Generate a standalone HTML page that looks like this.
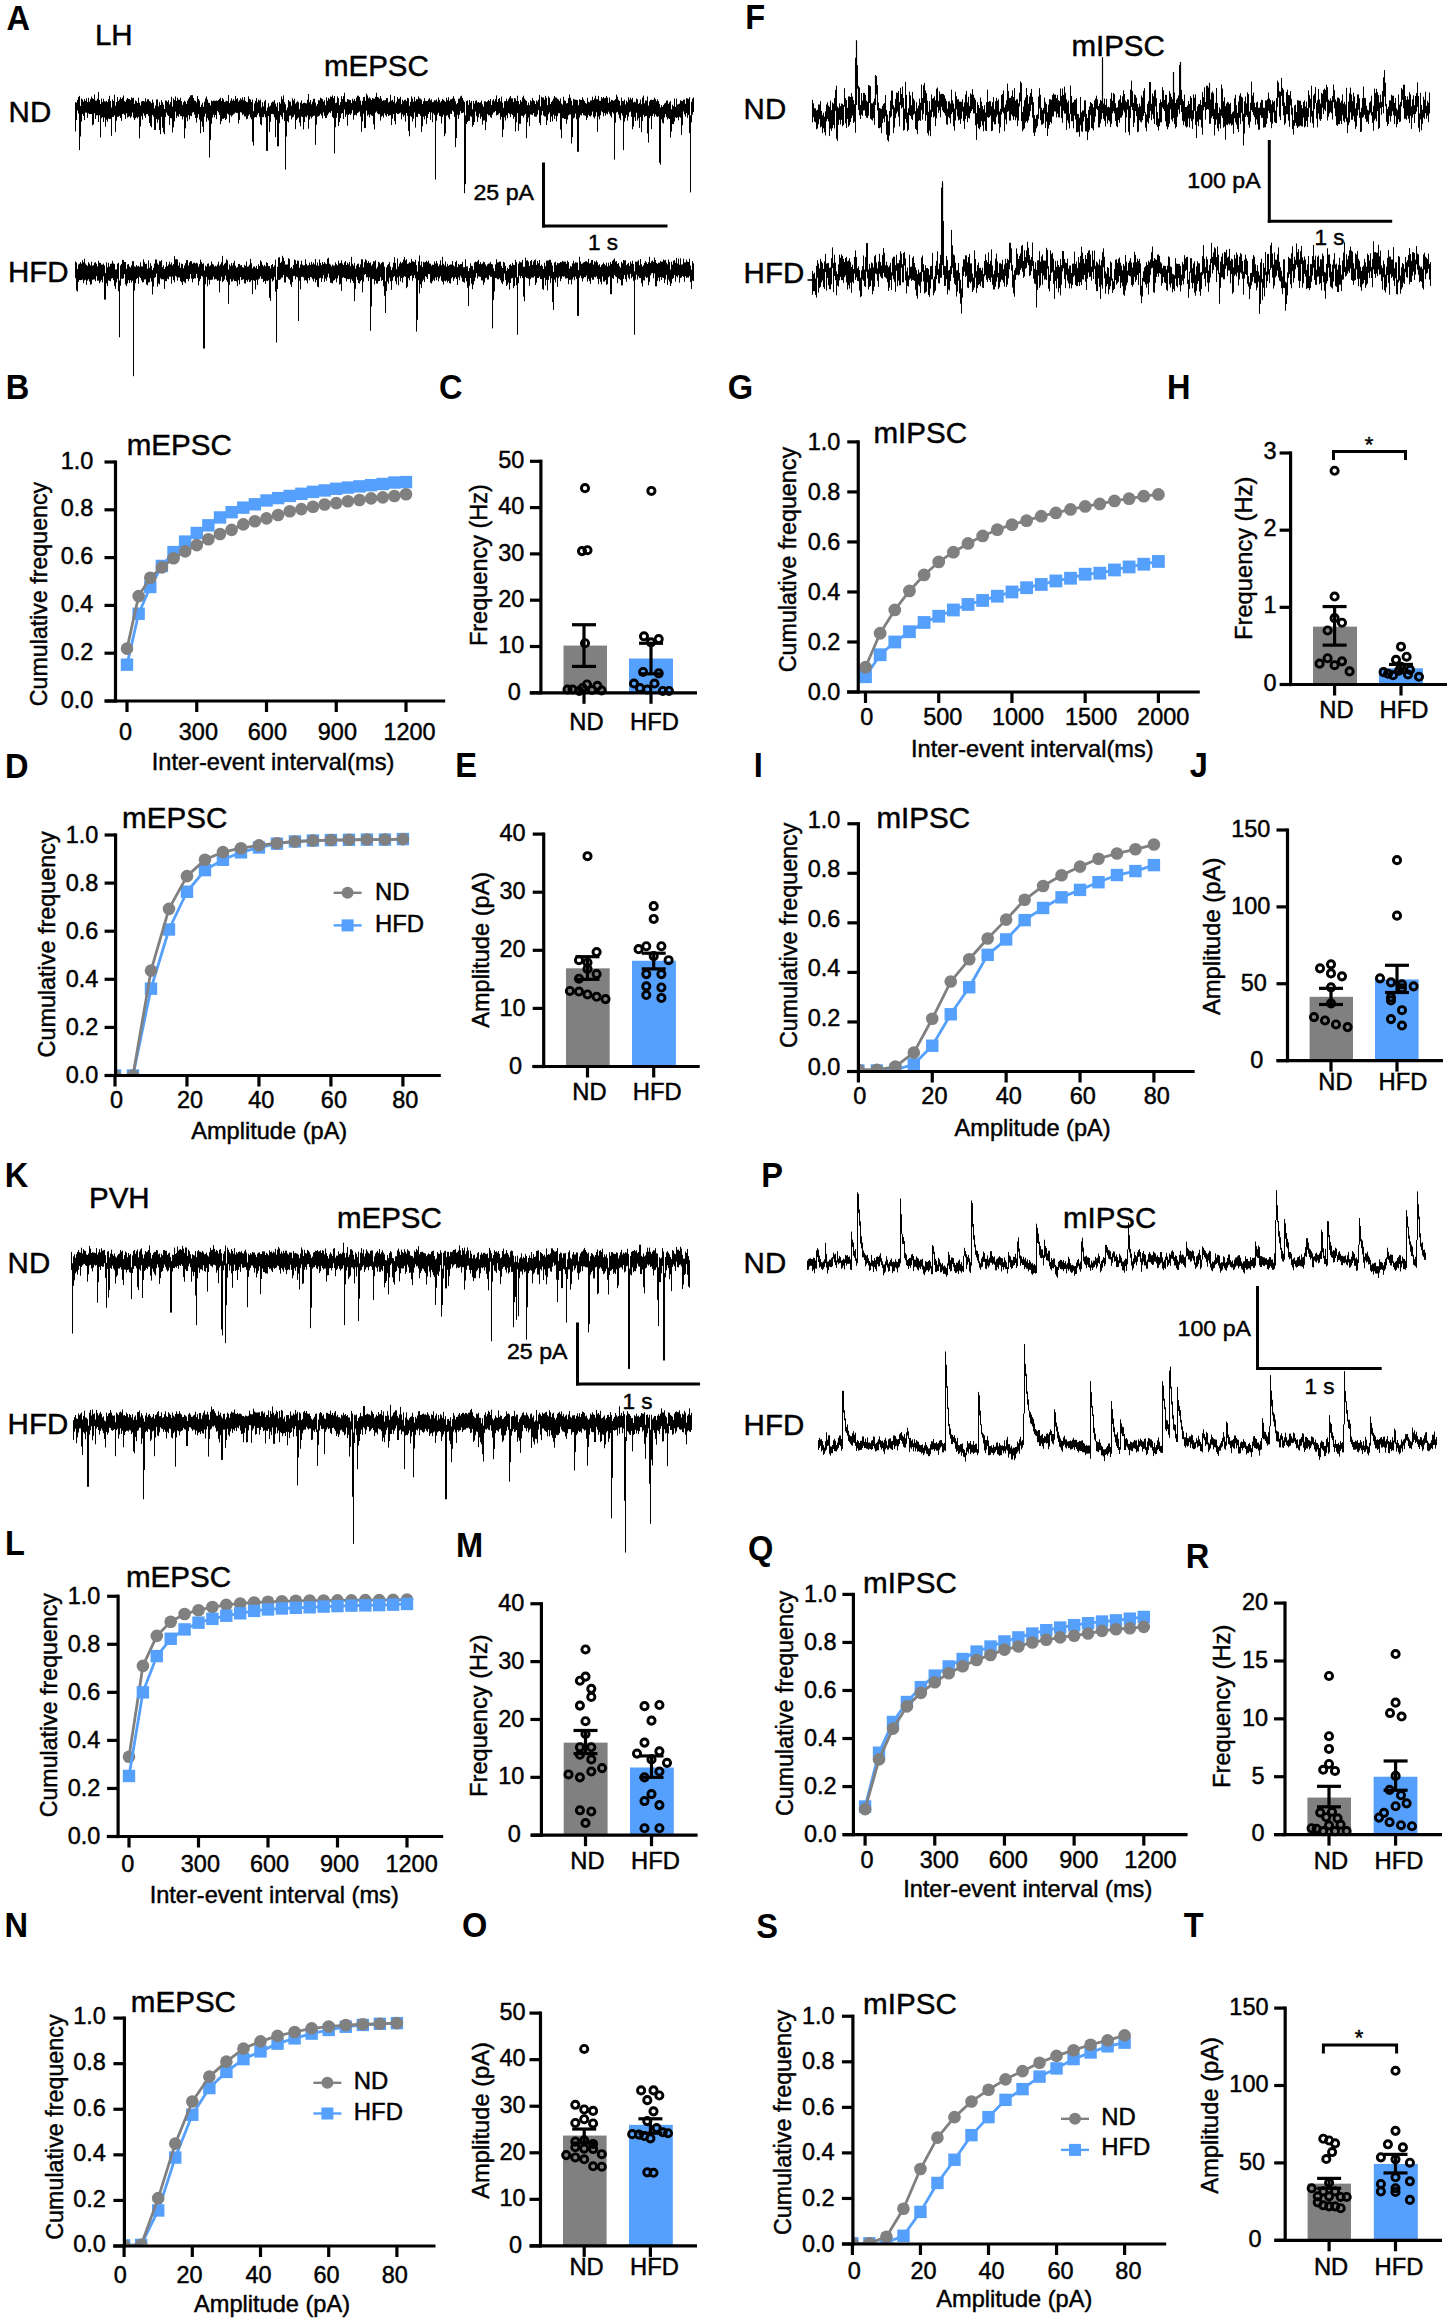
<!DOCTYPE html>
<html><head><meta charset="utf-8"><style>
html,body{margin:0;padding:0;background:#fff;}
svg{display:block;}
text{font-family:"Liberation Sans", sans-serif;stroke:#000;stroke-width:0.45px;}
text[font-weight=bold]{stroke:none;}
</style></head><body>
<svg width="1450" height="2319" viewBox="0 0 1450 2319">
<rect width="1450" height="2319" fill="#fff"/>
<text transform="translate(6.42,29.8) scale(0.91,1)" font-size="35.8" font-weight="bold" fill="#000">A</text>
<text transform="translate(745.22,29) scale(0.91,1)" font-size="35.8" font-weight="bold" fill="#000">F</text>
<text transform="translate(5.82,398.5) scale(0.91,1)" font-size="35.8" font-weight="bold" fill="#000">B</text>
<text transform="translate(439.1,398.5) scale(0.91,1)" font-size="35.8" font-weight="bold" fill="#000">C</text>
<text transform="translate(727.8,398.5) scale(0.91,1)" font-size="35.8" font-weight="bold" fill="#000">G</text>
<text transform="translate(1167.12,398.5) scale(0.91,1)" font-size="35.8" font-weight="bold" fill="#000">H</text>
<text transform="translate(5.12,777.5) scale(0.91,1)" font-size="35.8" font-weight="bold" fill="#000">D</text>
<text transform="translate(455.32,777.2) scale(0.91,1)" font-size="35.8" font-weight="bold" fill="#000">E</text>
<text transform="translate(753.82,777.2) scale(0.91,1)" font-size="35.8" font-weight="bold" fill="#000">I</text>
<text transform="translate(1189.85,777.2) scale(0.91,1)" font-size="35.8" font-weight="bold" fill="#000">J</text>
<text transform="translate(4.72,1186.7) scale(0.91,1)" font-size="35.8" font-weight="bold" fill="#000">K</text>
<text transform="translate(761.22,1186.7) scale(0.91,1)" font-size="35.8" font-weight="bold" fill="#000">P</text>
<text transform="translate(5.12,1555.3) scale(0.91,1)" font-size="35.8" font-weight="bold" fill="#000">L</text>
<text transform="translate(456.02,1557.2) scale(0.91,1)" font-size="35.8" font-weight="bold" fill="#000">M</text>
<text transform="translate(748.1,1560) scale(0.91,1)" font-size="35.8" font-weight="bold" fill="#000">Q</text>
<text transform="translate(1185.72,1568.4) scale(0.91,1)" font-size="35.8" font-weight="bold" fill="#000">R</text>
<text transform="translate(4.52,1937.2) scale(0.91,1)" font-size="35.8" font-weight="bold" fill="#000">N</text>
<text transform="translate(461.9,1937.2) scale(0.91,1)" font-size="35.8" font-weight="bold" fill="#000">O</text>
<text transform="translate(756.22,1937.5) scale(0.91,1)" font-size="35.8" font-weight="bold" fill="#000">S</text>
<text transform="translate(1183.67,1937) scale(0.91,1)" font-size="35.8" font-weight="bold" fill="#000">T</text>
<text transform="translate(94.9,45.4)" font-size="29.5" fill="#000">LH</text>
<text transform="translate(323.9,76)" font-size="29.5" fill="#000">mEPSC</text>
<text transform="translate(8.6,121.7)" font-size="29.5" fill="#000">ND</text>
<text transform="translate(8,282)" font-size="29.5" fill="#000">HFD</text>
<line x1="543.5" y1="162.5" x2="543.5" y2="227.5" stroke="#000" stroke-width="3" stroke-linecap="butt"/>
<line x1="542" y1="226" x2="667.5" y2="226" stroke="#000" stroke-width="3" stroke-linecap="butt"/>
<text transform="translate(534,200) scale(1.03,1)" font-size="22.5" text-anchor="end" fill="#000">25 pA</text>
<text transform="translate(603,250)" font-size="22.5" text-anchor="middle" fill="#000">1 s</text>
<path d="M75.5 102.2V131.5M76.5 102.5V120.0M77.5 99.9V110.5M78.5 97.0V113.5M79.5 95.9V150.1M80.5 105.9V136.5M81.5 98.5V121.6M82.5 99.6V113.9M83.5 101.7V115.9M84.5 99.1V120.1M85.5 100.8V112.6M86.5 98.2V112.7M87.5 102.1V117.8M88.5 97.8V113.3M89.5 101.7V114.1M90.5 99.2V114.0M91.5 96.6V114.0M92.5 98.3V125.2M93.5 99.0V124.4M94.5 94.5V113.2M95.5 100.5V119.0M96.5 100.6V115.3M97.5 98.7V115.2M98.5 92.0V122.0M99.5 100.0V115.4M100.5 104.1V137.4M101.5 98.5V118.3M102.5 102.0V117.1M103.5 98.7V122.0M104.5 101.3V117.5M105.5 101.6V126.7M106.5 100.8V119.7M107.5 102.2V121.8M108.5 99.4V118.6M109.5 95.8V119.1M110.5 101.0V118.9M111.5 107.5V135.9M112.5 99.4V116.9M113.5 101.0V116.9M114.5 94.7V115.3M115.5 105.7V132.1M116.5 102.0V120.7M117.5 96.9V116.8M118.5 100.8V116.8M119.5 99.5V115.8M120.5 97.3V118.0M121.5 98.9V120.9M122.5 97.7V114.2M123.5 95.5V113.7M124.5 101.1V114.9M125.5 101.7V118.8M126.5 99.6V113.3M127.5 98.0V117.6M128.5 98.9V116.8M129.5 99.1V116.1M130.5 100.1V117.9M131.5 97.3V116.5M132.5 98.2V112.5M133.5 97.7V117.6M134.5 103.9V120.1M135.5 100.5V118.3M136.5 101.3V117.2M137.5 103.0V118.3M138.5 97.7V116.9M139.5 102.7V138.4M140.5 105.4V126.4M141.5 101.5V116.2M142.5 101.1V119.7M143.5 101.0V113.4M144.5 101.6V115.7M145.5 98.3V117.8M146.5 101.5V114.2M147.5 99.3V114.0M148.5 99.2V115.9M149.5 101.1V123.0M150.5 101.7V125.9M151.5 103.2V127.4M152.5 99.6V115.0M153.5 102.5V116.6M154.5 108.3V130.0M155.5 105.6V129.9M156.5 99.5V119.1M157.5 99.5V122.8M158.5 106.4V119.6M159.5 102.2V130.1M160.5 105.0V134.2M161.5 100.1V116.8M162.5 102.3V127.7M163.5 104.7V132.4M164.5 109.0V134.2M165.5 100.5V117.0M166.5 100.7V112.7M167.5 101.9V114.9M168.5 100.2V115.9M169.5 104.4V125.1M170.5 102.1V118.0M171.5 96.8V118.5M172.5 106.6V132.5M173.5 98.5V127.4M174.5 100.1V121.3M175.5 96.4V111.7M176.5 101.0V117.9M177.5 97.7V115.8M178.5 99.6V116.7M179.5 99.9V114.1M180.5 97.7V116.1M181.5 101.1V116.1M182.5 104.8V119.4M183.5 102.2V116.6M184.5 100.7V138.3M185.5 101.7V128.4M186.5 104.1V117.5M187.5 100.6V121.2M188.5 98.8V115.2M189.5 97.2V119.4M190.5 95.4V115.7M191.5 95.2V116.2M192.5 95.2V112.7M193.5 98.0V112.0M194.5 100.6V114.5M195.5 100.8V118.0M196.5 102.4V122.6M197.5 96.0V117.8M198.5 98.9V114.2M199.5 100.6V119.6M200.5 107.0V133.3M201.5 104.7V121.6M202.5 102.8V126.7M203.5 106.8V132.0M204.5 101.7V116.7M205.5 98.4V113.7M206.5 96.5V121.8M207.5 99.5V118.2M208.5 102.7V120.4M209.5 103.0V157.6M210.5 105.4V139.9M211.5 100.6V123.8M212.5 101.3V117.6M213.5 100.6V114.7M214.5 100.8V117.4M215.5 100.9V115.0M216.5 100.5V119.1M217.5 100.9V111.0M218.5 100.1V112.4M219.5 99.0V115.0M220.5 97.6V124.2M221.5 101.1V121.2M222.5 98.0V118.8M223.5 99.3V118.8M224.5 102.0V117.9M225.5 101.5V120.0M226.5 100.7V118.8M227.5 101.2V113.6M228.5 95.0V114.5M229.5 103.1V122.7M230.5 100.8V115.2M231.5 98.3V116.7M232.5 100.7V115.4M233.5 99.2V114.3M234.5 100.7V113.6M235.5 95.9V112.5M236.5 99.1V112.9M237.5 98.1V113.1M238.5 101.5V123.5M239.5 100.3V119.9M240.5 98.3V112.2M241.5 99.6V112.6M242.5 97.4V115.0M243.5 100.3V114.3M244.5 97.1V116.4M245.5 100.9V116.4M246.5 101.8V119.3M247.5 102.2V118.7M248.5 96.3V115.7M249.5 98.9V114.4M250.5 99.5V117.5M251.5 102.0V119.3M252.5 99.5V141.8M253.5 111.2V145.6M254.5 103.3V117.6M255.5 100.8V117.0M256.5 98.0V117.3M257.5 102.3V114.7M258.5 99.7V113.0M259.5 100.7V116.8M260.5 99.6V124.2M261.5 107.3V125.3M262.5 102.3V117.0M263.5 106.3V117.2M264.5 101.3V114.4M265.5 99.9V117.4M266.5 110.8V150.9M267.5 107.6V150.9M268.5 103.2V116.1M269.5 106.6V131.9M270.5 105.6V121.9M271.5 102.7V114.0M272.5 101.6V113.9M273.5 101.7V114.5M274.5 100.2V117.4M275.5 103.6V137.2M276.5 106.6V119.8M277.5 102.7V146.3M278.5 111.1V146.3M279.5 102.1V123.2M280.5 103.6V115.2M281.5 96.4V116.8M282.5 99.2V119.3M283.5 95.4V112.7M284.5 102.2V120.9M285.5 104.3V169.6M286.5 110.1V136.5M287.5 107.6V121.2M288.5 100.0V122.4M289.5 101.4V115.8M290.5 101.7V115.5M291.5 105.7V119.5M292.5 98.3V117.4M293.5 100.4V116.8M294.5 98.8V114.6M295.5 103.6V129.1M296.5 102.4V120.0M297.5 101.2V118.6M298.5 102.3V117.5M299.5 109.2V122.5M300.5 102.6V126.2M301.5 100.4V116.6M302.5 103.8V117.0M303.5 103.0V129.4M304.5 102.7V122.0M305.5 103.2V116.5M306.5 103.4V117.3M307.5 99.7V115.4M308.5 94.0V128.7M309.5 102.2V119.6M310.5 100.1V116.5M311.5 104.3V118.5M312.5 101.7V116.8M313.5 98.8V115.8M314.5 98.7V115.6M315.5 102.7V144.8M316.5 105.9V124.6M317.5 104.1V116.8M318.5 100.2V116.3M319.5 100.3V115.5M320.5 97.7V113.8M321.5 98.4V115.5M322.5 99.2V118.3M323.5 101.6V112.5M324.5 100.2V115.8M325.5 105.2V118.1M326.5 97.3V117.8M327.5 100.8V115.3M328.5 97.9V113.6M329.5 99.1V112.2M330.5 96.5V113.0M331.5 96.8V111.0M332.5 95.4V117.0M333.5 98.2V118.2M334.5 96.0V153.4M335.5 103.2V127.3M336.5 102.5V117.8M337.5 96.4V113.1M338.5 98.2V126.1M339.5 105.1V122.1M340.5 102.3V118.1M341.5 96.2V113.7M342.5 99.0V113.0M343.5 96.1V119.0M344.5 92.7V109.5M345.5 101.6V116.9M346.5 102.0V114.5M347.5 99.0V125.7M348.5 99.5V115.0M349.5 99.9V113.8M350.5 100.1V115.1M351.5 103.1V113.5M352.5 98.7V110.2M353.5 100.6V119.7M354.5 98.9V115.2M355.5 101.2V114.7M356.5 97.6V115.5M357.5 95.7V113.1M358.5 95.7V112.4M359.5 97.0V111.6M360.5 100.5V116.5M361.5 104.8V131.8M362.5 100.8V121.4M363.5 97.1V113.8M364.5 96.8V128.1M365.5 100.8V128.1M366.5 93.6V110.6M367.5 95.4V115.8M368.5 98.4V114.6M369.5 97.3V117.4M370.5 98.4V114.5M371.5 100.1V115.4M372.5 98.0V116.0M373.5 98.5V124.4M374.5 98.8V129.4M375.5 96.8V112.7M376.5 92.8V111.5M377.5 97.0V113.4M378.5 97.5V114.2M379.5 98.8V114.2M380.5 96.0V120.6M381.5 98.6V116.7M382.5 100.9V115.7M383.5 100.2V117.6M384.5 100.4V113.3M385.5 100.1V115.1M386.5 98.1V116.7M387.5 98.0V114.0M388.5 102.4V116.1M389.5 101.6V115.5M390.5 94.8V115.1M391.5 100.7V125.0M392.5 99.8V118.6M393.5 101.6V114.2M394.5 95.9V120.9M395.5 103.4V124.4M396.5 101.7V113.0M397.5 97.0V114.0M398.5 99.0V114.0M399.5 98.5V113.3M400.5 96.8V112.6M401.5 104.2V119.4M402.5 99.7V114.4M403.5 101.3V116.7M404.5 99.9V115.3M405.5 99.6V121.6M406.5 101.2V113.0M407.5 97.8V115.9M408.5 98.3V131.0M409.5 105.8V136.3M410.5 101.9V116.1M411.5 96.3V116.9M412.5 98.6V121.6M413.5 101.7V118.7M414.5 96.9V112.5M415.5 101.2V127.6M416.5 99.1V116.9M417.5 99.4V117.2M418.5 96.4V113.8M419.5 98.4V114.0M420.5 98.5V115.9M421.5 99.7V132.0M422.5 104.0V126.2M423.5 101.3V116.7M424.5 98.1V119.4M425.5 100.9V115.9M426.5 101.1V124.0M427.5 101.1V118.0M428.5 99.4V114.0M429.5 98.2V112.1M430.5 100.3V119.9M431.5 99.3V112.5M432.5 102.2V122.2M433.5 101.8V113.5M434.5 100.2V115.0M435.5 100.4V179.6M436.5 99.4V120.7M437.5 101.7V114.5M438.5 97.5V112.8M439.5 99.9V116.0M440.5 102.4V116.3M441.5 100.9V123.5M442.5 98.9V116.8M443.5 99.8V114.7M444.5 100.8V136.2M445.5 101.9V133.6M446.5 97.8V115.8M447.5 100.2V115.2M448.5 97.2V117.5M449.5 100.9V119.3M450.5 99.3V113.8M451.5 99.3V114.0M452.5 98.3V110.7M453.5 96.2V111.8M454.5 98.6V116.8M455.5 101.3V147.1M456.5 104.2V138.1M457.5 103.0V114.8M458.5 98.8V118.8M459.5 98.5V114.9M460.5 96.5V111.1M461.5 95.7V113.1M462.5 98.0V113.0M463.5 100.4V112.4M464.5 101.9V193.2M465.5 115.4V184.2M466.5 101.0V123.9M467.5 100.4V122.0M468.5 104.9V120.8M469.5 99.9V120.9M470.5 102.6V116.2M471.5 101.0V116.9M472.5 109.2V126.8M473.5 100.9V125.0M474.5 103.6V122.1M475.5 100.8V111.6M476.5 100.4V116.1M477.5 102.5V121.9M478.5 102.0V117.3M479.5 102.8V113.7M480.5 102.3V118.7M481.5 100.5V116.7M482.5 104.4V124.6M483.5 106.7V120.6M484.5 101.4V120.3M485.5 101.3V130.1M486.5 102.1V121.9M487.5 101.3V114.0M488.5 100.0V115.4M489.5 101.1V115.2M490.5 99.0V117.2M491.5 105.0V117.9M492.5 100.6V114.6M493.5 99.2V112.6M494.5 101.3V112.2M495.5 99.2V111.0M496.5 95.4V115.5M497.5 102.0V114.9M498.5 99.1V114.4M499.5 98.0V113.1M500.5 101.3V119.6M501.5 96.6V116.9M502.5 102.7V137.1M503.5 107.8V129.5M504.5 101.2V117.3M505.5 101.1V120.5M506.5 98.5V115.3M507.5 101.2V118.3M508.5 99.3V113.0M509.5 97.5V113.9M510.5 96.0V117.1M511.5 98.4V113.9M512.5 98.4V115.0M513.5 102.0V118.8M514.5 98.0V116.9M515.5 98.6V131.4M516.5 101.0V122.2M517.5 95.7V113.2M518.5 101.1V130.8M519.5 104.2V123.8M520.5 100.0V123.8M521.5 101.6V115.7M522.5 97.4V115.8M523.5 95.7V117.6M524.5 98.6V115.3M525.5 99.8V113.9M526.5 100.9V138.2M527.5 105.1V122.2M528.5 102.5V117.7M529.5 105.1V126.1M530.5 100.3V114.4M531.5 101.4V114.7M532.5 97.9V115.1M533.5 100.2V113.2M534.5 101.2V116.6M535.5 104.0V116.6M536.5 100.5V116.6M537.5 101.6V114.5M538.5 99.7V110.2M539.5 94.9V122.8M540.5 106.3V125.1M541.5 96.8V115.2M542.5 97.5V110.9M543.5 97.6V115.4M544.5 99.7V116.4M545.5 95.8V116.6M546.5 97.8V125.0M547.5 105.1V120.4M548.5 96.3V114.2M549.5 97.7V112.5M550.5 104.0V122.0M551.5 101.9V116.6M552.5 100.5V121.3M553.5 98.5V114.7M554.5 96.0V118.9M555.5 97.4V115.8M556.5 97.6V121.4M557.5 98.8V116.2M558.5 99.5V113.3M559.5 101.0V113.2M560.5 98.4V129.6M561.5 103.5V138.2M562.5 104.6V118.2M563.5 96.7V118.2M564.5 100.3V119.0M565.5 100.9V118.8M566.5 103.5V123.8M567.5 103.0V119.5M568.5 98.2V115.4M569.5 94.4V114.5M570.5 97.8V114.5M571.5 100.7V143.5M572.5 105.3V137.1M573.5 98.9V118.5M574.5 99.5V117.6M575.5 99.7V113.6M576.5 99.9V119.3M577.5 100.2V151.8M578.5 105.2V151.8M579.5 99.3V117.6M580.5 99.8V114.9M581.5 100.0V115.5M582.5 97.2V113.0M583.5 99.5V115.2M584.5 101.1V115.4M585.5 102.9V115.8M586.5 103.7V120.1M587.5 97.8V117.7M588.5 101.8V114.7M589.5 102.4V116.1M590.5 100.5V116.7M591.5 100.4V115.2M592.5 96.7V111.6M593.5 100.0V116.9M594.5 98.5V118.5M595.5 95.7V116.4M596.5 99.2V112.3M597.5 99.3V131.8M598.5 95.9V116.6M599.5 100.7V119.4M600.5 100.8V115.2M601.5 97.1V111.3M602.5 98.4V112.3M603.5 96.9V116.3M604.5 98.3V113.1M605.5 97.8V115.6M606.5 96.0V113.5M607.5 97.7V114.4M608.5 102.8V111.7M609.5 97.5V113.7M610.5 101.6V115.8M611.5 99.8V117.6M612.5 100.2V112.1M613.5 100.8V113.5M614.5 100.2V159.6M615.5 99.1V122.7M616.5 94.6V112.6M617.5 96.7V111.9M618.5 99.8V114.5M619.5 101.0V118.2M620.5 105.5V120.3M621.5 97.5V113.2M622.5 100.9V115.6M623.5 101.2V150.2M624.5 99.6V121.7M625.5 104.4V117.9M626.5 100.7V114.9M627.5 102.2V120.6M628.5 97.3V116.6M629.5 99.7V112.3M630.5 97.7V111.6M631.5 99.5V116.7M632.5 97.9V129.3M633.5 102.4V126.5M634.5 101.7V117.1M635.5 102.3V121.0M636.5 98.6V112.8M637.5 99.3V120.6M638.5 103.9V118.3M639.5 102.7V127.9M640.5 99.5V116.9M641.5 104.3V132.2M642.5 97.5V121.1M643.5 95.6V114.9M644.5 103.2V117.2M645.5 100.4V116.1M646.5 100.7V115.8M647.5 96.5V133.5M648.5 105.6V142.6M649.5 101.4V118.0M650.5 99.9V116.0M651.5 99.7V129.1M652.5 100.1V115.9M653.5 99.7V113.9M654.5 97.7V116.8M655.5 99.2V114.4M656.5 101.3V116.3M657.5 99.3V117.0M658.5 101.0V116.3M659.5 103.8V162.7M660.5 107.4V164.7M661.5 105.2V119.3M662.5 106.9V122.7M663.5 105.1V123.5M664.5 103.6V117.5M665.5 102.8V114.2M666.5 100.6V117.0M667.5 100.6V119.5M668.5 103.8V118.2M669.5 102.2V119.0M670.5 101.1V137.7M671.5 109.3V131.6M672.5 104.7V124.0M673.5 106.1V124.2M674.5 98.5V121.5M675.5 106.9V117.4M676.5 98.6V118.0M677.5 104.5V117.3M678.5 104.2V120.3M679.5 103.6V116.9M680.5 100.3V117.7M681.5 100.9V134.9M682.5 101.1V125.2M683.5 99.7V111.5M684.5 99.6V114.3M685.5 103.8V116.6M686.5 98.2V113.1M687.5 98.4V117.8M688.5 99.0V115.0M689.5 97.2V133.1M690.5 115.4V192.4M691.5 101.9V122.3M692.5 98.7V114.7M693.5 97.5V112.0" fill="none" stroke="#000" stroke-width="1"/>
<path d="M75.5 261.6V278.2M76.5 262.5V290.5M77.5 269.0V291.5M78.5 264.5V282.0M79.5 263.7V280.0M80.5 262.1V280.1M81.5 263.7V280.1M82.5 260.3V279.5M83.5 262.3V283.2M84.5 258.7V280.5M85.5 263.5V279.8M86.5 265.0V284.8M87.5 265.9V280.6M88.5 262.2V279.2M89.5 263.6V281.6M90.5 265.4V284.7M91.5 261.6V284.2M92.5 265.6V279.8M93.5 265.1V279.5M94.5 262.8V279.5M95.5 262.2V281.3M96.5 263.8V276.1M97.5 266.4V280.7M98.5 260.8V280.6M99.5 262.8V283.2M100.5 262.9V281.6M101.5 264.6V279.8M102.5 264.7V282.4M103.5 263.6V276.4M104.5 265.5V299.6M105.5 273.0V299.6M106.5 262.3V283.4M107.5 267.2V286.0M108.5 262.9V280.4M109.5 266.5V280.9M110.5 263.9V281.3M111.5 263.6V278.6M112.5 260.8V278.1M113.5 263.3V280.1M114.5 264.1V286.1M115.5 269.7V288.9M116.5 269.3V282.4M117.5 263.7V278.8M118.5 262.7V291.3M119.5 280.5V337.3M120.5 265.4V285.7M121.5 263.9V278.7M122.5 259.8V278.7M123.5 260.1V278.4M124.5 262.0V274.1M125.5 262.0V284.5M126.5 268.9V286.1M127.5 264.5V283.5M128.5 264.0V280.2M129.5 266.4V283.0M130.5 267.6V280.2M131.5 265.4V282.5M132.5 261.2V280.7M133.5 261.2V376.2M134.5 266.3V290.6M135.5 266.8V283.3M136.5 265.0V279.1M137.5 266.3V278.0M138.5 265.8V283.8M139.5 266.8V276.7M140.5 262.3V278.0M141.5 266.3V280.4M142.5 266.5V282.5M143.5 259.4V282.1M144.5 262.2V279.5M145.5 264.0V279.3M146.5 263.7V284.5M147.5 268.8V285.3M148.5 260.4V282.5M149.5 267.8V282.2M150.5 263.2V278.3M151.5 265.9V281.6M152.5 270.1V294.5M153.5 267.9V286.6M154.5 263.6V277.9M155.5 259.5V277.1M156.5 259.5V273.7M157.5 263.4V286.6M158.5 264.8V283.5M159.5 261.1V284.4M160.5 261.4V278.3M161.5 260.1V279.3M162.5 267.1V279.2M163.5 265.3V279.4M164.5 269.0V288.9M165.5 266.9V281.1M166.5 261.9V281.2M167.5 266.1V278.6M168.5 264.5V279.3M169.5 261.7V276.6M170.5 264.4V276.6M171.5 262.5V283.7M172.5 265.4V276.6M173.5 264.1V280.2M174.5 256.1V282.3M175.5 259.3V275.8M176.5 259.1V276.8M177.5 259.5V280.7M178.5 265.6V277.3M179.5 262.4V277.6M180.5 267.8V281.2M181.5 263.6V282.3M182.5 263.9V285.0M183.5 268.3V281.3M184.5 265.5V282.2M185.5 263.2V283.2M186.5 260.1V278.9M187.5 260.0V279.1M188.5 265.5V281.2M189.5 262.4V278.8M190.5 261.2V274.1M191.5 261.2V278.6M192.5 263.9V282.4M193.5 262.8V278.9M194.5 262.7V278.2M195.5 263.5V278.4M196.5 262.7V273.9M197.5 263.4V277.9M198.5 266.6V285.3M199.5 264.2V281.2M200.5 259.7V278.9M201.5 262.1V275.8M202.5 263.8V276.7M203.5 263.3V348.5M204.5 270.4V348.5M205.5 265.7V284.2M206.5 266.5V276.9M207.5 263.8V286.3M208.5 263.4V279.7M209.5 266.2V284.5M210.5 265.3V279.9M211.5 261.4V279.8M212.5 263.8V279.6M213.5 264.6V276.7M214.5 266.6V279.6M215.5 265.7V278.9M216.5 266.4V279.3M217.5 264.6V280.9M218.5 261.7V280.4M219.5 265.7V292.4M220.5 264.3V280.9M221.5 262.2V276.7M222.5 255.9V282.2M223.5 265.4V281.1M224.5 263.8V279.5M225.5 262.8V275.7M226.5 259.3V280.3M227.5 260.4V282.0M228.5 269.6V303.9M229.5 264.4V284.8M230.5 266.0V279.1M231.5 263.1V281.7M232.5 265.5V281.3M233.5 262.9V279.5M234.5 260.8V281.0M235.5 265.8V281.0M236.5 267.7V281.6M237.5 267.1V286.1M238.5 264.0V280.2M239.5 263.9V284.4M240.5 265.4V277.0M241.5 265.0V280.2M242.5 267.2V279.7M243.5 267.6V279.3M244.5 264.8V283.3M245.5 265.9V283.6M246.5 261.5V280.2M247.5 266.7V281.8M248.5 266.3V279.6M249.5 264.7V282.1M250.5 258.9V281.6M251.5 263.2V280.2M252.5 268.3V294.1M253.5 266.6V280.2M254.5 266.3V280.9M255.5 267.8V289.5M256.5 265.8V279.8M257.5 269.0V284.9M258.5 264.2V279.5M259.5 266.1V278.6M260.5 260.3V276.4M261.5 261.7V279.0M262.5 264.7V278.8M263.5 266.4V282.1M264.5 264.9V281.0M265.5 266.4V283.9M266.5 262.2V280.7M267.5 263.0V281.1M268.5 266.1V280.3M269.5 266.0V297.9M270.5 268.4V300.9M271.5 265.0V278.8M272.5 264.0V281.5M273.5 267.0V280.3M274.5 265.4V276.9M275.5 259.6V291.5M276.5 279.7V342.5M277.5 266.7V289.0M278.5 257.6V279.9M279.5 257.2V279.9M280.5 262.9V279.2M281.5 261.8V277.7M282.5 255.8V277.4M283.5 257.8V274.9M284.5 261.2V282.5M285.5 264.6V282.5M286.5 264.5V276.7M287.5 264.5V277.2M288.5 258.2V278.7M289.5 259.1V279.7M290.5 268.2V284.4M291.5 266.9V286.9M292.5 268.7V282.0M293.5 264.9V276.1M294.5 259.5V275.9M295.5 260.2V279.4M296.5 263.9V276.7M297.5 260.7V277.4M298.5 260.8V321.0M299.5 267.8V280.8M300.5 264.5V289.4M301.5 260.7V277.0M302.5 264.6V276.7M303.5 265.4V277.4M304.5 265.2V280.6M305.5 259.3V279.9M306.5 263.9V280.6M307.5 265.6V283.3M308.5 265.3V278.0M309.5 262.6V280.3M310.5 264.9V277.0M311.5 261.9V277.4M312.5 264.4V279.2M313.5 262.5V281.5M314.5 264.3V278.6M315.5 259.0V282.4M316.5 265.3V280.2M317.5 262.5V286.6M318.5 265.8V287.3M319.5 259.5V278.4M320.5 262.9V277.8M321.5 265.1V281.9M322.5 262.0V278.5M323.5 263.9V275.1M324.5 262.2V281.9M325.5 263.5V278.7M326.5 264.1V280.8M327.5 258.7V277.2M328.5 257.8V273.7M329.5 263.6V278.1M330.5 264.7V282.8M331.5 266.4V282.8M332.5 264.6V283.5M333.5 265.5V280.7M334.5 265.6V280.1M335.5 262.3V278.6M336.5 264.2V282.3M337.5 265.3V278.4M338.5 260.6V275.6M339.5 263.4V284.6M340.5 262.9V283.9M341.5 260.3V290.9M342.5 263.5V277.9M343.5 265.0V277.2M344.5 262.3V278.0M345.5 261.1V278.3M346.5 265.0V281.5M347.5 262.7V279.0M348.5 264.4V279.2M349.5 261.9V278.9M350.5 266.2V282.8M351.5 256.8V279.3M352.5 263.8V280.9M353.5 265.6V283.0M354.5 263.1V301.2M355.5 268.6V288.8M356.5 265.5V277.0M357.5 263.9V279.8M358.5 263.6V283.0M359.5 267.1V283.6M360.5 264.4V281.3M361.5 259.3V280.0M362.5 259.3V292.4M363.5 267.3V281.7M364.5 262.1V274.9M365.5 259.3V274.0M366.5 260.3V277.4M367.5 263.0V277.2M368.5 261.1V281.0M369.5 263.1V277.3M370.5 262.4V330.8M371.5 265.7V306.5M372.5 264.2V279.1M373.5 261.3V279.1M374.5 261.5V284.4M375.5 260.3V280.6M376.5 268.6V283.5M377.5 266.8V283.6M378.5 261.8V281.2M379.5 262.5V281.0M380.5 264.4V277.0M381.5 262.9V280.9M382.5 261.9V280.0M383.5 262.3V286.2M384.5 266.7V295.8M385.5 281.3V313.0M386.5 267.3V291.1M387.5 265.2V281.6M388.5 263.9V283.7M389.5 262.0V277.8M390.5 266.6V281.3M391.5 270.1V289.8M392.5 267.4V280.7M393.5 262.6V277.1M394.5 257.2V276.2M395.5 263.1V281.3M396.5 269.2V284.3M397.5 258.5V277.5M398.5 266.5V285.3M399.5 263.6V276.3M400.5 261.7V281.4M401.5 263.3V278.0M402.5 262.2V282.6M403.5 259.6V277.4M404.5 257.1V276.2M405.5 260.4V276.8M406.5 259.3V288.2M407.5 263.9V286.7M408.5 263.4V278.1M409.5 262.2V280.3M410.5 262.8V276.1M411.5 258.9V275.4M412.5 261.3V280.8M413.5 261.6V278.0M414.5 262.1V275.3M415.5 259.8V278.4M416.5 265.1V331.6M417.5 271.5V319.8M418.5 261.4V280.2M419.5 255.4V293.4M420.5 265.3V284.2M421.5 261.6V287.9M422.5 267.0V281.4M423.5 261.9V279.7M424.5 262.5V282.0M425.5 261.9V276.2M426.5 260.7V277.2M427.5 262.1V279.0M428.5 260.6V274.0M429.5 263.4V274.2M430.5 263.7V282.7M431.5 265.7V283.5M432.5 264.6V281.4M433.5 264.9V279.6M434.5 261.6V280.9M435.5 263.6V277.5M436.5 261.0V280.2M437.5 263.4V277.0M438.5 266.2V281.4M439.5 264.5V278.3M440.5 260.3V276.3M441.5 265.3V280.7M442.5 256.8V281.9M443.5 263.8V284.5M444.5 265.4V280.8M445.5 261.5V281.3M446.5 266.8V280.4M447.5 263.8V282.5M448.5 265.9V280.9M449.5 264.9V283.2M450.5 264.5V283.5M451.5 264.5V278.3M452.5 261.1V277.1M453.5 265.3V280.9M454.5 266.5V278.6M455.5 262.0V277.1M456.5 260.8V279.0M457.5 267.2V284.9M458.5 263.9V277.4M459.5 264.9V280.2M460.5 264.0V275.7M461.5 264.1V277.8M462.5 261.9V281.4M463.5 267.3V282.1M464.5 267.3V282.8M465.5 259.2V277.9M466.5 266.4V281.4M467.5 266.4V287.7M468.5 271.1V306.1M469.5 268.1V285.7M470.5 263.3V278.0M471.5 265.8V283.7M472.5 266.1V289.2M473.5 269.7V284.8M474.5 262.5V281.0M475.5 261.7V277.5M476.5 262.1V273.3M477.5 261.2V278.5M478.5 259.8V276.4M479.5 264.1V276.7M480.5 262.2V276.9M481.5 264.2V280.3M482.5 263.5V280.5M483.5 261.7V284.9M484.5 262.2V282.5M485.5 264.5V278.3M486.5 266.2V277.8M487.5 264.4V279.6M488.5 263.6V279.5M489.5 263.4V275.4M490.5 261.9V276.8M491.5 264.0V276.8M492.5 264.4V328.4M493.5 268.3V300.0M494.5 271.1V291.4M495.5 264.4V278.0M496.5 259.3V278.2M497.5 262.4V279.3M498.5 262.3V279.3M499.5 261.5V278.3M500.5 261.7V280.2M501.5 265.9V282.7M502.5 268.0V284.2M503.5 261.8V281.5M504.5 262.6V273.5M505.5 265.8V279.9M506.5 270.8V286.0M507.5 267.8V284.6M508.5 269.0V282.4M509.5 265.0V289.6M510.5 264.2V283.0M511.5 265.8V278.4M512.5 262.8V278.0M513.5 264.8V288.2M514.5 265.0V286.0M515.5 259.8V277.7M516.5 262.2V285.3M517.5 277.1V334.7M518.5 263.7V283.2M519.5 261.5V275.7M520.5 262.2V278.3M521.5 262.3V276.0M522.5 259.9V278.0M523.5 266.7V296.6M524.5 266.9V301.3M525.5 257.6V276.9M526.5 260.7V278.1M527.5 260.1V278.2M528.5 261.7V278.7M529.5 265.9V285.8M530.5 261.1V279.2M531.5 260.0V277.5M532.5 264.9V277.7M533.5 261.6V277.6M534.5 260.2V276.1M535.5 259.5V285.0M536.5 264.9V282.7M537.5 260.9V278.0M538.5 263.3V278.0M539.5 260.0V276.6M540.5 265.9V279.1M541.5 264.6V279.1M542.5 266.2V289.1M543.5 269.0V289.9M544.5 262.7V277.8M545.5 266.2V285.5M546.5 260.6V279.9M547.5 260.6V290.4M548.5 260.6V279.8M549.5 259.8V276.2M550.5 259.9V283.2M551.5 262.6V278.3M552.5 265.6V302.1M553.5 271.9V309.9M554.5 262.5V279.6M555.5 261.8V282.5M556.5 265.1V277.3M557.5 262.9V286.9M558.5 263.4V278.1M559.5 263.1V276.5M560.5 262.0V281.2M561.5 262.3V278.8M562.5 261.0V276.2M563.5 261.6V276.8M564.5 261.6V276.4M565.5 261.7V278.5M566.5 263.7V278.4M567.5 260.6V278.2M568.5 262.1V284.2M569.5 268.6V279.9M570.5 266.0V279.7M571.5 266.7V284.5M572.5 263.4V279.4M573.5 260.7V277.1M574.5 263.4V280.3M575.5 262.2V276.5M576.5 262.5V278.8M577.5 262.6V315.9M578.5 270.0V315.9M579.5 256.8V277.7M580.5 261.5V275.7M581.5 263.9V278.2M582.5 263.4V281.4M583.5 262.5V278.4M584.5 262.0V277.1M585.5 261.3V277.1M586.5 261.3V275.6M587.5 262.3V281.7M588.5 258.9V278.8M589.5 263.5V281.2M590.5 262.8V283.9M591.5 260.2V277.7M592.5 260.0V279.7M593.5 264.5V279.8M594.5 261.3V276.8M595.5 262.2V277.4M596.5 260.6V276.4M597.5 262.3V278.8M598.5 265.2V284.2M599.5 264.2V279.0M600.5 267.1V281.8M601.5 265.2V284.3M602.5 264.1V276.5M603.5 262.5V281.6M604.5 264.1V281.6M605.5 265.4V280.2M606.5 262.7V284.8M607.5 266.5V284.2M608.5 262.8V277.3M609.5 265.7V276.4M610.5 262.1V294.2M611.5 263.9V294.2M612.5 260.8V278.1M613.5 259.7V278.9M614.5 258.5V275.0M615.5 261.6V276.4M616.5 261.2V277.1M617.5 264.0V283.2M618.5 263.0V278.5M619.5 266.2V279.1M620.5 267.7V280.1M621.5 261.8V285.4M622.5 263.3V285.4M623.5 260.0V278.9M624.5 260.4V275.1M625.5 260.2V279.2M626.5 265.2V281.9M627.5 263.9V274.6M628.5 262.8V277.7M629.5 265.9V279.3M630.5 261.6V273.8M631.5 263.6V278.2M632.5 260.7V276.6M633.5 264.1V280.8M634.5 271.3V334.7M635.5 261.6V279.7M636.5 261.8V274.7M637.5 261.4V279.6M638.5 260.2V276.4M639.5 265.2V278.1M640.5 259.0V278.0M641.5 264.3V283.2M642.5 266.5V286.6M643.5 265.3V280.3M644.5 262.9V280.5M645.5 261.2V276.6M646.5 262.3V278.0M647.5 264.0V277.3M648.5 262.2V285.3M649.5 256.8V281.9M650.5 263.1V275.3M651.5 261.3V273.5M652.5 260.4V272.9M653.5 262.0V278.2M654.5 257.5V273.4M655.5 260.0V286.3M656.5 262.9V286.3M657.5 263.8V280.9M658.5 262.7V277.7M659.5 262.8V281.5M660.5 261.0V277.0M661.5 261.8V280.0M662.5 261.6V277.5M663.5 259.5V277.9M664.5 260.4V283.2M665.5 259.8V279.5M666.5 262.7V274.9M667.5 264.4V284.9M668.5 259.5V279.5M669.5 262.0V281.4M670.5 269.6V286.0M671.5 261.8V283.5M672.5 264.6V279.0M673.5 260.7V277.8M674.5 260.2V274.9M675.5 262.7V281.7M676.5 257.9V276.2M677.5 263.5V277.4M678.5 258.6V275.2M679.5 264.7V282.7M680.5 258.3V278.1M681.5 264.6V277.4M682.5 264.3V276.1M683.5 258.7V276.8M684.5 262.4V281.8M685.5 262.3V276.2M686.5 259.6V277.9M687.5 261.7V277.4M688.5 262.0V277.6M689.5 258.7V275.9M690.5 265.6V282.1M691.5 269.8V289.0M692.5 261.1V280.6M693.5 263.3V281.0" fill="none" stroke="#000" stroke-width="1"/>
<text transform="translate(1071.4,56)" font-size="29.5" fill="#000">mIPSC</text>
<text transform="translate(743.6,118.5)" font-size="29.5" fill="#000">ND</text>
<text transform="translate(743.6,282.5)" font-size="29.5" fill="#000">HFD</text>
<line x1="1269.3" y1="140" x2="1269.3" y2="222.7" stroke="#000" stroke-width="3" stroke-linecap="butt"/>
<line x1="1267.8" y1="221.2" x2="1392.2" y2="221.2" stroke="#000" stroke-width="3" stroke-linecap="butt"/>
<text transform="translate(1260.7,188.2) scale(1.03,1)" font-size="22.5" text-anchor="end" fill="#000">100 pA</text>
<text transform="translate(1329.5,245.1)" font-size="22.5" text-anchor="middle" fill="#000">1 s</text>
<path d="M812.5 99.9V122.4M813.5 103.4V117.2M814.5 108.2V121.5M815.5 108.3V122.3M816.5 110.5V129.3M817.5 109.7V128.5M818.5 104.5V124.4M819.5 104.5V119.1M820.5 101.1V127.4M821.5 110.9V126.5M822.5 115.3V133.1M823.5 112.8V128.4M824.5 116.7V132.3M825.5 111.3V135.4M826.5 104.5V121.3M827.5 102.3V119.0M828.5 105.6V121.4M829.5 106.8V136.1M830.5 100.6V128.7M831.5 110.1V130.9M832.5 102.5V128.2M833.5 103.6V125.0M834.5 98.1V128.5M835.5 89.9V110.8M836.5 85.7V138.7M837.5 106.6V140.9M838.5 107.9V124.8M839.5 103.3V119.8M840.5 106.2V124.5M841.5 103.5V119.9M842.5 103.8V126.3M843.5 105.1V125.0M844.5 88.2V106.7M845.5 98.0V123.4M846.5 100.1V128.0M847.5 107.9V119.0M848.5 96.4V126.7M849.5 96.4V125.2M850.5 97.0V121.9M851.5 93.0V118.1M852.5 96.6V115.6M853.5 100.1V123.0M854.5 104.3V121.6M855.5 57.8V132.7M856.5 57.8V79.7M857.5 65.2V88.6M858.5 85.9V109.9M859.5 87.4V115.3M860.5 105.0V119.0M861.5 93.0V114.7M862.5 100.6V115.9M863.5 92.8V110.5M864.5 93.0V110.3M865.5 94.9V115.8M866.5 100.6V117.6M867.5 101.8V118.0M868.5 85.0V115.7M869.5 85.5V103.0M870.5 86.2V118.7M871.5 103.2V119.7M872.5 103.3V120.6M873.5 101.7V118.1M874.5 98.6V124.8M875.5 75.1V103.6M876.5 76.1V94.4M877.5 85.0V110.5M878.5 102.4V128.0M879.5 108.0V128.3M880.5 108.6V127.4M881.5 108.8V133.2M882.5 105.9V123.0M883.5 103.9V118.7M884.5 103.0V122.2M885.5 95.1V116.3M886.5 110.0V134.6M887.5 114.7V140.1M888.5 121.2V141.6M889.5 111.0V135.5M890.5 100.7V117.6M891.5 90.7V116.3M892.5 90.7V109.2M893.5 105.3V133.2M894.5 107.5V127.5M895.5 98.9V118.1M896.5 92.5V113.5M897.5 92.9V111.5M898.5 91.0V116.7M899.5 102.1V126.4M900.5 87.8V105.1M901.5 94.0V108.5M902.5 86.6V107.4M903.5 97.9V130.6M904.5 108.7V129.9M905.5 81.8V119.0M906.5 95.0V122.8M907.5 112.5V131.3M908.5 108.2V129.8M909.5 91.6V115.1M910.5 95.4V116.1M911.5 105.2V118.8M912.5 91.9V120.1M913.5 98.5V114.8M914.5 100.4V113.8M915.5 111.2V128.9M916.5 102.2V130.1M917.5 108.3V134.1M918.5 105.7V121.0M919.5 98.6V120.1M920.5 102.8V120.9M921.5 84.5V110.2M922.5 98.1V119.7M923.5 85.3V114.1M924.5 82.9V103.0M925.5 90.3V120.8M926.5 93.2V115.1M927.5 100.6V133.0M928.5 111.8V135.4M929.5 101.2V130.6M930.5 109.8V136.2M931.5 94.4V117.1M932.5 98.7V111.9M933.5 97.9V117.5M934.5 96.3V116.5M935.5 100.3V126.1M936.5 88.8V118.4M937.5 87.5V107.0M938.5 100.9V112.9M939.5 91.4V110.5M940.5 94.3V117.3M941.5 93.8V106.8M942.5 93.8V110.4M943.5 94.1V112.1M944.5 95.3V113.2M945.5 98.6V115.6M946.5 101.1V124.3M947.5 108.8V124.8M948.5 101.5V116.8M949.5 101.3V118.2M950.5 103.6V123.3M951.5 89.7V114.1M952.5 100.3V112.2M953.5 103.6V126.2M954.5 108.7V130.6M955.5 91.7V120.5M956.5 96.2V109.3M957.5 99.3V116.4M958.5 99.3V120.4M959.5 101.7V119.7M960.5 101.6V123.9M961.5 101.9V118.7M962.5 99.2V111.6M963.5 106.6V121.2M964.5 102.4V128.9M965.5 94.5V119.1M966.5 91.0V115.8M967.5 102.3V122.2M968.5 96.8V117.9M969.5 105.8V118.6M970.5 93.4V113.2M971.5 94.5V111.0M972.5 89.1V109.1M973.5 94.7V113.5M974.5 97.8V113.4M975.5 99.7V125.4M976.5 113.0V139.9M977.5 102.1V124.1M978.5 105.0V128.1M979.5 108.0V129.3M980.5 97.6V127.0M981.5 101.7V121.1M982.5 106.1V125.6M983.5 109.3V131.3M984.5 105.2V121.4M985.5 112.5V130.5M986.5 102.2V131.0M987.5 89.7V117.2M988.5 102.0V117.7M989.5 101.1V117.2M990.5 101.2V115.6M991.5 106.2V131.2M992.5 102.1V130.6M993.5 97.1V121.8M994.5 109.2V124.3M995.5 101.2V124.4M996.5 97.8V116.9M997.5 100.7V114.7M998.5 99.4V123.6M999.5 111.4V133.1M1000.5 108.8V127.3M1001.5 94.9V114.6M1002.5 94.0V111.8M1003.5 90.5V113.3M1004.5 107.4V131.2M1005.5 104.6V119.5M1006.5 100.3V124.3M1007.5 83.6V111.9M1008.5 91.1V111.2M1009.5 97.9V120.6M1010.5 97.8V120.6M1011.5 96.1V114.5M1012.5 90.4V116.2M1013.5 97.0V119.9M1014.5 88.1V116.6M1015.5 100.7V120.3M1016.5 99.3V117.7M1017.5 99.3V126.2M1018.5 103.3V120.6M1019.5 92.7V106.4M1020.5 81.3V101.4M1021.5 82.9V121.2M1022.5 112.0V131.3M1023.5 106.5V129.6M1024.5 100.2V128.4M1025.5 97.6V122.5M1026.5 87.9V121.1M1027.5 95.0V122.8M1028.5 103.7V120.4M1029.5 96.5V116.3M1030.5 92.8V111.1M1031.5 88.9V104.8M1032.5 96.8V117.7M1033.5 102.1V132.8M1034.5 115.2V136.0M1035.5 118.8V132.2M1036.5 115.0V128.3M1037.5 114.3V126.1M1038.5 96.5V118.8M1039.5 88.2V108.5M1040.5 94.8V120.2M1041.5 107.7V124.8M1042.5 110.1V124.5M1043.5 108.1V123.5M1044.5 97.6V113.8M1045.5 102.1V128.1M1046.5 103.9V121.6M1047.5 112.3V136.0M1048.5 104.6V128.6M1049.5 99.1V125.1M1050.5 99.3V122.1M1051.5 99.9V123.4M1052.5 95.1V116.7M1053.5 93.5V116.4M1054.5 94.7V111.4M1055.5 94.6V111.6M1056.5 98.1V117.4M1057.5 95.0V113.7M1058.5 100.1V117.3M1059.5 101.1V117.5M1060.5 88.5V106.3M1061.5 95.9V118.1M1062.5 88.5V122.8M1063.5 94.9V110.7M1064.5 86.6V113.5M1065.5 92.8V113.6M1066.5 99.3V129.9M1067.5 102.4V120.4M1068.5 100.6V123.3M1069.5 113.7V128.5M1070.5 85.6V114.0M1071.5 96.0V121.2M1072.5 102.8V121.2M1073.5 102.0V128.3M1074.5 99.8V115.7M1075.5 99.7V119.6M1076.5 98.3V132.3M1077.5 113.8V132.3M1078.5 114.2V131.8M1079.5 117.7V136.7M1080.5 97.0V125.2M1081.5 112.3V131.3M1082.5 110.4V131.9M1083.5 110.4V121.5M1084.5 100.4V116.8M1085.5 100.3V131.3M1086.5 113.9V131.4M1087.5 118.1V140.1M1088.5 110.0V132.2M1089.5 106.4V129.9M1090.5 102.0V115.2M1091.5 103.0V127.9M1092.5 104.0V128.6M1093.5 107.4V130.4M1094.5 100.4V122.2M1095.5 98.5V116.5M1096.5 95.7V108.8M1097.5 99.4V110.1M1098.5 106.0V127.4M1099.5 103.6V127.4M1100.5 99.9V123.3M1101.5 100.9V119.3M1102.5 61.8V113.0M1103.5 103.6V118.8M1104.5 98.5V120.8M1105.5 104.9V126.4M1106.5 98.9V116.3M1107.5 107.2V123.6M1108.5 106.6V120.1M1109.5 107.4V121.4M1110.5 98.7V127.1M1111.5 92.8V123.9M1112.5 100.8V113.4M1113.5 92.9V111.2M1114.5 94.1V113.3M1115.5 103.2V120.9M1116.5 107.8V126.2M1117.5 107.3V127.2M1118.5 100.5V120.0M1119.5 99.3V122.7M1120.5 95.3V117.7M1121.5 102.6V117.5M1122.5 96.3V115.3M1123.5 90.4V110.5M1124.5 94.0V112.5M1125.5 100.6V132.5M1126.5 101.9V117.4M1127.5 99.2V109.7M1128.5 99.7V131.9M1129.5 105.8V135.1M1130.5 89.6V118.0M1131.5 80.6V106.8M1132.5 91.2V110.2M1133.5 102.9V127.0M1134.5 94.3V122.6M1135.5 95.2V111.1M1136.5 97.7V116.2M1137.5 104.1V132.2M1138.5 107.3V131.6M1139.5 103.5V120.2M1140.5 106.1V121.7M1141.5 95.5V122.5M1142.5 97.5V120.2M1143.5 90.9V115.9M1144.5 88.2V113.1M1145.5 112.3V127.6M1146.5 114.5V131.3M1147.5 103.8V121.9M1148.5 101.2V123.5M1149.5 82.0V118.2M1150.5 82.0V110.9M1151.5 103.8V120.2M1152.5 93.5V114.4M1153.5 96.3V118.8M1154.5 90.5V124.0M1155.5 89.7V106.3M1156.5 98.2V125.1M1157.5 112.1V126.8M1158.5 118.5V130.5M1159.5 103.1V126.1M1160.5 99.4V122.3M1161.5 102.0V122.3M1162.5 87.2V107.5M1163.5 90.3V109.1M1164.5 99.8V111.1M1165.5 94.9V121.4M1166.5 94.9V126.4M1167.5 104.5V129.3M1168.5 102.5V127.1M1169.5 90.9V123.6M1170.5 93.6V109.4M1171.5 96.9V119.4M1172.5 99.2V121.5M1173.5 81.9V118.0M1174.5 92.4V124.0M1175.5 103.0V128.4M1176.5 99.6V126.9M1177.5 98.1V116.8M1178.5 95.5V109.6M1179.5 65.0V113.9M1180.5 65.0V101.8M1181.5 89.9V112.1M1182.5 99.2V120.8M1183.5 101.1V125.1M1184.5 94.6V121.6M1185.5 107.0V126.2M1186.5 107.0V127.5M1187.5 105.5V126.6M1188.5 101.0V118.4M1189.5 104.0V127.4M1190.5 96.1V118.5M1191.5 97.9V121.2M1192.5 110.3V128.9M1193.5 94.3V119.2M1194.5 97.9V110.8M1195.5 94.4V124.9M1196.5 111.2V138.1M1197.5 106.3V121.7M1198.5 104.3V126.2M1199.5 104.0V119.5M1200.5 99.9V119.9M1201.5 105.1V127.5M1202.5 91.9V134.7M1203.5 97.2V110.3M1204.5 87.3V107.2M1205.5 102.0V119.6M1206.5 85.7V109.9M1207.5 85.7V109.0M1208.5 87.6V109.6M1209.5 85.7V123.8M1210.5 99.5V123.8M1211.5 92.8V117.8M1212.5 91.5V116.1M1213.5 93.3V119.0M1214.5 109.1V135.4M1215.5 102.8V124.8M1216.5 88.0V119.6M1217.5 103.1V128.4M1218.5 113.0V131.2M1219.5 107.4V123.9M1220.5 109.4V128.5M1221.5 84.5V115.8M1222.5 88.6V118.0M1223.5 101.3V127.6M1224.5 97.3V126.5M1225.5 106.1V139.7M1226.5 103.5V124.7M1227.5 101.9V125.2M1228.5 102.5V123.6M1229.5 104.1V124.7M1230.5 102.7V123.4M1231.5 114.1V125.6M1232.5 112.3V124.7M1233.5 111.3V133.9M1234.5 98.3V118.4M1235.5 94.8V122.3M1236.5 105.1V124.6M1237.5 112.9V129.0M1238.5 101.5V132.1M1239.5 95.6V117.9M1240.5 93.2V124.0M1241.5 96.6V112.9M1242.5 97.6V121.3M1243.5 113.6V145.5M1244.5 101.2V133.6M1245.5 96.6V116.9M1246.5 103.4V115.3M1247.5 92.3V117.1M1248.5 94.1V124.7M1249.5 111.5V127.7M1250.5 102.8V121.7M1251.5 81.6V110.0M1252.5 95.6V112.1M1253.5 92.5V115.1M1254.5 102.8V117.1M1255.5 107.1V124.7M1256.5 102.5V119.5M1257.5 101.6V124.3M1258.5 107.9V129.8M1259.5 107.5V129.6M1260.5 102.6V115.2M1261.5 99.8V117.9M1262.5 100.1V117.8M1263.5 107.7V127.7M1264.5 107.8V127.4M1265.5 100.4V127.2M1266.5 100.4V124.0M1267.5 99.2V118.4M1268.5 92.5V110.8M1269.5 98.5V113.1M1270.5 100.1V122.0M1271.5 104.3V128.2M1272.5 100.3V123.7M1273.5 101.8V112.5M1274.5 100.9V121.8M1275.5 110.7V123.0M1276.5 98.1V123.1M1277.5 80.6V106.9M1278.5 82.5V97.6M1279.5 91.2V116.6M1280.5 91.7V120.1M1281.5 77.9V95.9M1282.5 87.8V105.8M1283.5 89.7V115.3M1284.5 102.6V124.9M1285.5 106.0V123.3M1286.5 92.1V114.3M1287.5 89.7V114.2M1288.5 95.0V120.6M1289.5 95.2V126.9M1290.5 91.1V105.4M1291.5 98.8V114.8M1292.5 107.7V129.0M1293.5 120.1V134.6M1294.5 105.4V125.8M1295.5 104.7V122.9M1296.5 112.0V125.7M1297.5 100.1V128.0M1298.5 100.5V126.6M1299.5 100.7V126.3M1300.5 100.7V125.4M1301.5 105.0V126.4M1302.5 108.2V126.4M1303.5 101.9V117.5M1304.5 100.4V127.4M1305.5 106.7V126.4M1306.5 101.7V120.9M1307.5 108.1V127.1M1308.5 90.4V117.0M1309.5 95.2V107.8M1310.5 98.9V122.5M1311.5 85.7V116.6M1312.5 110.9V123.3M1313.5 95.4V127.8M1314.5 93.8V109.0M1315.5 87.1V103.0M1316.5 103.0V118.6M1317.5 100.2V127.3M1318.5 88.9V113.5M1319.5 99.4V119.3M1320.5 103.6V120.9M1321.5 92.8V119.0M1322.5 93.8V107.7M1323.5 89.9V114.1M1324.5 88.5V109.6M1325.5 89.9V111.2M1326.5 84.8V101.9M1327.5 87.2V120.5M1328.5 99.6V116.7M1329.5 100.8V113.4M1330.5 98.3V111.8M1331.5 100.6V113.1M1332.5 96.1V119.5M1333.5 84.5V102.2M1334.5 90.2V108.3M1335.5 99.5V116.2M1336.5 101.6V124.9M1337.5 97.6V125.9M1338.5 97.6V124.1M1339.5 98.7V124.1M1340.5 102.6V120.9M1341.5 100.7V124.0M1342.5 94.3V115.3M1343.5 103.6V120.8M1344.5 101.8V122.4M1345.5 104.5V118.6M1346.5 87.8V121.8M1347.5 117.5V133.1M1348.5 101.6V125.1M1349.5 93.3V122.5M1350.5 87.6V112.5M1351.5 94.5V119.8M1352.5 101.2V119.7M1353.5 92.7V116.2M1354.5 96.5V121.5M1355.5 108.4V129.0M1356.5 103.2V126.5M1357.5 94.5V115.5M1358.5 94.4V109.7M1359.5 98.3V117.9M1360.5 112.1V132.0M1361.5 107.8V131.6M1362.5 98.0V117.8M1363.5 86.5V116.8M1364.5 97.8V114.8M1365.5 98.2V118.8M1366.5 105.9V122.1M1367.5 109.6V121.5M1368.5 110.5V124.0M1369.5 102.6V114.6M1370.5 101.3V112.7M1371.5 95.7V115.6M1372.5 111.9V122.9M1373.5 105.9V130.8M1374.5 88.6V120.4M1375.5 93.0V118.7M1376.5 88.8V121.3M1377.5 92.2V111.1M1378.5 95.1V129.1M1379.5 102.5V127.9M1380.5 94.7V108.2M1381.5 101.8V114.9M1382.5 90.8V107.0M1383.5 77.3V113.3M1384.5 70.1V96.6M1385.5 82.7V106.3M1386.5 103.9V121.9M1387.5 108.9V126.0M1388.5 106.8V123.9M1389.5 100.3V115.8M1390.5 100.5V121.5M1391.5 94.8V116.2M1392.5 95.7V111.3M1393.5 95.7V115.3M1394.5 102.9V124.1M1395.5 98.0V116.2M1396.5 108.3V127.3M1397.5 109.8V124.2M1398.5 94.5V119.3M1399.5 104.6V122.1M1400.5 102.0V121.5M1401.5 88.1V106.3M1402.5 89.5V99.8M1403.5 84.7V108.3M1404.5 84.7V118.8M1405.5 96.0V118.8M1406.5 99.8V119.8M1407.5 96.3V115.8M1408.5 99.6V118.7M1409.5 92.1V123.1M1410.5 94.3V115.8M1411.5 106.2V128.9M1412.5 99.3V117.6M1413.5 95.3V114.4M1414.5 105.2V122.9M1415.5 96.0V113.9M1416.5 93.1V111.6M1417.5 82.3V106.9M1418.5 96.0V127.7M1419.5 113.4V132.1M1420.5 92.8V119.4M1421.5 104.9V130.3M1422.5 109.7V123.9M1423.5 96.7V117.6M1424.5 99.7V119.1M1425.5 91.8V113.1M1426.5 105.9V118.6M1427.5 100.7V115.7M1428.5 102.7V122.2M1429.5 92.5V113.5" fill="none" stroke="#000" stroke-width="1"/>
<line x1="856.5" y1="40.2" x2="856.5" y2="105" stroke="#000" stroke-width="1.2" stroke-linecap="butt"/>
<line x1="875.5" y1="75.5" x2="875.5" y2="105" stroke="#000" stroke-width="1.2" stroke-linecap="butt"/>
<line x1="1102.5" y1="57.3" x2="1102.5" y2="105" stroke="#000" stroke-width="1.2" stroke-linecap="butt"/>
<line x1="1173.5" y1="72" x2="1173.5" y2="105" stroke="#000" stroke-width="1.2" stroke-linecap="butt"/>
<line x1="1180.5" y1="61.9" x2="1180.5" y2="105" stroke="#000" stroke-width="1.2" stroke-linecap="butt"/>
<line x1="1209.5" y1="82.8" x2="1209.5" y2="105" stroke="#000" stroke-width="1.2" stroke-linecap="butt"/>
<line x1="807.5" y1="280" x2="813.5" y2="280" stroke="#000" stroke-width="1.6" stroke-linecap="butt"/>
<path d="M812.5 270.9V294.7M813.5 273.9V291.1M814.5 272.7V291.3M815.5 278.5V294.9M816.5 265.9V297.6M817.5 260.3V277.8M818.5 263.6V292.6M819.5 268.4V287.9M820.5 258.9V286.8M821.5 261.5V282.4M822.5 263.2V280.6M823.5 268.8V287.1M824.5 261.4V288.9M825.5 253.9V272.0M826.5 263.6V290.6M827.5 263.2V278.0M828.5 262.9V285.3M829.5 267.9V289.1M830.5 267.3V289.3M831.5 258.1V284.3M832.5 247.4V268.0M833.5 263.1V292.2M834.5 254.7V276.0M835.5 262.6V280.1M836.5 271.3V295.3M837.5 274.1V285.7M838.5 264.4V286.6M839.5 254.7V280.4M840.5 257.8V276.9M841.5 254.3V280.1M842.5 255.8V280.1M843.5 258.9V282.9M844.5 262.0V277.2M845.5 258.0V275.5M846.5 256.8V282.3M847.5 261.4V289.6M848.5 260.5V285.2M849.5 258.3V288.5M850.5 262.1V282.8M851.5 267.1V292.8M852.5 264.7V282.0M853.5 269.0V283.4M854.5 256.8V273.6M855.5 250.4V279.8M856.5 257.1V277.3M857.5 268.3V280.9M858.5 266.4V281.2M859.5 270.1V290.6M860.5 277.7V297.2M861.5 270.4V296.2M862.5 266.2V279.5M863.5 255.5V280.8M864.5 269.6V286.2M865.5 257.1V286.9M866.5 243.1V271.7M867.5 243.1V278.3M868.5 269.4V289.5M869.5 263.9V286.9M870.5 268.1V285.9M871.5 262.5V280.5M872.5 263.3V294.3M873.5 267.4V290.9M874.5 256.3V286.6M875.5 254.9V273.5M876.5 262.4V274.2M877.5 268.3V280.8M878.5 261.5V287.0M879.5 253.8V273.8M880.5 262.0V276.5M881.5 265.5V278.1M882.5 255.1V278.5M883.5 248.0V272.9M884.5 252.8V276.8M885.5 265.3V277.5M886.5 261.6V278.6M887.5 265.3V282.2M888.5 267.2V290.9M889.5 265.7V287.6M890.5 262.8V280.1M891.5 272.3V290.0M892.5 258.3V275.7M893.5 256.7V279.3M894.5 256.7V281.9M895.5 265.1V291.8M896.5 254.8V270.8M897.5 263.3V286.2M898.5 263.2V280.7M899.5 260.1V285.3M900.5 251.3V285.3M901.5 253.7V267.8M902.5 264.2V282.4M903.5 253.0V282.4M904.5 252.0V265.5M905.5 258.5V280.3M906.5 271.4V293.5M907.5 267.6V286.0M908.5 275.4V286.5M909.5 254.7V279.8M910.5 267.0V278.5M911.5 266.5V280.9M912.5 257.8V279.8M913.5 256.3V280.1M914.5 263.0V281.0M915.5 267.4V289.8M916.5 270.2V295.7M917.5 274.1V298.6M918.5 269.5V284.7M919.5 272.6V286.3M920.5 272.1V293.0M921.5 257.6V281.8M922.5 255.5V272.1M923.5 264.2V281.4M924.5 270.4V293.5M925.5 265.1V292.6M926.5 268.1V291.7M927.5 267.9V282.4M928.5 269.1V295.0M929.5 274.8V296.9M930.5 266.2V288.6M931.5 265.9V279.4M932.5 252.9V279.3M933.5 279.3V295.4M934.5 276.6V292.6M935.5 265.7V290.7M936.5 260.9V279.2M937.5 251.3V275.0M938.5 269.0V283.2M939.5 263.5V283.5M940.5 255.0V277.8M941.5 187.6V277.7M942.5 181.1V224.3M943.5 221.0V274.9M944.5 265.8V285.9M945.5 266.3V285.9M946.5 255.9V279.2M947.5 260.1V294.5M948.5 270.5V289.5M949.5 269.9V290.5M950.5 266.2V281.1M951.5 229.9V274.1M952.5 245.4V267.8M953.5 254.4V277.7M954.5 255.4V283.6M955.5 262.7V285.0M956.5 270.5V296.5M957.5 270.1V291.5M958.5 263.0V280.6M959.5 272.9V293.5M960.5 279.7V303.7M961.5 288.5V313.7M962.5 266.6V297.6M963.5 259.1V276.1M964.5 259.5V271.6M965.5 255.3V276.9M966.5 255.5V275.7M967.5 262.3V287.5M968.5 257.1V288.1M969.5 254.0V281.9M970.5 263.4V283.3M971.5 263.4V281.7M972.5 273.5V292.0M973.5 277.7V290.1M974.5 250.4V287.6M975.5 259.0V277.8M976.5 271.2V292.9M977.5 265.2V288.2M978.5 262.5V285.1M979.5 268.1V284.1M980.5 267.6V286.2M981.5 270.4V281.6M982.5 267.7V287.6M983.5 274.1V288.0M984.5 260.9V276.4M985.5 254.2V274.9M986.5 260.1V279.7M987.5 262.3V282.0M988.5 252.3V278.2M989.5 264.1V280.0M990.5 260.8V282.1M991.5 249.4V277.5M992.5 265.6V284.8M993.5 274.3V289.6M994.5 270.6V289.4M995.5 258.7V286.6M996.5 253.6V281.7M997.5 261.5V277.3M998.5 272.9V289.0M999.5 263.3V287.4M1000.5 263.2V281.9M1001.5 264.2V279.5M1002.5 259.7V280.2M1003.5 269.3V282.7M1004.5 264.5V286.6M1005.5 258.9V275.9M1006.5 263.1V287.0M1007.5 258.8V284.5M1008.5 260.1V278.4M1009.5 242.8V269.2M1010.5 242.8V262.9M1011.5 248.4V270.7M1012.5 264.9V287.5M1013.5 274.8V293.5M1014.5 270.2V296.7M1015.5 267.8V279.8M1016.5 248.4V275.1M1017.5 253.8V274.6M1018.5 259.0V275.4M1019.5 255.9V274.5M1020.5 253.4V270.0M1021.5 245.9V268.2M1022.5 244.9V271.8M1023.5 261.0V277.8M1024.5 250.2V276.5M1025.5 257.1V268.8M1026.5 250.4V267.9M1027.5 241.8V262.7M1028.5 247.7V265.2M1029.5 255.1V276.1M1030.5 259.7V275.2M1031.5 257.0V271.2M1032.5 242.5V266.0M1033.5 260.9V278.8M1034.5 268.9V283.4M1035.5 262.2V284.2M1036.5 269.8V307.6M1037.5 260.5V290.0M1038.5 260.2V275.5M1039.5 251.1V287.8M1040.5 261.7V285.5M1041.5 256.5V273.1M1042.5 254.5V284.8M1043.5 260.5V275.5M1044.5 260.7V279.6M1045.5 260.6V279.4M1046.5 247.8V280.1M1047.5 249.9V268.8M1048.5 266.1V288.7M1049.5 274.8V291.3M1050.5 250.4V280.9M1051.5 254.2V272.9M1052.5 252.8V271.8M1053.5 258.7V283.8M1054.5 270.3V298.9M1055.5 260.8V280.9M1056.5 266.8V288.4M1057.5 260.7V278.6M1058.5 265.0V292.4M1059.5 266.9V288.1M1060.5 259.0V295.4M1061.5 265.1V284.7M1062.5 251.1V271.4M1063.5 251.1V268.3M1064.5 259.0V279.2M1065.5 262.4V288.1M1066.5 263.0V274.7M1067.5 258.7V280.7M1068.5 268.7V283.3M1069.5 265.6V288.4M1070.5 265.4V283.6M1071.5 273.0V288.4M1072.5 263.7V285.0M1073.5 263.6V276.9M1074.5 251.6V275.6M1075.5 264.1V284.8M1076.5 261.5V286.1M1077.5 268.1V286.1M1078.5 257.0V282.2M1079.5 262.6V286.1M1080.5 255.9V282.1M1081.5 246.7V285.0M1082.5 252.6V279.3M1083.5 258.8V279.6M1084.5 263.4V275.0M1085.5 255.0V281.8M1086.5 259.0V290.0M1087.5 253.0V278.6M1088.5 250.7V272.5M1089.5 250.0V277.0M1090.5 254.5V276.6M1091.5 266.7V280.7M1092.5 250.8V271.9M1093.5 259.8V278.9M1094.5 250.5V269.2M1095.5 265.8V284.2M1096.5 261.5V291.1M1097.5 262.6V291.1M1098.5 264.6V278.5M1099.5 259.3V286.9M1100.5 265.4V299.0M1101.5 260.3V284.9M1102.5 252.2V288.7M1103.5 248.3V267.3M1104.5 256.8V278.3M1105.5 271.4V293.7M1106.5 273.7V286.3M1107.5 267.0V284.0M1108.5 267.9V294.1M1109.5 276.6V289.4M1110.5 261.4V286.2M1111.5 262.6V280.6M1112.5 278.5V293.0M1113.5 281.3V290.2M1114.5 269.0V288.9M1115.5 259.6V280.0M1116.5 259.4V284.7M1117.5 262.9V283.2M1118.5 258.9V281.8M1119.5 257.5V276.0M1120.5 262.7V288.0M1121.5 265.6V282.6M1122.5 270.2V286.2M1123.5 264.0V294.6M1124.5 265.9V295.8M1125.5 255.0V290.4M1126.5 261.7V285.3M1127.5 270.7V282.6M1128.5 262.9V275.2M1129.5 260.9V276.0M1130.5 258.1V276.5M1131.5 262.5V285.0M1132.5 267.6V286.7M1133.5 262.5V284.7M1134.5 251.8V276.8M1135.5 254.9V281.9M1136.5 262.2V279.8M1137.5 258.6V275.0M1138.5 260.9V285.1M1139.5 258.8V273.0M1140.5 263.4V295.4M1141.5 285.8V303.2M1142.5 277.8V296.5M1143.5 271.3V281.4M1144.5 267.4V282.1M1145.5 266.2V284.4M1146.5 262.2V287.7M1147.5 264.9V283.7M1148.5 260.7V294.6M1149.5 262.2V282.4M1150.5 259.5V274.9M1151.5 252.3V268.4M1152.5 246.5V267.8M1153.5 260.9V292.2M1154.5 258.1V292.8M1155.5 259.2V282.9M1156.5 260.0V276.9M1157.5 254.7V273.6M1158.5 254.4V276.8M1159.5 255.9V273.1M1160.5 262.0V274.1M1161.5 263.3V285.7M1162.5 268.1V283.2M1163.5 265.7V277.1M1164.5 265.8V282.3M1165.5 266.1V283.2M1166.5 269.5V289.8M1167.5 265.7V290.8M1168.5 256.3V272.8M1169.5 257.3V284.4M1170.5 266.4V287.4M1171.5 267.1V283.2M1172.5 273.8V292.4M1173.5 274.3V289.1M1174.5 275.2V291.0M1175.5 258.2V278.7M1176.5 263.5V285.9M1177.5 263.9V287.4M1178.5 263.9V278.0M1179.5 263.9V284.8M1180.5 266.0V291.6M1181.5 274.7V285.3M1182.5 262.1V280.7M1183.5 264.3V284.4M1184.5 255.2V278.5M1185.5 258.3V271.1M1186.5 257.1V269.9M1187.5 256.8V283.9M1188.5 279.7V297.8M1189.5 271.7V288.9M1190.5 258.2V272.8M1191.5 258.2V282.8M1192.5 268.1V288.3M1193.5 263.4V283.1M1194.5 261.3V292.6M1195.5 274.7V295.7M1196.5 266.3V290.9M1197.5 261.3V283.8M1198.5 263.3V281.1M1199.5 263.3V291.5M1200.5 272.6V295.8M1201.5 272.0V288.9M1202.5 256.2V275.2M1203.5 245.0V273.6M1204.5 258.8V278.8M1205.5 267.1V286.4M1206.5 256.6V273.1M1207.5 259.3V282.7M1208.5 270.6V291.8M1209.5 264.8V282.6M1210.5 258.8V277.5M1211.5 242.8V263.1M1212.5 256.9V273.5M1213.5 252.4V269.8M1214.5 247.3V264.9M1215.5 248.5V266.8M1216.5 257.1V282.0M1217.5 246.4V270.4M1218.5 254.7V274.1M1219.5 272.8V303.8M1220.5 261.5V287.8M1221.5 256.7V277.4M1222.5 253.2V277.4M1223.5 264.2V279.4M1224.5 251.9V279.3M1225.5 252.5V268.9M1226.5 249.6V265.7M1227.5 257.7V276.1M1228.5 256.5V270.4M1229.5 248.9V270.6M1230.5 260.8V283.3M1231.5 258.7V274.1M1232.5 259.3V293.9M1233.5 267.4V292.3M1234.5 254.9V275.9M1235.5 258.5V274.5M1236.5 252.4V276.5M1237.5 254.7V272.6M1238.5 265.0V285.5M1239.5 256.6V279.4M1240.5 253.0V272.5M1241.5 254.2V273.7M1242.5 261.1V278.7M1243.5 271.5V294.7M1244.5 259.7V278.5M1245.5 254.6V274.0M1246.5 258.5V275.0M1247.5 260.8V283.8M1248.5 276.1V286.6M1249.5 282.4V299.1M1250.5 273.1V288.9M1251.5 272.8V285.3M1252.5 259.0V281.7M1253.5 255.1V276.9M1254.5 256.7V283.1M1255.5 264.3V283.3M1256.5 270.9V290.4M1257.5 265.2V287.6M1258.5 271.5V281.8M1259.5 275.3V313.9M1260.5 262.4V303.9M1261.5 258.7V282.6M1262.5 279.0V300.1M1263.5 263.1V287.7M1264.5 267.7V296.4M1265.5 252.0V275.1M1266.5 271.7V287.8M1267.5 253.9V281.1M1268.5 253.9V274.6M1269.5 269.3V283.1M1270.5 245.4V269.7M1271.5 242.7V267.8M1272.5 253.5V277.6M1273.5 264.6V288.6M1274.5 252.4V285.6M1275.5 259.6V277.3M1276.5 259.8V275.7M1277.5 254.3V270.6M1278.5 247.4V277.3M1279.5 261.8V280.6M1280.5 267.2V281.6M1281.5 270.8V288.3M1282.5 276.5V294.1M1283.5 259.4V287.9M1284.5 259.4V288.2M1285.5 281.7V310.7M1286.5 282.6V304.0M1287.5 272.4V295.4M1288.5 256.8V277.9M1289.5 258.2V274.2M1290.5 258.6V284.2M1291.5 253.3V288.3M1292.5 246.3V271.2M1293.5 263.9V282.6M1294.5 256.7V278.1M1295.5 259.8V269.3M1296.5 243.5V264.8M1297.5 252.2V267.2M1298.5 249.1V280.7M1299.5 259.5V287.9M1300.5 251.2V281.1M1301.5 246.0V264.0M1302.5 257.4V287.6M1303.5 260.4V283.3M1304.5 256.5V273.9M1305.5 259.5V276.6M1306.5 269.9V289.1M1307.5 264.3V288.2M1308.5 256.0V288.0M1309.5 276.0V290.1M1310.5 263.9V288.1M1311.5 264.2V281.9M1312.5 256.1V275.6M1313.5 245.0V267.6M1314.5 259.8V279.9M1315.5 255.6V284.7M1316.5 269.8V284.9M1317.5 256.8V276.8M1318.5 255.5V276.4M1319.5 266.5V284.3M1320.5 259.2V283.0M1321.5 259.5V290.4M1322.5 253.5V276.0M1323.5 255.7V282.3M1324.5 271.7V290.8M1325.5 272.5V298.7M1326.5 263.9V283.5M1327.5 248.3V281.2M1328.5 254.7V267.7M1329.5 254.4V277.4M1330.5 263.8V286.5M1331.5 271.7V287.6M1332.5 264.7V288.6M1333.5 259.6V281.6M1334.5 253.1V268.5M1335.5 264.5V285.9M1336.5 263.6V286.9M1337.5 269.6V292.0M1338.5 264.8V292.0M1339.5 257.7V284.7M1340.5 265.2V284.7M1341.5 274.6V291.1M1342.5 260.5V279.8M1343.5 252.5V279.4M1344.5 242.3V272.1M1345.5 266.8V276.6M1346.5 254.2V275.7M1347.5 259.5V273.8M1348.5 255.7V271.2M1349.5 250.3V272.9M1350.5 246.7V268.5M1351.5 250.6V279.9M1352.5 251.6V280.8M1353.5 263.3V284.9M1354.5 268.6V280.7M1355.5 253.3V280.0M1356.5 254.6V269.4M1357.5 251.1V278.9M1358.5 258.9V286.3M1359.5 260.8V278.8M1360.5 266.8V287.2M1361.5 270.9V290.8M1362.5 267.1V284.4M1363.5 265.5V283.3M1364.5 258.8V280.0M1365.5 262.3V287.9M1366.5 266.7V285.2M1367.5 253.6V283.6M1368.5 255.1V272.8M1369.5 260.6V278.1M1370.5 253.3V271.4M1371.5 267.0V278.0M1372.5 258.9V287.3M1373.5 241.2V269.5M1374.5 252.1V274.0M1375.5 252.1V277.9M1376.5 252.8V273.6M1377.5 252.6V276.1M1378.5 244.7V269.5M1379.5 256.3V274.7M1380.5 250.6V274.3M1381.5 265.4V281.1M1382.5 267.8V289.6M1383.5 260.6V277.2M1384.5 264.2V290.4M1385.5 274.5V292.5M1386.5 266.6V287.3M1387.5 257.8V275.2M1388.5 250.1V282.9M1389.5 256.6V294.7M1390.5 256.6V274.2M1391.5 259.5V277.9M1392.5 259.5V276.7M1393.5 247.1V280.5M1394.5 268.3V286.1M1395.5 262.3V278.3M1396.5 262.3V294.0M1397.5 279.7V294.5M1398.5 256.0V282.4M1399.5 256.8V280.5M1400.5 275.6V293.7M1401.5 267.2V289.4M1402.5 263.0V287.3M1403.5 264.1V282.7M1404.5 268.7V284.0M1405.5 257.0V272.3M1406.5 262.2V277.0M1407.5 260.2V277.8M1408.5 255.1V267.0M1409.5 248.1V284.4M1410.5 254.0V281.9M1411.5 260.9V282.0M1412.5 252.2V275.7M1413.5 252.2V271.7M1414.5 253.2V279.9M1415.5 259.7V274.6M1416.5 246.1V264.4M1417.5 253.6V269.7M1418.5 254.4V274.8M1419.5 265.7V282.2M1420.5 267.2V281.0M1421.5 266.7V281.8M1422.5 268.8V287.8M1423.5 254.4V289.5M1424.5 252.7V269.7M1425.5 256.6V279.2M1426.5 257.8V273.8M1427.5 259.2V272.8M1428.5 253.6V268.8M1429.5 264.1V279.6M1430.5 262.1V285.9" fill="none" stroke="#000" stroke-width="1"/>
<line x1="942.5" y1="183.2" x2="942.5" y2="265" stroke="#000" stroke-width="1.3" stroke-linecap="butt"/>
<text transform="translate(89,1208.3)" font-size="29.5" fill="#000">PVH</text>
<text transform="translate(336.9,1227.5)" font-size="29.5" fill="#000">mEPSC</text>
<text transform="translate(7.6,1272.5)" font-size="29.5" fill="#000">ND</text>
<text transform="translate(7.6,1434)" font-size="29.5" fill="#000">HFD</text>
<line x1="577.5" y1="1322.5" x2="577.5" y2="1385.5" stroke="#000" stroke-width="3" stroke-linecap="butt"/>
<line x1="576" y1="1384" x2="700" y2="1384" stroke="#000" stroke-width="3" stroke-linecap="butt"/>
<text transform="translate(567.5,1359) scale(1.03,1)" font-size="22.5" text-anchor="end" fill="#000">25 pA</text>
<text transform="translate(637.5,1409)" font-size="22.5" text-anchor="middle" fill="#000">1 s</text>
<path d="M71.5 1252.0V1269.9M72.5 1263.3V1333.6M73.5 1256.4V1285.8M74.5 1254.3V1280.3M75.5 1257.8V1273.3M76.5 1254.2V1271.6M77.5 1252.0V1274.7M78.5 1250.1V1269.9M79.5 1252.3V1266.0M80.5 1252.7V1275.7M81.5 1247.7V1266.9M82.5 1253.5V1265.4M83.5 1249.3V1264.3M84.5 1250.6V1263.8M85.5 1250.9V1265.3M86.5 1254.4V1266.0M87.5 1255.0V1281.7M88.5 1253.4V1274.3M89.5 1245.9V1265.6M90.5 1248.6V1264.9M91.5 1253.0V1268.4M92.5 1252.2V1271.4M93.5 1252.6V1267.5M94.5 1252.6V1264.8M95.5 1253.1V1265.7M96.5 1248.1V1265.1M97.5 1254.6V1302.7M98.5 1252.2V1282.2M99.5 1249.1V1266.9M100.5 1252.3V1270.0M101.5 1248.2V1266.0M102.5 1250.7V1266.8M103.5 1250.4V1266.7M104.5 1249.9V1263.2M105.5 1255.2V1277.9M106.5 1262.9V1307.7M107.5 1251.6V1268.9M108.5 1251.1V1297.7M109.5 1257.4V1290.1M110.5 1253.5V1268.0M111.5 1249.7V1268.9M112.5 1254.1V1265.7M113.5 1255.7V1268.6M114.5 1253.4V1270.3M115.5 1256.5V1283.6M116.5 1257.6V1276.8M117.5 1255.5V1275.2M118.5 1254.1V1268.4M119.5 1253.5V1268.6M120.5 1250.0V1267.2M121.5 1251.7V1269.5M122.5 1250.7V1279.9M123.5 1259.0V1285.0M124.5 1255.1V1269.5M125.5 1251.6V1269.8M126.5 1252.6V1272.5M127.5 1257.3V1270.0M128.5 1253.0V1269.5M129.5 1255.2V1272.2M130.5 1253.9V1272.8M131.5 1267.2V1299.1M132.5 1255.4V1273.0M133.5 1251.1V1268.9M134.5 1250.0V1266.2M135.5 1253.7V1266.1M136.5 1251.2V1268.3M137.5 1249.6V1287.2M138.5 1257.4V1290.1M139.5 1251.6V1269.3M140.5 1249.4V1270.7M141.5 1248.3V1265.2M142.5 1254.4V1298.0M143.5 1258.3V1279.9M144.5 1254.4V1271.0M145.5 1251.1V1269.9M146.5 1252.2V1268.0M147.5 1251.6V1269.1M148.5 1250.1V1266.6M149.5 1245.5V1266.7M150.5 1252.8V1275.6M151.5 1258.4V1280.6M152.5 1255.0V1268.7M153.5 1253.1V1271.6M154.5 1251.9V1273.9M155.5 1251.9V1275.5M156.5 1250.0V1268.1M157.5 1250.4V1264.3M158.5 1254.3V1267.4M159.5 1253.6V1283.9M160.5 1257.3V1278.1M161.5 1253.8V1271.9M162.5 1255.3V1271.1M163.5 1250.2V1268.0M164.5 1250.0V1264.5M165.5 1250.8V1266.8M166.5 1250.8V1269.5M167.5 1254.9V1271.5M168.5 1253.4V1270.5M169.5 1252.6V1267.5M170.5 1257.1V1312.6M171.5 1261.0V1312.6M172.5 1254.7V1271.5M173.5 1255.1V1268.1M174.5 1247.6V1268.1M175.5 1254.0V1266.7M176.5 1253.0V1267.7M177.5 1246.5V1266.0M178.5 1250.6V1268.9M179.5 1249.5V1265.2M180.5 1249.1V1266.1M181.5 1250.1V1264.3M182.5 1245.8V1266.1M183.5 1248.6V1277.0M184.5 1252.9V1281.7M185.5 1247.5V1269.3M186.5 1247.5V1271.0M187.5 1255.9V1271.0M188.5 1249.7V1266.1M189.5 1251.2V1263.6M190.5 1254.3V1267.2M191.5 1258.5V1281.7M192.5 1254.2V1271.6M193.5 1255.0V1276.1M194.5 1255.5V1272.0M195.5 1251.1V1295.5M196.5 1257.1V1325.2M197.5 1251.4V1278.3M198.5 1250.2V1267.7M199.5 1251.6V1272.8M200.5 1251.8V1269.3M201.5 1252.5V1269.3M202.5 1251.0V1270.4M203.5 1252.4V1265.2M204.5 1254.3V1271.1M205.5 1253.9V1271.7M206.5 1252.7V1267.9M207.5 1255.3V1291.6M208.5 1256.5V1272.0M209.5 1252.1V1264.1M210.5 1247.8V1265.5M211.5 1250.1V1266.1M212.5 1249.7V1267.3M213.5 1245.1V1264.7M214.5 1248.8V1264.8M215.5 1251.6V1265.5M216.5 1249.9V1272.7M217.5 1250.9V1270.3M218.5 1253.5V1283.3M219.5 1249.7V1267.6M220.5 1249.1V1265.8M221.5 1253.2V1329.6M222.5 1260.9V1335.4M223.5 1253.7V1270.3M224.5 1251.3V1265.4M225.5 1245.5V1343.2M226.5 1263.5V1305.2M227.5 1247.6V1277.7M228.5 1249.8V1264.2M229.5 1252.3V1270.6M230.5 1253.6V1265.7M231.5 1249.1V1273.4M232.5 1250.9V1287.8M233.5 1253.7V1271.0M234.5 1248.1V1264.6M235.5 1254.5V1270.9M236.5 1252.1V1270.1M237.5 1253.4V1279.9M238.5 1252.0V1269.9M239.5 1251.5V1266.9M240.5 1252.3V1271.9M241.5 1251.2V1264.2M242.5 1253.2V1267.8M243.5 1253.6V1267.8M244.5 1251.2V1267.2M245.5 1249.7V1267.2M246.5 1252.6V1269.8M247.5 1262.3V1307.2M248.5 1253.7V1276.9M249.5 1255.1V1270.4M250.5 1253.1V1267.9M251.5 1254.4V1265.5M252.5 1252.0V1265.6M253.5 1252.5V1267.7M254.5 1252.5V1272.5M255.5 1254.8V1268.4M256.5 1257.0V1277.5M257.5 1253.6V1273.6M258.5 1252.7V1270.7M259.5 1252.3V1266.4M260.5 1254.1V1294.2M261.5 1254.0V1279.0M262.5 1251.3V1268.5M263.5 1251.4V1272.0M264.5 1251.5V1272.1M265.5 1254.9V1273.3M266.5 1252.9V1273.3M267.5 1253.8V1273.6M268.5 1255.3V1267.0M269.5 1250.3V1268.8M270.5 1252.1V1268.5M271.5 1251.5V1270.5M272.5 1253.2V1272.0M273.5 1251.6V1267.7M274.5 1252.6V1268.8M275.5 1248.8V1268.0M276.5 1254.6V1267.7M277.5 1249.7V1265.6M278.5 1246.9V1266.2M279.5 1248.5V1269.9M280.5 1253.7V1273.6M281.5 1251.6V1268.0M282.5 1253.6V1269.6M283.5 1250.8V1271.7M284.5 1252.9V1267.5M285.5 1250.7V1269.7M286.5 1250.7V1274.2M287.5 1253.5V1270.2M288.5 1254.6V1269.2M289.5 1252.4V1270.0M290.5 1252.6V1264.7M291.5 1252.6V1269.8M292.5 1258.1V1278.3M293.5 1251.1V1275.3M294.5 1253.4V1268.2M295.5 1252.8V1270.8M296.5 1253.5V1266.9M297.5 1253.7V1279.8M298.5 1254.8V1273.6M299.5 1258.2V1289.5M300.5 1253.5V1268.2M301.5 1247.4V1264.4M302.5 1249.6V1284.0M303.5 1256.0V1283.4M304.5 1249.9V1269.8M305.5 1253.1V1266.9M306.5 1253.5V1269.7M307.5 1249.9V1264.4M308.5 1250.8V1264.0M309.5 1252.3V1267.0M310.5 1254.6V1328.2M311.5 1257.9V1307.7M312.5 1256.6V1268.6M313.5 1252.5V1267.4M314.5 1252.1V1267.1M315.5 1250.7V1265.3M316.5 1251.0V1268.3M317.5 1250.1V1269.2M318.5 1251.5V1266.4M319.5 1251.2V1273.0M320.5 1250.4V1271.1M321.5 1253.0V1265.8M322.5 1250.2V1268.0M323.5 1250.8V1269.6M324.5 1254.4V1268.5M325.5 1248.6V1268.5M326.5 1253.1V1281.7M327.5 1256.0V1275.4M328.5 1258.5V1275.1M329.5 1254.4V1268.4M330.5 1252.3V1268.0M331.5 1253.9V1270.4M332.5 1255.9V1268.1M333.5 1248.7V1263.3M334.5 1248.1V1268.0M335.5 1257.7V1276.2M336.5 1255.6V1270.0M337.5 1255.7V1268.7M338.5 1251.4V1266.2M339.5 1254.0V1268.7M340.5 1253.3V1270.7M341.5 1254.2V1269.1M342.5 1252.4V1268.5M343.5 1242.7V1265.4M344.5 1253.1V1325.1M345.5 1257.5V1284.4M346.5 1252.9V1270.5M347.5 1247.0V1267.1M348.5 1256.9V1279.1M349.5 1254.7V1277.2M350.5 1249.3V1275.5M351.5 1249.3V1267.4M352.5 1250.6V1267.4M353.5 1254.8V1269.1M354.5 1259.3V1283.5M355.5 1252.3V1267.3M356.5 1253.9V1276.4M357.5 1257.0V1267.3M358.5 1251.7V1321.1M359.5 1263.4V1298.6M360.5 1252.7V1270.7M361.5 1248.1V1269.8M362.5 1253.3V1266.9M363.5 1249.6V1265.5M364.5 1256.5V1272.0M365.5 1253.5V1269.5M366.5 1249.4V1267.3M367.5 1251.3V1267.2M368.5 1252.9V1270.3M369.5 1253.8V1266.8M370.5 1250.8V1266.0M371.5 1250.5V1266.6M372.5 1250.5V1270.0M373.5 1261.6V1300.0M374.5 1256.4V1276.2M375.5 1253.6V1266.6M376.5 1252.2V1267.8M377.5 1250.9V1271.6M378.5 1252.8V1266.7M379.5 1249.1V1271.8M380.5 1254.1V1271.8M381.5 1252.2V1269.7M382.5 1250.3V1271.1M383.5 1252.7V1266.0M384.5 1254.3V1287.4M385.5 1260.1V1283.0M386.5 1260.4V1280.9M387.5 1255.0V1273.1M388.5 1258.2V1294.4M389.5 1253.1V1277.3M390.5 1251.0V1265.0M391.5 1252.3V1263.5M392.5 1257.9V1277.4M393.5 1258.3V1282.2M394.5 1261.1V1284.6M395.5 1256.4V1272.0M396.5 1256.2V1271.0M397.5 1250.4V1266.4M398.5 1248.6V1268.2M399.5 1251.8V1281.4M400.5 1254.9V1273.3M401.5 1249.7V1268.3M402.5 1252.0V1268.5M403.5 1253.2V1268.3M404.5 1249.2V1265.9M405.5 1251.7V1274.0M406.5 1253.6V1271.8M407.5 1249.4V1264.7M408.5 1250.6V1267.2M409.5 1251.3V1272.9M410.5 1255.4V1272.5M411.5 1255.9V1279.3M412.5 1256.2V1285.1M413.5 1257.8V1272.6M414.5 1250.6V1267.7M415.5 1252.0V1264.3M416.5 1248.9V1266.5M417.5 1250.3V1265.9M418.5 1246.1V1268.4M419.5 1254.3V1278.3M420.5 1252.2V1273.1M421.5 1251.8V1270.9M422.5 1251.8V1268.4M423.5 1252.7V1269.2M424.5 1253.2V1271.4M425.5 1253.5V1273.0M426.5 1256.2V1284.5M427.5 1254.7V1276.5M428.5 1253.4V1266.3M429.5 1254.1V1271.6M430.5 1254.4V1277.3M431.5 1251.7V1269.8M432.5 1251.0V1272.3M433.5 1250.7V1275.2M434.5 1256.1V1277.1M435.5 1259.4V1304.9M436.5 1258.4V1287.7M437.5 1252.0V1274.4M438.5 1253.4V1276.0M439.5 1254.0V1271.5M440.5 1250.3V1265.1M441.5 1252.6V1316.6M442.5 1268.8V1305.0M443.5 1252.8V1278.3M444.5 1251.2V1265.7M445.5 1250.8V1288.4M446.5 1256.9V1288.4M447.5 1251.9V1269.8M448.5 1251.8V1285.9M449.5 1256.3V1276.2M450.5 1251.9V1268.8M451.5 1252.2V1264.2M452.5 1251.6V1267.6M453.5 1250.0V1265.6M454.5 1249.9V1264.5M455.5 1249.1V1264.1M456.5 1252.8V1268.4M457.5 1252.0V1267.3M458.5 1250.5V1268.1M459.5 1245.4V1267.4M460.5 1250.3V1266.6M461.5 1255.1V1272.6M462.5 1248.0V1267.3M463.5 1250.4V1267.2M464.5 1247.6V1289.6M465.5 1254.1V1280.6M466.5 1251.4V1269.8M467.5 1247.4V1265.8M468.5 1250.4V1265.6M469.5 1258.1V1269.8M470.5 1250.7V1273.5M471.5 1253.7V1270.1M472.5 1258.4V1277.1M473.5 1255.2V1281.1M474.5 1254.6V1278.2M475.5 1258.7V1278.2M476.5 1257.3V1271.3M477.5 1253.2V1270.0M478.5 1252.1V1268.2M479.5 1259.3V1278.2M480.5 1254.7V1273.4M481.5 1252.7V1267.5M482.5 1254.4V1268.2M483.5 1252.8V1267.2M484.5 1252.8V1270.6M485.5 1253.7V1267.4M486.5 1254.2V1273.8M487.5 1253.4V1279.0M488.5 1258.0V1290.3M489.5 1247.9V1271.5M490.5 1250.3V1261.7M491.5 1253.2V1341.3M492.5 1258.1V1281.7M493.5 1255.1V1265.3M494.5 1250.2V1270.5M495.5 1251.9V1271.3M496.5 1251.4V1272.9M497.5 1252.8V1263.2M498.5 1251.1V1269.8M499.5 1253.9V1271.0M500.5 1258.2V1284.1M501.5 1257.3V1276.7M502.5 1251.0V1268.8M503.5 1248.6V1267.0M504.5 1254.2V1266.6M505.5 1253.6V1269.9M506.5 1250.0V1272.7M507.5 1253.0V1267.9M508.5 1254.8V1273.6M509.5 1257.2V1272.3M510.5 1251.5V1266.7M511.5 1250.5V1271.9M512.5 1251.0V1271.9M513.5 1255.6V1327.3M514.5 1262.1V1302.2M515.5 1256.2V1296.9M516.5 1261.8V1319.9M517.5 1255.6V1269.3M518.5 1262.7V1316.3M519.5 1258.6V1278.2M520.5 1257.3V1271.5M521.5 1253.3V1271.5M522.5 1258.4V1274.5M523.5 1256.7V1269.5M524.5 1257.9V1272.2M525.5 1253.9V1271.3M526.5 1256.0V1339.6M527.5 1262.2V1307.3M528.5 1258.0V1273.2M529.5 1255.4V1270.7M530.5 1257.9V1270.1M531.5 1252.0V1270.7M532.5 1258.3V1283.4M533.5 1254.1V1274.1M534.5 1257.0V1272.6M535.5 1256.5V1269.4M536.5 1251.0V1268.1M537.5 1250.7V1274.5M538.5 1250.3V1274.5M539.5 1260.7V1284.1M540.5 1252.0V1269.0M541.5 1253.0V1270.5M542.5 1253.9V1266.6M543.5 1255.8V1280.0M544.5 1254.7V1269.4M545.5 1256.8V1275.3M546.5 1248.4V1284.4M547.5 1254.9V1277.1M548.5 1254.1V1268.5M549.5 1254.6V1268.2M550.5 1253.3V1271.4M551.5 1248.3V1271.8M552.5 1248.4V1266.7M553.5 1250.3V1262.6M554.5 1251.4V1265.8M555.5 1251.7V1264.8M556.5 1251.0V1279.6M557.5 1248.1V1302.1M558.5 1260.9V1280.0M559.5 1254.0V1271.0M560.5 1252.4V1270.9M561.5 1253.2V1288.1M562.5 1257.8V1288.1M563.5 1253.5V1268.9M564.5 1253.3V1269.7M565.5 1253.1V1274.0M566.5 1267.0V1322.6M567.5 1259.2V1279.0M568.5 1252.3V1269.5M569.5 1250.4V1269.4M570.5 1257.8V1289.7M571.5 1259.1V1284.1M572.5 1254.5V1271.6M573.5 1252.0V1265.9M574.5 1254.6V1270.2M575.5 1254.4V1268.3M576.5 1252.4V1265.4M577.5 1252.5V1272.8M578.5 1261.3V1279.7M579.5 1256.5V1273.3M580.5 1253.4V1271.7M581.5 1251.8V1266.1M582.5 1251.3V1271.2M583.5 1249.6V1266.4M584.5 1247.9V1266.4M585.5 1250.0V1267.2M586.5 1251.9V1267.3M587.5 1253.7V1267.4M588.5 1252.6V1332.4M589.5 1261.0V1324.1M590.5 1256.2V1274.6M591.5 1253.1V1272.2M592.5 1253.8V1270.7M593.5 1255.3V1278.4M594.5 1256.8V1278.4M595.5 1255.0V1267.4M596.5 1251.9V1266.8M597.5 1249.4V1294.2M598.5 1255.6V1293.2M599.5 1250.8V1268.7M600.5 1250.2V1267.2M601.5 1251.9V1268.6M602.5 1248.7V1271.0M603.5 1257.2V1274.2M604.5 1254.4V1273.4M605.5 1256.5V1271.4M606.5 1254.3V1268.7M607.5 1258.1V1279.8M608.5 1267.4V1294.5M609.5 1252.2V1275.1M610.5 1255.8V1270.9M611.5 1252.1V1270.3M612.5 1252.2V1269.0M613.5 1253.5V1273.9M614.5 1253.8V1272.6M615.5 1254.0V1274.1M616.5 1252.3V1269.4M617.5 1252.9V1288.2M618.5 1258.4V1285.6M619.5 1255.4V1268.2M620.5 1252.4V1267.3M621.5 1249.8V1267.3M622.5 1254.5V1269.3M623.5 1252.7V1265.0M624.5 1253.5V1272.4M625.5 1252.2V1271.4M626.5 1252.7V1266.3M627.5 1248.7V1265.7M628.5 1254.1V1368.9M629.5 1268.7V1368.9M630.5 1256.1V1274.6M631.5 1251.9V1275.4M632.5 1251.2V1267.3M633.5 1250.9V1272.3M634.5 1249.9V1271.0M635.5 1251.3V1271.3M636.5 1250.3V1268.2M637.5 1253.2V1263.6M638.5 1251.9V1266.2M639.5 1244.7V1266.8M640.5 1244.7V1274.1M641.5 1255.9V1274.1M642.5 1256.8V1269.6M643.5 1253.5V1287.2M644.5 1256.4V1293.4M645.5 1255.3V1268.5M646.5 1252.1V1267.6M647.5 1247.7V1264.4M648.5 1251.7V1265.6M649.5 1247.6V1264.4M650.5 1251.8V1267.0M651.5 1253.8V1266.3M652.5 1251.7V1268.9M653.5 1250.3V1275.5M654.5 1250.5V1270.3M655.5 1248.2V1269.7M656.5 1253.2V1267.3M657.5 1253.6V1299.9M658.5 1267.3V1326.0M659.5 1257.2V1282.0M660.5 1258.5V1282.2M661.5 1257.7V1273.3M662.5 1248.1V1265.9M663.5 1251.5V1360.5M664.5 1273.1V1360.5M665.5 1257.0V1277.4M666.5 1252.3V1270.2M667.5 1251.2V1265.2M668.5 1252.8V1268.1M669.5 1254.5V1279.3M670.5 1257.1V1274.3M671.5 1259.2V1291.1M672.5 1250.1V1266.9M673.5 1250.9V1264.5M674.5 1253.5V1266.4M675.5 1254.2V1270.9M676.5 1246.9V1261.7M677.5 1249.8V1267.1M678.5 1249.6V1267.3M679.5 1250.9V1264.9M680.5 1246.7V1264.5M681.5 1248.6V1266.5M682.5 1254.8V1289.1M683.5 1258.6V1284.5M684.5 1258.6V1275.0M685.5 1251.6V1273.8M686.5 1252.9V1264.2M687.5 1248.9V1274.8M688.5 1256.1V1286.5M689.5 1260.2V1287.7" fill="none" stroke="#000" stroke-width="1"/>
<path d="M73.5 1420.1V1439.9M74.5 1417.2V1431.7M75.5 1415.0V1428.8M76.5 1418.6V1443.2M77.5 1418.8V1437.4M78.5 1413.5V1432.6M79.5 1415.2V1428.4M80.5 1413.9V1428.4M81.5 1412.5V1446.6M82.5 1419.6V1455.0M83.5 1415.9V1432.2M84.5 1410.7V1433.6M85.5 1417.4V1439.2M86.5 1417.8V1431.7M87.5 1419.1V1486.8M88.5 1425.7V1486.8M89.5 1412.6V1434.7M90.5 1410.0V1430.3M91.5 1415.5V1426.3M92.5 1409.5V1440.3M93.5 1414.1V1435.8M94.5 1413.4V1426.1M95.5 1419.6V1444.3M96.5 1409.9V1428.7M97.5 1412.9V1427.0M98.5 1415.4V1430.0M99.5 1413.5V1434.7M100.5 1411.8V1430.8M101.5 1413.8V1428.5M102.5 1417.4V1430.6M103.5 1416.4V1433.1M104.5 1420.5V1439.0M105.5 1421.4V1447.4M106.5 1412.6V1431.9M107.5 1416.2V1434.6M108.5 1413.7V1432.7M109.5 1413.0V1427.6M110.5 1410.0V1428.2M111.5 1412.6V1430.2M112.5 1415.4V1430.7M113.5 1415.7V1430.0M114.5 1415.5V1429.2M115.5 1422.2V1456.2M116.5 1412.5V1430.2M117.5 1413.7V1428.7M118.5 1415.1V1438.6M119.5 1412.4V1434.5M120.5 1411.5V1428.3M121.5 1412.6V1434.0M122.5 1409.5V1430.8M123.5 1415.4V1447.3M124.5 1415.0V1435.0M125.5 1416.1V1431.9M126.5 1412.5V1430.8M127.5 1414.0V1430.8M128.5 1417.3V1431.5M129.5 1414.1V1429.8M130.5 1415.0V1430.5M131.5 1417.5V1434.1M132.5 1414.1V1432.4M133.5 1419.9V1451.5M134.5 1416.9V1453.3M135.5 1415.4V1436.9M136.5 1419.8V1441.1M137.5 1412.0V1430.9M138.5 1412.1V1430.2M139.5 1410.5V1427.7M140.5 1416.7V1427.7M141.5 1413.3V1443.9M142.5 1415.3V1438.5M143.5 1418.4V1499.3M144.5 1421.6V1469.9M145.5 1415.6V1432.2M146.5 1412.7V1430.9M147.5 1416.9V1431.9M148.5 1414.8V1428.9M149.5 1413.9V1429.6M150.5 1416.2V1441.1M151.5 1417.7V1439.5M152.5 1416.8V1431.5M153.5 1414.0V1430.7M154.5 1418.5V1456.2M155.5 1415.1V1437.5M156.5 1414.4V1426.9M157.5 1412.1V1435.5M158.5 1411.2V1436.2M159.5 1416.3V1432.4M160.5 1416.0V1427.2M161.5 1412.3V1428.6M162.5 1417.8V1428.9M163.5 1417.2V1431.8M164.5 1414.2V1429.8M165.5 1411.3V1431.9M166.5 1416.3V1438.5M167.5 1417.0V1431.8M168.5 1412.2V1433.1M169.5 1413.5V1428.5M170.5 1414.8V1429.2M171.5 1417.9V1437.5M172.5 1412.5V1438.4M173.5 1415.7V1433.2M174.5 1416.7V1431.6M175.5 1414.0V1466.6M176.5 1411.4V1437.4M177.5 1413.8V1430.4M178.5 1413.9V1431.2M179.5 1411.2V1435.4M180.5 1413.5V1431.6M181.5 1414.5V1430.9M182.5 1417.0V1430.3M183.5 1416.9V1427.9M184.5 1414.8V1429.3M185.5 1415.6V1429.7M186.5 1416.7V1446.1M187.5 1421.0V1446.0M188.5 1414.4V1431.1M189.5 1412.9V1427.2M190.5 1414.6V1427.3M191.5 1416.8V1428.8M192.5 1416.7V1430.8M193.5 1415.5V1429.5M194.5 1414.6V1429.8M195.5 1411.7V1434.5M196.5 1417.1V1430.6M197.5 1414.1V1435.4M198.5 1419.1V1432.8M199.5 1413.0V1432.1M200.5 1413.1V1434.1M201.5 1418.9V1431.2M202.5 1415.3V1433.3M203.5 1412.7V1433.7M204.5 1410.6V1429.5M205.5 1414.4V1438.5M206.5 1414.5V1429.5M207.5 1411.8V1426.3M208.5 1414.6V1456.6M209.5 1419.6V1439.0M210.5 1411.8V1429.6M211.5 1406.6V1428.6M212.5 1409.5V1426.3M213.5 1409.1V1426.6M214.5 1411.2V1425.5M215.5 1413.2V1427.8M216.5 1415.6V1431.7M217.5 1415.8V1431.2M218.5 1411.2V1438.9M219.5 1414.9V1442.5M220.5 1412.7V1435.1M221.5 1416.6V1460.0M222.5 1418.2V1459.8M223.5 1413.9V1429.6M224.5 1413.7V1429.6M225.5 1419.4V1447.9M226.5 1417.3V1440.0M227.5 1412.7V1428.8M228.5 1413.8V1434.9M229.5 1417.8V1436.3M230.5 1413.6V1431.4M231.5 1411.6V1428.7M232.5 1412.4V1432.9M233.5 1412.7V1429.4M234.5 1409.5V1430.7M235.5 1413.8V1427.8M236.5 1414.0V1431.1M237.5 1412.9V1427.5M238.5 1414.3V1428.3M239.5 1413.6V1425.7M240.5 1413.7V1430.5M241.5 1414.4V1434.1M242.5 1416.0V1433.7M243.5 1416.0V1442.2M244.5 1416.8V1432.8M245.5 1415.6V1428.0M246.5 1415.9V1442.4M247.5 1416.3V1442.1M248.5 1415.7V1430.3M249.5 1410.6V1425.0M250.5 1413.8V1425.3M251.5 1414.4V1442.8M252.5 1414.3V1430.5M253.5 1408.7V1428.5M254.5 1411.5V1426.1M255.5 1412.4V1434.7M256.5 1412.6V1434.0M257.5 1412.6V1428.0M258.5 1412.4V1427.9M259.5 1412.2V1434.7M260.5 1416.1V1429.9M261.5 1411.5V1426.9M262.5 1411.3V1427.6M263.5 1413.5V1431.2M264.5 1412.3V1430.3M265.5 1417.0V1443.4M266.5 1415.1V1430.6M267.5 1415.0V1431.0M268.5 1410.4V1428.9M269.5 1417.3V1439.1M270.5 1411.1V1431.7M271.5 1413.9V1435.1M272.5 1406.4V1427.4M273.5 1412.7V1443.8M274.5 1415.3V1443.8M275.5 1413.8V1433.9M276.5 1410.6V1427.3M277.5 1412.0V1433.2M278.5 1418.3V1430.6M279.5 1410.9V1442.2M280.5 1417.1V1432.3M281.5 1409.9V1433.1M282.5 1410.8V1436.2M283.5 1418.8V1433.6M284.5 1416.6V1433.0M285.5 1421.6V1436.1M286.5 1415.1V1431.8M287.5 1415.1V1445.4M288.5 1415.0V1432.1M289.5 1418.5V1438.2M290.5 1411.4V1433.0M291.5 1415.5V1431.9M292.5 1415.5V1427.9M293.5 1413.4V1436.7M294.5 1414.7V1429.2M295.5 1410.0V1426.3M296.5 1413.7V1436.2M297.5 1411.7V1485.4M298.5 1420.3V1457.4M299.5 1412.4V1430.0M300.5 1413.4V1448.8M301.5 1420.1V1440.1M302.5 1419.0V1433.3M303.5 1412.1V1430.3M304.5 1410.9V1429.5M305.5 1412.8V1429.7M306.5 1411.0V1426.7M307.5 1413.5V1428.3M308.5 1414.0V1429.6M309.5 1413.5V1428.6M310.5 1416.1V1428.6M311.5 1418.8V1440.1M312.5 1419.9V1439.6M313.5 1418.5V1430.4M314.5 1416.7V1431.9M315.5 1413.9V1429.3M316.5 1413.5V1432.1M317.5 1429.6V1465.9M318.5 1419.6V1444.9M319.5 1413.4V1430.5M320.5 1412.0V1425.5M321.5 1412.9V1428.9M322.5 1415.7V1429.2M323.5 1414.4V1428.7M324.5 1418.4V1454.1M325.5 1419.0V1431.8M326.5 1412.8V1429.5M327.5 1412.9V1427.5M328.5 1413.8V1429.2M329.5 1413.9V1428.4M330.5 1410.6V1432.9M331.5 1414.9V1434.0M332.5 1413.0V1428.1M333.5 1415.4V1427.7M334.5 1412.6V1429.3M335.5 1411.0V1431.1M336.5 1416.4V1436.0M337.5 1414.8V1433.8M338.5 1417.2V1437.0M339.5 1417.1V1434.3M340.5 1418.3V1430.3M341.5 1414.7V1429.7M342.5 1415.5V1431.5M343.5 1412.8V1432.2M344.5 1415.1V1435.3M345.5 1414.0V1434.3M346.5 1416.1V1427.7M347.5 1415.0V1438.1M348.5 1417.5V1434.8M349.5 1417.5V1456.5M350.5 1421.4V1446.8M351.5 1410.9V1429.6M352.5 1413.5V1496.8M353.5 1432.5V1543.9M354.5 1414.8V1443.0M355.5 1415.3V1428.8M356.5 1414.5V1435.0M357.5 1421.1V1469.2M358.5 1418.1V1445.6M359.5 1416.7V1441.0M360.5 1412.8V1434.0M361.5 1416.0V1429.6M362.5 1416.4V1434.9M363.5 1406.1V1427.1M364.5 1406.1V1428.5M365.5 1415.0V1434.2M366.5 1414.2V1429.9M367.5 1413.6V1426.6M368.5 1414.4V1427.0M369.5 1414.4V1431.4M370.5 1415.5V1430.7M371.5 1410.6V1429.1M372.5 1412.2V1427.9M373.5 1414.0V1430.1M374.5 1418.1V1436.0M375.5 1416.7V1432.6M376.5 1414.6V1432.5M377.5 1416.1V1434.4M378.5 1412.0V1428.5M379.5 1414.3V1429.3M380.5 1413.8V1429.6M381.5 1410.2V1431.2M382.5 1415.3V1441.3M383.5 1411.5V1437.7M384.5 1421.6V1442.2M385.5 1415.7V1434.5M386.5 1416.1V1430.0M387.5 1411.1V1427.6M388.5 1415.3V1447.6M389.5 1419.9V1441.1M390.5 1404.8V1434.1M391.5 1416.7V1433.9M392.5 1415.5V1429.8M393.5 1412.8V1434.1M394.5 1411.8V1430.6M395.5 1410.4V1428.4M396.5 1410.4V1425.5M397.5 1416.1V1440.0M398.5 1417.9V1440.0M399.5 1414.4V1430.6M400.5 1406.9V1429.7M401.5 1414.4V1434.4M402.5 1419.9V1431.5M403.5 1412.4V1431.7M404.5 1425.7V1469.1M405.5 1417.5V1435.6M406.5 1412.3V1435.0M407.5 1419.3V1435.2M408.5 1420.3V1433.5M409.5 1418.2V1430.4M410.5 1416.9V1443.4M411.5 1416.3V1436.4M412.5 1412.8V1431.9M413.5 1417.2V1477.3M414.5 1422.7V1448.6M415.5 1416.9V1434.9M416.5 1418.5V1429.7M417.5 1415.5V1430.6M418.5 1411.4V1428.7M419.5 1411.1V1435.3M420.5 1415.0V1429.9M421.5 1414.8V1430.4M422.5 1414.0V1432.0M423.5 1413.5V1432.7M424.5 1414.6V1431.7M425.5 1414.4V1428.8M426.5 1415.1V1430.8M427.5 1412.3V1431.9M428.5 1414.3V1429.0M429.5 1415.8V1436.0M430.5 1418.9V1433.7M431.5 1414.3V1432.9M432.5 1415.0V1436.1M433.5 1411.3V1432.4M434.5 1418.3V1431.4M435.5 1415.7V1443.0M436.5 1413.6V1435.7M437.5 1420.3V1432.3M438.5 1415.0V1431.4M439.5 1418.8V1431.0M440.5 1414.2V1432.1M441.5 1415.3V1441.0M442.5 1417.9V1436.7M443.5 1411.8V1434.3M444.5 1419.1V1431.4M445.5 1416.2V1499.3M446.5 1424.8V1499.3M447.5 1419.2V1432.0M448.5 1418.9V1431.4M449.5 1420.9V1440.7M450.5 1417.2V1444.0M451.5 1426.4V1462.2M452.5 1419.1V1448.8M453.5 1412.9V1431.6M454.5 1415.5V1429.7M455.5 1419.5V1432.5M456.5 1417.0V1443.0M457.5 1416.8V1429.9M458.5 1414.7V1431.7M459.5 1412.9V1430.5M460.5 1415.6V1430.1M461.5 1414.0V1427.4M462.5 1412.9V1432.1M463.5 1412.8V1430.3M464.5 1414.2V1429.6M465.5 1412.9V1429.6M466.5 1413.1V1428.2M467.5 1414.3V1428.2M468.5 1412.8V1427.6M469.5 1412.6V1428.9M470.5 1410.1V1433.0M471.5 1408.8V1432.5M472.5 1412.3V1429.0M473.5 1416.0V1441.8M474.5 1417.3V1440.5M475.5 1418.1V1435.2M476.5 1413.7V1431.5M477.5 1414.1V1432.1M478.5 1412.8V1447.2M479.5 1417.8V1437.4M480.5 1417.8V1442.2M481.5 1423.4V1444.3M482.5 1418.2V1454.1M483.5 1425.7V1461.5M484.5 1414.9V1432.9M485.5 1412.3V1429.2M486.5 1416.3V1429.7M487.5 1414.0V1428.3M488.5 1410.8V1429.6M489.5 1412.0V1430.1M490.5 1415.0V1425.4M491.5 1409.7V1430.8M492.5 1418.6V1437.6M493.5 1420.3V1459.2M494.5 1418.4V1449.0M495.5 1415.5V1433.2M496.5 1417.3V1430.1M497.5 1417.9V1430.7M498.5 1410.5V1431.7M499.5 1417.2V1429.2M500.5 1415.4V1428.4M501.5 1416.0V1435.2M502.5 1419.2V1442.0M503.5 1418.6V1440.5M504.5 1417.0V1435.6M505.5 1416.0V1435.1M506.5 1411.4V1430.9M507.5 1414.0V1426.7M508.5 1413.3V1429.8M509.5 1414.5V1481.7M510.5 1429.0V1462.1M511.5 1416.6V1435.7M512.5 1416.0V1431.3M513.5 1416.0V1429.1M514.5 1410.9V1432.1M515.5 1416.5V1431.5M516.5 1414.5V1430.0M517.5 1414.7V1441.8M518.5 1422.0V1437.7M519.5 1419.1V1440.7M520.5 1417.2V1452.9M521.5 1415.5V1438.5M522.5 1413.1V1431.3M523.5 1412.3V1425.0M524.5 1415.2V1427.8M525.5 1415.4V1428.2M526.5 1412.6V1431.2M527.5 1414.7V1428.2M528.5 1416.5V1432.4M529.5 1418.7V1430.1M530.5 1414.2V1428.8M531.5 1413.4V1447.8M532.5 1417.6V1437.3M533.5 1415.5V1441.7M534.5 1421.8V1444.5M535.5 1420.4V1438.8M536.5 1410.0V1439.1M537.5 1421.1V1443.3M538.5 1414.6V1429.5M539.5 1412.6V1424.2M540.5 1414.3V1434.7M541.5 1416.0V1440.1M542.5 1412.6V1428.4M543.5 1413.8V1428.6M544.5 1413.3V1430.4M545.5 1412.3V1431.1M546.5 1411.8V1432.1M547.5 1415.2V1436.3M548.5 1416.4V1429.9M549.5 1410.2V1436.3M550.5 1412.3V1430.4M551.5 1417.1V1435.0M552.5 1413.7V1437.8M553.5 1412.6V1441.8M554.5 1417.9V1447.7M555.5 1419.6V1438.0M556.5 1417.6V1434.8M557.5 1413.9V1435.4M558.5 1412.8V1434.7M559.5 1411.9V1433.3M560.5 1414.2V1426.8M561.5 1411.4V1429.5M562.5 1415.9V1431.3M563.5 1413.9V1431.6M564.5 1417.1V1432.2M565.5 1415.7V1436.3M566.5 1414.5V1439.0M567.5 1419.3V1433.4M568.5 1414.5V1429.2M569.5 1411.1V1429.1M570.5 1416.8V1429.2M571.5 1417.8V1434.8M572.5 1415.4V1432.4M573.5 1415.4V1432.0M574.5 1415.1V1470.6M575.5 1418.6V1452.1M576.5 1415.8V1435.1M577.5 1413.4V1433.5M578.5 1416.5V1430.7M579.5 1413.2V1432.0M580.5 1417.1V1431.5M581.5 1414.1V1432.8M582.5 1411.5V1428.6M583.5 1412.1V1429.2M584.5 1413.0V1430.7M585.5 1416.3V1429.9M586.5 1415.5V1438.7M587.5 1418.3V1465.7M588.5 1419.8V1447.0M589.5 1418.4V1434.8M590.5 1413.7V1428.2M591.5 1414.9V1431.8M592.5 1412.3V1432.2M593.5 1414.3V1432.2M594.5 1414.9V1442.0M595.5 1417.7V1442.0M596.5 1409.9V1426.9M597.5 1413.8V1429.6M598.5 1413.0V1434.9M599.5 1414.8V1432.3M600.5 1410.8V1442.1M601.5 1418.3V1441.1M602.5 1417.9V1434.4M603.5 1416.6V1434.9M604.5 1415.4V1448.3M605.5 1419.4V1444.3M606.5 1417.9V1432.4M607.5 1415.0V1431.0M608.5 1414.8V1441.9M609.5 1417.0V1438.5M610.5 1412.1V1433.0M611.5 1415.1V1518.3M612.5 1421.0V1477.9M613.5 1418.7V1430.0M614.5 1416.9V1430.8M615.5 1413.0V1430.1M616.5 1415.3V1429.6M617.5 1416.8V1435.7M618.5 1416.0V1427.7M619.5 1406.3V1433.8M620.5 1415.4V1427.4M621.5 1412.9V1427.3M622.5 1416.0V1433.2M623.5 1411.3V1428.6M624.5 1414.1V1500.7M625.5 1437.1V1552.6M626.5 1415.3V1441.0M627.5 1411.2V1431.2M628.5 1413.5V1432.4M629.5 1414.2V1434.4M630.5 1415.9V1434.9M631.5 1418.1V1430.9M632.5 1418.1V1451.4M633.5 1423.0V1435.2M634.5 1415.3V1434.0M635.5 1416.3V1429.8M636.5 1413.7V1433.4M637.5 1416.3V1430.7M638.5 1415.7V1434.1M639.5 1417.2V1431.1M640.5 1415.7V1427.2M641.5 1412.9V1427.2M642.5 1413.6V1431.6M643.5 1413.8V1430.3M644.5 1412.2V1443.8M645.5 1424.7V1458.8M646.5 1415.0V1437.2M647.5 1414.4V1433.2M648.5 1417.5V1428.3M649.5 1414.8V1483.7M650.5 1429.7V1523.8M651.5 1414.8V1459.7M652.5 1419.4V1465.4M653.5 1417.7V1430.2M654.5 1415.9V1432.8M655.5 1416.0V1438.8M656.5 1420.1V1444.7M657.5 1415.8V1430.2M658.5 1414.2V1431.2M659.5 1415.8V1434.0M660.5 1413.6V1428.8M661.5 1408.3V1426.3M662.5 1412.3V1441.6M663.5 1412.6V1441.2M664.5 1410.3V1429.3M665.5 1415.7V1433.5M666.5 1417.3V1432.8M667.5 1423.5V1466.2M668.5 1412.4V1433.5M669.5 1412.8V1426.0M670.5 1414.9V1429.9M671.5 1415.8V1429.9M672.5 1416.7V1434.8M673.5 1419.9V1434.1M674.5 1413.5V1428.4M675.5 1411.9V1433.3M676.5 1411.4V1431.4M677.5 1412.2V1427.6M678.5 1412.2V1427.1M679.5 1410.3V1429.2M680.5 1414.2V1429.8M681.5 1417.6V1429.5M682.5 1413.5V1432.0M683.5 1414.5V1432.5M684.5 1410.9V1428.3M685.5 1412.7V1434.8M686.5 1422.7V1444.4M687.5 1415.7V1431.4M688.5 1414.2V1430.3M689.5 1408.4V1431.5M690.5 1415.2V1432.0M691.5 1412.8V1429.9" fill="none" stroke="#000" stroke-width="1"/>
<text transform="translate(1062.9,1227.5)" font-size="29.5" fill="#000">mIPSC</text>
<text transform="translate(743.6,1272.5)" font-size="29.5" fill="#000">ND</text>
<text transform="translate(743.6,1435)" font-size="29.5" fill="#000">HFD</text>
<line x1="1257.5" y1="1286" x2="1257.5" y2="1369.9" stroke="#000" stroke-width="3" stroke-linecap="butt"/>
<line x1="1256" y1="1368.4" x2="1381.7" y2="1368.4" stroke="#000" stroke-width="3" stroke-linecap="butt"/>
<text transform="translate(1251,1336) scale(1.03,1)" font-size="22.5" text-anchor="end" fill="#000">100 pA</text>
<text transform="translate(1319.5,1393.5)" font-size="22.5" text-anchor="middle" fill="#000">1 s</text>
<path d="M807.5 1260.6V1269.9M808.5 1259.2V1269.7M809.5 1258.6V1266.5M810.5 1258.4V1265.8M811.5 1259.0V1265.8M812.5 1259.2V1271.2M813.5 1257.5V1269.7M814.5 1258.1V1273.2M815.5 1260.4V1268.5M816.5 1250.4V1268.7M817.5 1248.2V1257.1M818.5 1249.7V1262.0M819.5 1255.6V1267.6M820.5 1259.0V1266.6M821.5 1262.2V1268.9M822.5 1262.4V1270.1M823.5 1261.3V1268.7M824.5 1259.4V1266.8M825.5 1242.8V1263.2M826.5 1253.9V1267.6M827.5 1261.6V1273.6M828.5 1261.4V1270.2M829.5 1259.6V1266.6M830.5 1259.6V1267.1M831.5 1257.8V1267.2M832.5 1257.2V1266.2M833.5 1252.6V1258.7M834.5 1254.6V1262.2M835.5 1253.7V1265.1M836.5 1260.4V1268.0M837.5 1251.1V1262.5M838.5 1258.5V1264.3M839.5 1255.9V1263.2M840.5 1257.1V1262.9M841.5 1260.6V1268.8M842.5 1260.0V1267.7M843.5 1258.6V1265.6M844.5 1259.4V1269.4M845.5 1254.9V1262.9M846.5 1255.7V1265.6M847.5 1255.1V1263.8M848.5 1257.0V1263.8M849.5 1256.4V1263.7M850.5 1259.3V1269.6M851.5 1231.6V1270.0M852.5 1239.6V1247.0M853.5 1242.5V1255.8M854.5 1250.9V1257.7M855.5 1249.1V1260.8M856.5 1258.4V1265.8M857.5 1192.3V1263.2M858.5 1194.0V1213.0M859.5 1209.5V1225.8M860.5 1221.4V1243.7M861.5 1236.3V1248.5M862.5 1242.7V1257.3M863.5 1250.5V1257.4M864.5 1253.0V1260.0M865.5 1254.7V1266.4M866.5 1255.6V1264.4M867.5 1254.9V1263.0M868.5 1258.3V1265.4M869.5 1261.0V1270.9M870.5 1262.7V1270.0M871.5 1254.9V1265.9M872.5 1260.3V1266.6M873.5 1260.9V1272.1M874.5 1258.0V1267.1M875.5 1260.2V1269.1M876.5 1256.8V1271.3M877.5 1256.5V1264.1M878.5 1257.0V1266.4M879.5 1255.5V1266.3M880.5 1253.2V1261.9M881.5 1258.2V1265.0M882.5 1261.3V1268.0M883.5 1264.5V1275.3M884.5 1264.3V1273.2M885.5 1261.4V1271.6M886.5 1256.3V1265.3M887.5 1259.7V1267.5M888.5 1263.7V1271.7M889.5 1262.1V1271.0M890.5 1259.9V1266.0M891.5 1258.4V1266.4M892.5 1262.2V1273.1M893.5 1261.4V1271.2M894.5 1262.2V1271.2M895.5 1259.2V1267.4M896.5 1261.5V1268.6M897.5 1262.0V1272.4M898.5 1259.1V1267.7M899.5 1258.5V1266.7M900.5 1198.5V1263.3M901.5 1214.2V1234.2M902.5 1234.2V1243.8M903.5 1237.0V1244.0M904.5 1241.0V1258.2M905.5 1253.0V1260.3M906.5 1254.6V1265.0M907.5 1260.1V1266.0M908.5 1259.0V1268.9M909.5 1258.0V1266.1M910.5 1257.9V1267.9M911.5 1254.5V1265.1M912.5 1253.9V1260.4M913.5 1256.0V1271.1M914.5 1259.6V1267.1M915.5 1259.6V1266.6M916.5 1256.4V1267.4M917.5 1257.8V1269.6M918.5 1258.8V1270.5M919.5 1261.1V1267.6M920.5 1259.6V1269.0M921.5 1259.6V1266.5M922.5 1258.7V1269.5M923.5 1265.5V1273.8M924.5 1266.5V1275.1M925.5 1261.1V1272.3M926.5 1261.8V1270.4M927.5 1262.1V1270.1M928.5 1261.0V1271.8M929.5 1260.0V1270.5M930.5 1261.6V1268.5M931.5 1266.0V1274.1M932.5 1245.0V1274.2M933.5 1246.3V1254.0M934.5 1251.8V1265.1M935.5 1258.8V1271.9M936.5 1260.8V1272.1M937.5 1264.6V1271.0M938.5 1257.8V1271.0M939.5 1259.2V1266.5M940.5 1262.6V1272.4M941.5 1264.4V1272.1M942.5 1263.2V1270.4M943.5 1266.3V1273.9M944.5 1265.4V1273.7M945.5 1266.7V1274.4M946.5 1268.2V1276.6M947.5 1263.4V1275.0M948.5 1251.8V1265.6M949.5 1254.8V1269.0M950.5 1260.0V1271.5M951.5 1257.5V1270.9M952.5 1257.6V1264.0M953.5 1258.1V1267.1M954.5 1262.9V1271.2M955.5 1264.9V1273.1M956.5 1262.6V1272.7M957.5 1262.8V1271.4M958.5 1260.8V1274.0M959.5 1259.6V1270.6M960.5 1264.2V1271.3M961.5 1262.0V1272.8M962.5 1265.8V1271.2M963.5 1255.8V1272.1M964.5 1247.8V1255.8M965.5 1251.0V1257.4M966.5 1254.2V1269.0M967.5 1256.8V1264.7M968.5 1255.0V1262.1M969.5 1258.4V1271.5M970.5 1262.2V1273.1M971.5 1200.5V1265.6M972.5 1203.1V1226.8M973.5 1224.0V1239.6M974.5 1235.3V1247.2M975.5 1244.6V1254.7M976.5 1250.4V1257.4M977.5 1251.0V1260.6M978.5 1253.9V1263.1M979.5 1261.2V1267.7M980.5 1263.3V1269.7M981.5 1258.6V1267.2M982.5 1256.7V1266.6M983.5 1251.5V1261.8M984.5 1253.1V1261.9M985.5 1258.9V1268.7M986.5 1258.9V1269.1M987.5 1255.4V1265.7M988.5 1259.6V1267.6M989.5 1257.7V1265.6M990.5 1251.2V1262.6M991.5 1251.2V1262.9M992.5 1256.0V1264.8M993.5 1257.3V1263.6M994.5 1256.4V1264.7M995.5 1261.6V1270.3M996.5 1259.3V1270.3M997.5 1258.5V1267.1M998.5 1257.4V1268.8M999.5 1256.2V1264.8M1000.5 1257.4V1265.4M1001.5 1258.2V1271.5M1002.5 1258.3V1267.1M1003.5 1262.2V1269.7M1004.5 1257.4V1267.2M1005.5 1260.3V1269.1M1006.5 1262.4V1269.1M1007.5 1266.9V1273.5M1008.5 1252.0V1269.1M1009.5 1255.4V1262.6M1010.5 1256.5V1267.2M1011.5 1259.8V1268.8M1012.5 1260.3V1268.1M1013.5 1256.8V1265.7M1014.5 1256.8V1265.0M1015.5 1253.8V1263.0M1016.5 1258.4V1268.0M1017.5 1241.5V1266.1M1018.5 1237.4V1251.8M1019.5 1248.6V1258.5M1020.5 1255.5V1265.7M1021.5 1256.4V1263.1M1022.5 1259.2V1265.0M1023.5 1256.8V1265.0M1024.5 1259.4V1269.1M1025.5 1257.7V1267.2M1026.5 1261.4V1268.7M1027.5 1259.3V1268.8M1028.5 1263.1V1271.4M1029.5 1260.0V1269.8M1030.5 1261.6V1269.8M1031.5 1263.5V1273.7M1032.5 1263.1V1274.8M1033.5 1264.9V1273.5M1034.5 1263.9V1272.9M1035.5 1265.5V1273.6M1036.5 1223.7V1273.0M1037.5 1227.8V1242.9M1038.5 1233.7V1244.0M1039.5 1241.7V1255.2M1040.5 1245.9V1257.7M1041.5 1249.4V1258.3M1042.5 1249.4V1257.8M1043.5 1255.1V1265.4M1044.5 1239.7V1257.9M1045.5 1246.0V1256.7M1046.5 1248.0V1260.2M1047.5 1253.5V1260.6M1048.5 1250.8V1261.4M1049.5 1250.8V1266.2M1050.5 1262.0V1268.9M1051.5 1258.1V1270.4M1052.5 1260.0V1268.0M1053.5 1258.6V1268.4M1054.5 1258.5V1266.8M1055.5 1264.9V1274.3M1056.5 1266.5V1276.3M1057.5 1267.0V1277.8M1058.5 1261.8V1270.1M1059.5 1260.8V1267.4M1060.5 1259.8V1269.0M1061.5 1260.0V1269.4M1062.5 1261.7V1269.2M1063.5 1260.2V1271.2M1064.5 1263.0V1269.0M1065.5 1261.1V1268.9M1066.5 1264.5V1273.4M1067.5 1263.1V1268.8M1068.5 1256.7V1270.7M1069.5 1258.8V1269.3M1070.5 1263.2V1271.7M1071.5 1265.2V1272.9M1072.5 1264.8V1272.4M1073.5 1265.5V1270.8M1074.5 1266.2V1275.7M1075.5 1266.0V1274.1M1076.5 1262.5V1273.8M1077.5 1260.0V1267.6M1078.5 1259.0V1266.1M1079.5 1263.5V1269.5M1080.5 1261.6V1271.7M1081.5 1241.5V1269.1M1082.5 1237.7V1251.8M1083.5 1247.5V1261.3M1084.5 1256.7V1263.8M1085.5 1256.4V1265.2M1086.5 1255.6V1268.2M1087.5 1257.4V1264.7M1088.5 1257.4V1267.1M1089.5 1258.0V1267.7M1090.5 1264.5V1270.9M1091.5 1260.7V1267.6M1092.5 1262.6V1270.0M1093.5 1260.6V1267.7M1094.5 1260.6V1266.8M1095.5 1256.8V1264.7M1096.5 1258.4V1268.4M1097.5 1257.8V1266.4M1098.5 1253.6V1263.0M1099.5 1256.1V1263.8M1100.5 1263.8V1272.4M1101.5 1261.0V1270.7M1102.5 1259.7V1267.7M1103.5 1257.1V1262.9M1104.5 1257.9V1266.3M1105.5 1244.9V1264.4M1106.5 1244.9V1252.6M1107.5 1247.2V1255.3M1108.5 1249.9V1258.4M1109.5 1250.4V1259.2M1110.5 1251.5V1259.5M1111.5 1256.9V1265.9M1112.5 1253.3V1262.7M1113.5 1251.3V1257.4M1114.5 1251.7V1261.7M1115.5 1256.4V1261.0M1116.5 1254.5V1267.1M1117.5 1257.0V1267.1M1118.5 1260.3V1266.8M1119.5 1253.8V1263.2M1120.5 1255.6V1262.8M1121.5 1257.7V1266.1M1122.5 1261.5V1270.2M1123.5 1261.7V1270.5M1124.5 1260.2V1272.7M1125.5 1258.5V1266.2M1126.5 1258.9V1270.9M1127.5 1249.4V1264.3M1128.5 1222.6V1249.4M1129.5 1235.2V1252.4M1130.5 1248.9V1257.9M1131.5 1253.6V1265.5M1132.5 1261.4V1270.4M1133.5 1258.5V1268.2M1134.5 1251.8V1264.2M1135.5 1255.1V1262.4M1136.5 1256.4V1265.4M1137.5 1252.2V1261.6M1138.5 1250.2V1256.9M1139.5 1249.1V1256.6M1140.5 1252.0V1262.1M1141.5 1258.4V1271.9M1142.5 1253.1V1264.9M1143.5 1250.9V1261.7M1144.5 1254.0V1265.4M1145.5 1254.8V1265.4M1146.5 1261.6V1268.8M1147.5 1259.6V1268.7M1148.5 1254.2V1261.9M1149.5 1251.9V1262.2M1150.5 1253.7V1262.2M1151.5 1255.4V1263.8M1152.5 1255.1V1265.0M1153.5 1251.5V1264.6M1154.5 1252.6V1261.6M1155.5 1253.5V1261.6M1156.5 1256.7V1263.4M1157.5 1255.2V1268.2M1158.5 1257.0V1267.7M1159.5 1257.4V1264.9M1160.5 1252.0V1263.4M1161.5 1252.0V1262.6M1162.5 1257.4V1268.5M1163.5 1261.7V1270.1M1164.5 1259.8V1267.8M1165.5 1256.7V1268.9M1166.5 1252.9V1260.0M1167.5 1256.6V1266.8M1168.5 1259.6V1265.1M1169.5 1253.4V1263.2M1170.5 1254.8V1265.9M1171.5 1251.4V1258.7M1172.5 1250.3V1258.8M1173.5 1252.0V1260.8M1174.5 1257.1V1265.5M1175.5 1255.4V1265.5M1176.5 1256.0V1268.3M1177.5 1259.8V1269.9M1178.5 1261.7V1269.9M1179.5 1254.9V1264.8M1180.5 1250.8V1262.7M1181.5 1255.4V1263.8M1182.5 1254.4V1263.3M1183.5 1255.3V1264.9M1184.5 1257.3V1266.7M1185.5 1256.6V1267.8M1186.5 1241.6V1256.6M1187.5 1247.7V1255.9M1188.5 1249.3V1259.5M1189.5 1250.7V1259.4M1190.5 1251.0V1261.8M1191.5 1251.7V1261.1M1192.5 1250.3V1258.4M1193.5 1251.3V1260.6M1194.5 1256.1V1264.7M1195.5 1262.6V1268.9M1196.5 1256.4V1267.4M1197.5 1255.4V1266.3M1198.5 1253.1V1264.1M1199.5 1249.7V1260.1M1200.5 1255.0V1269.2M1201.5 1259.6V1267.5M1202.5 1246.4V1259.6M1203.5 1247.8V1255.0M1204.5 1249.8V1257.2M1205.5 1251.1V1258.7M1206.5 1253.1V1262.1M1207.5 1254.4V1266.7M1208.5 1252.8V1260.4M1209.5 1250.6V1263.5M1210.5 1251.4V1267.4M1211.5 1263.5V1270.3M1212.5 1261.4V1271.2M1213.5 1261.9V1268.6M1214.5 1260.2V1267.8M1215.5 1253.4V1264.7M1216.5 1257.5V1263.9M1217.5 1254.8V1262.8M1218.5 1255.1V1265.5M1219.5 1255.6V1268.3M1220.5 1263.2V1272.7M1221.5 1262.2V1270.9M1222.5 1262.3V1269.7M1223.5 1256.3V1266.2M1224.5 1257.3V1268.3M1225.5 1262.6V1270.0M1226.5 1261.8V1270.7M1227.5 1258.0V1267.6M1228.5 1254.6V1265.3M1229.5 1254.4V1264.6M1230.5 1260.1V1266.8M1231.5 1261.8V1267.6M1232.5 1260.5V1267.4M1233.5 1263.8V1270.2M1234.5 1259.7V1269.3M1235.5 1257.7V1267.1M1236.5 1257.4V1265.6M1237.5 1256.4V1265.8M1238.5 1255.2V1268.3M1239.5 1255.2V1266.5M1240.5 1257.7V1266.0M1241.5 1261.5V1268.7M1242.5 1263.3V1269.8M1243.5 1261.4V1272.3M1244.5 1261.2V1273.5M1245.5 1256.2V1267.9M1246.5 1258.9V1269.8M1247.5 1258.9V1269.4M1248.5 1261.2V1268.3M1249.5 1261.3V1268.5M1250.5 1257.1V1269.8M1251.5 1260.1V1266.4M1252.5 1257.9V1266.2M1253.5 1257.9V1268.0M1254.5 1257.6V1267.7M1255.5 1241.5V1265.7M1256.5 1246.2V1256.4M1257.5 1249.1V1257.8M1258.5 1245.6V1258.0M1259.5 1247.1V1265.3M1260.5 1256.1V1267.0M1261.5 1256.1V1267.0M1262.5 1256.8V1264.8M1263.5 1257.4V1265.8M1264.5 1257.5V1266.1M1265.5 1258.3V1264.8M1266.5 1258.3V1264.8M1267.5 1259.9V1268.9M1268.5 1259.4V1269.7M1269.5 1257.1V1267.8M1270.5 1257.1V1266.3M1271.5 1259.6V1267.8M1272.5 1259.4V1269.8M1273.5 1262.7V1269.9M1274.5 1253.3V1268.8M1275.5 1220.0V1265.6M1276.5 1190.1V1220.0M1277.5 1205.2V1222.1M1278.5 1221.0V1236.5M1279.5 1231.2V1243.2M1280.5 1237.2V1249.7M1281.5 1247.9V1258.7M1282.5 1250.9V1261.2M1283.5 1253.7V1261.8M1284.5 1219.0V1259.7M1285.5 1223.3V1238.8M1286.5 1233.0V1246.9M1287.5 1238.8V1248.4M1288.5 1242.3V1257.1M1289.5 1252.0V1259.3M1290.5 1252.0V1258.5M1291.5 1253.7V1265.0M1292.5 1259.5V1267.5M1293.5 1258.5V1270.2M1294.5 1257.5V1264.0M1295.5 1260.7V1266.5M1296.5 1260.2V1267.7M1297.5 1257.4V1267.0M1298.5 1256.9V1266.0M1299.5 1255.8V1265.7M1300.5 1259.6V1266.2M1301.5 1254.3V1266.4M1302.5 1257.5V1266.8M1303.5 1256.8V1268.6M1304.5 1252.9V1264.8M1305.5 1247.1V1256.3M1306.5 1238.2V1256.9M1307.5 1238.2V1249.8M1308.5 1242.6V1253.6M1309.5 1248.5V1257.0M1310.5 1249.7V1259.6M1311.5 1251.4V1258.2M1312.5 1253.3V1267.0M1313.5 1256.8V1267.5M1314.5 1256.2V1260.5M1315.5 1253.6V1261.7M1316.5 1252.6V1262.4M1317.5 1254.5V1260.4M1318.5 1255.0V1263.3M1319.5 1253.3V1262.5M1320.5 1251.1V1259.0M1321.5 1229.8V1259.0M1322.5 1232.0V1252.4M1323.5 1248.2V1258.3M1324.5 1255.9V1264.0M1325.5 1248.8V1264.2M1326.5 1259.0V1266.6M1327.5 1221.0V1265.4M1328.5 1221.3V1237.2M1329.5 1235.0V1250.0M1330.5 1242.0V1255.3M1331.5 1245.7V1257.2M1332.5 1251.4V1257.9M1333.5 1250.1V1262.6M1334.5 1250.5V1262.0M1335.5 1247.7V1258.1M1336.5 1248.7V1255.8M1337.5 1255.1V1262.0M1338.5 1252.3V1260.2M1339.5 1251.1V1259.9M1340.5 1253.8V1261.5M1341.5 1255.9V1265.0M1342.5 1255.8V1265.3M1343.5 1256.4V1262.9M1344.5 1256.2V1263.3M1345.5 1255.4V1262.3M1346.5 1259.4V1264.5M1347.5 1255.3V1265.5M1348.5 1251.9V1262.4M1349.5 1259.0V1267.8M1350.5 1259.3V1267.2M1351.5 1256.7V1265.5M1352.5 1251.1V1263.0M1353.5 1252.3V1260.6M1354.5 1254.0V1265.8M1355.5 1258.6V1265.8M1356.5 1257.4V1270.9M1357.5 1259.5V1270.3M1358.5 1244.7V1263.0M1359.5 1218.0V1244.7M1360.5 1226.0V1241.4M1361.5 1239.2V1248.2M1362.5 1240.6V1254.3M1363.5 1246.8V1262.6M1364.5 1256.7V1268.3M1365.5 1253.1V1260.6M1366.5 1253.6V1262.6M1367.5 1251.7V1261.6M1368.5 1255.7V1264.5M1369.5 1257.4V1264.2M1370.5 1259.9V1270.7M1371.5 1264.9V1272.1M1372.5 1263.4V1271.2M1373.5 1263.7V1274.6M1374.5 1262.8V1271.3M1375.5 1262.6V1273.4M1376.5 1266.2V1273.5M1377.5 1266.2V1273.6M1378.5 1266.3V1278.0M1379.5 1259.3V1272.7M1380.5 1261.8V1270.0M1381.5 1262.1V1269.3M1382.5 1262.9V1269.9M1383.5 1265.4V1274.8M1384.5 1261.9V1270.8M1385.5 1258.8V1269.1M1386.5 1257.4V1265.3M1387.5 1247.7V1259.1M1388.5 1251.9V1259.9M1389.5 1255.8V1262.8M1390.5 1254.3V1265.4M1391.5 1254.7V1265.5M1392.5 1254.8V1262.8M1393.5 1261.3V1267.1M1394.5 1262.8V1269.4M1395.5 1261.7V1270.8M1396.5 1260.8V1269.8M1397.5 1258.0V1267.6M1398.5 1256.8V1268.3M1399.5 1255.1V1264.0M1400.5 1255.3V1271.4M1401.5 1260.9V1267.4M1402.5 1256.6V1263.5M1403.5 1258.7V1269.0M1404.5 1259.0V1269.3M1405.5 1260.8V1269.7M1406.5 1210.2V1267.9M1407.5 1216.5V1227.6M1408.5 1226.6V1238.7M1409.5 1235.6V1244.7M1410.5 1241.5V1251.8M1411.5 1244.7V1256.0M1412.5 1246.7V1256.5M1413.5 1254.8V1264.8M1414.5 1259.2V1265.5M1415.5 1256.8V1266.3M1416.5 1239.9V1267.8M1417.5 1191.4V1239.9M1418.5 1204.3V1219.3M1419.5 1216.6V1237.4M1420.5 1233.3V1246.7M1421.5 1243.2V1250.2M1422.5 1242.2V1255.4M1423.5 1249.9V1256.9M1424.5 1249.6V1259.9M1425.5 1252.7V1259.9" fill="none" stroke="#000" stroke-width="1"/>
<path d="M818.5 1440.1V1449.9M819.5 1437.7V1447.9M820.5 1439.4V1445.7M821.5 1439.2V1451.4M822.5 1441.0V1450.0M823.5 1445.1V1454.9M824.5 1447.5V1453.7M825.5 1441.2V1451.1M826.5 1432.2V1449.6M827.5 1439.7V1446.1M828.5 1435.3V1445.6M829.5 1435.3V1453.8M830.5 1446.3V1455.6M831.5 1446.6V1453.1M832.5 1445.1V1453.3M833.5 1440.3V1449.0M834.5 1438.7V1451.1M835.5 1440.8V1451.4M836.5 1445.1V1451.4M837.5 1442.6V1449.5M838.5 1437.8V1447.8M839.5 1435.5V1444.9M840.5 1435.5V1446.1M841.5 1439.1V1450.7M842.5 1390.9V1448.9M843.5 1390.9V1412.7M844.5 1410.2V1420.4M845.5 1418.3V1431.4M846.5 1427.1V1432.9M847.5 1424.4V1435.6M848.5 1430.7V1440.9M849.5 1434.7V1442.3M850.5 1436.1V1443.7M851.5 1436.2V1445.2M852.5 1433.3V1445.7M853.5 1431.2V1442.5M854.5 1434.7V1443.1M855.5 1432.7V1445.9M856.5 1442.1V1451.0M857.5 1440.0V1448.4M858.5 1441.1V1450.7M859.5 1443.0V1450.3M860.5 1440.8V1449.9M861.5 1440.7V1449.8M862.5 1436.5V1447.9M863.5 1436.5V1445.8M864.5 1441.9V1448.1M865.5 1438.6V1448.0M866.5 1442.1V1448.7M867.5 1437.4V1448.9M868.5 1442.5V1449.8M869.5 1442.5V1448.7M870.5 1443.2V1449.2M871.5 1440.7V1449.8M872.5 1440.1V1449.1M873.5 1436.4V1446.0M874.5 1436.9V1448.5M875.5 1443.8V1451.5M876.5 1442.8V1450.9M877.5 1441.7V1450.2M878.5 1439.4V1450.2M879.5 1436.3V1444.3M880.5 1440.1V1447.3M881.5 1441.0V1449.6M882.5 1440.6V1448.2M883.5 1442.5V1451.5M884.5 1439.9V1454.1M885.5 1437.9V1449.3M886.5 1440.8V1447.9M887.5 1445.3V1449.7M888.5 1439.4V1449.5M889.5 1438.6V1447.7M890.5 1438.3V1448.6M891.5 1441.3V1449.4M892.5 1440.9V1450.0M893.5 1435.5V1445.0M894.5 1435.4V1449.0M895.5 1436.1V1446.4M896.5 1438.7V1445.7M897.5 1439.5V1450.4M898.5 1439.0V1446.2M899.5 1434.4V1444.0M900.5 1433.0V1439.9M901.5 1431.9V1441.0M902.5 1435.5V1443.6M903.5 1436.8V1446.8M904.5 1434.0V1447.6M905.5 1438.2V1447.6M906.5 1432.4V1443.8M907.5 1427.7V1435.5M908.5 1431.3V1438.7M909.5 1438.0V1452.1M910.5 1437.9V1447.5M911.5 1440.7V1448.9M912.5 1439.4V1447.0M913.5 1443.3V1451.4M914.5 1439.1V1447.4M915.5 1442.7V1451.4M916.5 1440.1V1448.5M917.5 1441.3V1451.7M918.5 1441.9V1451.2M919.5 1444.6V1451.8M920.5 1445.2V1452.0M921.5 1445.1V1453.7M922.5 1444.5V1452.7M923.5 1447.7V1455.2M924.5 1445.6V1453.6M925.5 1442.2V1450.6M926.5 1444.9V1453.7M927.5 1446.7V1454.3M928.5 1448.5V1456.2M929.5 1448.3V1456.1M930.5 1444.4V1454.2M931.5 1441.2V1449.7M932.5 1441.6V1449.7M933.5 1439.0V1449.2M934.5 1443.0V1451.2M935.5 1443.2V1449.3M936.5 1442.1V1450.7M937.5 1443.7V1450.7M938.5 1442.8V1454.9M939.5 1440.7V1449.6M940.5 1440.1V1447.6M941.5 1440.1V1446.5M942.5 1442.9V1452.3M943.5 1443.9V1452.5M944.5 1442.8V1450.4M945.5 1351.5V1451.1M946.5 1364.7V1387.8M947.5 1386.2V1409.0M948.5 1407.6V1426.0M949.5 1424.0V1434.7M950.5 1428.6V1438.7M951.5 1434.4V1444.1M952.5 1434.9V1444.1M953.5 1436.8V1441.9M954.5 1435.2V1443.2M955.5 1438.2V1448.7M956.5 1441.4V1452.0M957.5 1437.8V1450.7M958.5 1444.9V1454.1M959.5 1445.4V1453.3M960.5 1444.1V1451.8M961.5 1444.1V1455.7M962.5 1443.4V1452.9M963.5 1448.9V1456.7M964.5 1449.9V1457.3M965.5 1452.8V1461.5M966.5 1447.6V1455.2M967.5 1441.0V1451.6M968.5 1443.4V1453.4M969.5 1443.2V1449.1M970.5 1441.1V1454.2M971.5 1444.5V1452.5M972.5 1444.7V1452.4M973.5 1441.1V1453.8M974.5 1445.1V1452.9M975.5 1443.9V1452.3M976.5 1443.7V1452.6M977.5 1449.1V1455.2M978.5 1391.9V1453.0M979.5 1395.2V1415.4M980.5 1410.7V1425.1M981.5 1424.4V1434.4M982.5 1432.6V1437.5M983.5 1434.1V1443.4M984.5 1435.4V1450.5M985.5 1440.1V1453.1M986.5 1440.1V1449.5M987.5 1436.1V1446.0M988.5 1440.5V1455.2M989.5 1446.2V1455.2M990.5 1446.1V1454.6M991.5 1445.5V1452.5M992.5 1447.7V1453.0M993.5 1444.8V1455.1M994.5 1446.9V1453.2M995.5 1446.6V1451.7M996.5 1442.6V1449.9M997.5 1442.3V1454.1M998.5 1446.3V1454.7M999.5 1443.1V1455.8M1000.5 1445.1V1455.2M1001.5 1445.9V1455.2M1002.5 1445.4V1450.4M1003.5 1446.1V1453.3M1004.5 1440.4V1451.1M1005.5 1446.3V1453.4M1006.5 1439.7V1449.7M1007.5 1436.7V1450.7M1008.5 1444.2V1457.6M1009.5 1444.0V1454.2M1010.5 1447.5V1453.8M1011.5 1445.7V1459.4M1012.5 1448.6V1459.4M1013.5 1447.6V1455.5M1014.5 1447.7V1460.2M1015.5 1447.0V1458.3M1016.5 1446.7V1453.8M1017.5 1441.6V1452.3M1018.5 1443.3V1450.7M1019.5 1439.4V1453.7M1020.5 1436.8V1445.6M1021.5 1441.3V1449.5M1022.5 1440.1V1447.6M1023.5 1413.5V1445.0M1024.5 1344.0V1413.5M1025.5 1363.9V1376.2M1026.5 1373.8V1393.9M1027.5 1391.5V1404.7M1028.5 1399.4V1410.6M1029.5 1410.5V1417.6M1030.5 1412.1V1423.3M1031.5 1414.6V1424.2M1032.5 1417.1V1426.4M1033.5 1418.9V1431.4M1034.5 1423.6V1434.1M1035.5 1428.9V1435.4M1036.5 1430.3V1436.1M1037.5 1431.2V1442.2M1038.5 1430.0V1442.2M1039.5 1430.0V1445.9M1040.5 1435.9V1445.9M1041.5 1434.9V1443.6M1042.5 1433.9V1446.3M1043.5 1438.1V1448.8M1044.5 1435.9V1443.0M1045.5 1436.5V1442.5M1046.5 1433.8V1443.6M1047.5 1433.3V1443.1M1048.5 1434.5V1449.2M1049.5 1432.2V1446.5M1050.5 1429.4V1435.2M1051.5 1430.9V1441.3M1052.5 1434.0V1443.4M1053.5 1434.0V1444.4M1054.5 1409.3V1439.8M1055.5 1412.2V1426.6M1056.5 1422.5V1431.4M1057.5 1426.5V1438.4M1058.5 1431.8V1442.0M1059.5 1435.4V1446.6M1060.5 1438.4V1447.5M1061.5 1440.6V1450.2M1062.5 1441.1V1451.8M1063.5 1437.4V1445.8M1064.5 1435.7V1444.6M1065.5 1439.4V1447.5M1066.5 1439.4V1448.5M1067.5 1441.5V1445.9M1068.5 1441.3V1448.2M1069.5 1441.1V1447.8M1070.5 1440.5V1449.7M1071.5 1441.2V1449.2M1072.5 1439.7V1448.8M1073.5 1437.8V1447.4M1074.5 1440.1V1449.9M1075.5 1439.7V1447.1M1076.5 1439.9V1448.8M1077.5 1442.4V1451.0M1078.5 1441.9V1452.5M1079.5 1440.9V1450.7M1080.5 1441.2V1451.1M1081.5 1440.6V1451.0M1082.5 1440.3V1452.2M1083.5 1442.9V1452.3M1084.5 1443.7V1452.4M1085.5 1445.8V1455.1M1086.5 1444.8V1453.6M1087.5 1445.8V1453.7M1088.5 1445.5V1453.6M1089.5 1445.5V1453.4M1090.5 1381.1V1458.8M1091.5 1392.2V1407.6M1092.5 1406.0V1415.9M1093.5 1414.5V1432.9M1094.5 1428.0V1439.6M1095.5 1433.7V1441.5M1096.5 1441.1V1451.2M1097.5 1441.7V1451.5M1098.5 1442.2V1452.2M1099.5 1439.3V1450.2M1100.5 1442.8V1450.3M1101.5 1445.7V1455.4M1102.5 1446.8V1455.4M1103.5 1449.3V1456.5M1104.5 1449.5V1461.1M1105.5 1449.1V1454.9M1106.5 1447.5V1454.1M1107.5 1446.0V1455.7M1108.5 1443.7V1453.7M1109.5 1443.4V1452.2M1110.5 1447.0V1457.0M1111.5 1401.0V1453.8M1112.5 1409.1V1424.0M1113.5 1418.5V1431.9M1114.5 1427.3V1436.8M1115.5 1434.5V1442.5M1116.5 1434.6V1446.0M1117.5 1432.3V1448.0M1118.5 1438.8V1449.9M1119.5 1447.0V1454.0M1120.5 1419.3V1449.6M1121.5 1423.4V1433.5M1122.5 1426.7V1436.1M1123.5 1427.2V1436.2M1124.5 1434.0V1450.0M1125.5 1438.8V1450.0M1126.5 1438.0V1446.2M1127.5 1439.5V1447.5M1128.5 1443.9V1449.8M1129.5 1443.9V1455.2M1130.5 1441.6V1450.2M1131.5 1442.1V1450.8M1132.5 1442.7V1451.2M1133.5 1441.6V1448.3M1134.5 1439.9V1448.4M1135.5 1440.6V1449.1M1136.5 1440.3V1452.5M1137.5 1445.2V1451.2M1138.5 1439.4V1451.6M1139.5 1441.1V1446.9M1140.5 1438.6V1445.8M1141.5 1440.1V1446.9M1142.5 1441.5V1451.6M1143.5 1441.5V1449.0M1144.5 1438.8V1448.7M1145.5 1438.5V1450.2M1146.5 1447.1V1455.1M1147.5 1441.5V1453.8M1148.5 1437.9V1450.0M1149.5 1438.5V1445.7M1150.5 1439.4V1447.4M1151.5 1439.5V1447.7M1152.5 1441.2V1450.6M1153.5 1446.9V1456.1M1154.5 1442.8V1453.2M1155.5 1447.2V1454.4M1156.5 1445.0V1454.0M1157.5 1440.3V1450.3M1158.5 1437.4V1449.1M1159.5 1441.8V1451.0M1160.5 1446.1V1452.4M1161.5 1445.7V1453.0M1162.5 1381.2V1452.9M1163.5 1385.6V1400.7M1164.5 1398.7V1409.2M1165.5 1407.2V1429.5M1166.5 1419.8V1431.2M1167.5 1420.5V1429.1M1168.5 1424.3V1434.7M1169.5 1370.6V1437.8M1170.5 1366.6V1388.6M1171.5 1386.7V1404.6M1172.5 1401.5V1418.8M1173.5 1415.3V1429.7M1174.5 1424.3V1430.8M1175.5 1424.8V1438.3M1176.5 1434.0V1442.0M1177.5 1387.0V1442.0M1178.5 1400.1V1411.0M1179.5 1405.9V1415.8M1180.5 1410.2V1422.5M1181.5 1419.9V1429.7M1182.5 1426.6V1439.0M1183.5 1431.2V1439.3M1184.5 1437.3V1446.0M1185.5 1437.3V1447.7M1186.5 1432.7V1445.5M1187.5 1438.0V1446.7M1188.5 1438.3V1445.7M1189.5 1436.4V1442.2M1190.5 1436.4V1447.9M1191.5 1434.5V1444.2M1192.5 1435.2V1448.2M1193.5 1440.3V1449.2M1194.5 1442.5V1449.1M1195.5 1442.1V1448.3M1196.5 1438.1V1443.5M1197.5 1440.3V1447.4M1198.5 1435.8V1446.2M1199.5 1439.3V1445.9M1200.5 1441.8V1451.0M1201.5 1444.1V1451.3M1202.5 1433.1V1452.4M1203.5 1429.3V1438.2M1204.5 1434.0V1440.2M1205.5 1437.1V1446.1M1206.5 1431.8V1444.4M1207.5 1433.2V1444.5M1208.5 1442.5V1452.1M1209.5 1443.6V1450.2M1210.5 1439.4V1448.4M1211.5 1434.5V1444.6M1212.5 1437.1V1444.9M1213.5 1438.4V1449.4M1214.5 1439.2V1447.2M1215.5 1439.5V1447.5M1216.5 1439.7V1452.0M1217.5 1445.6V1454.0M1218.5 1447.0V1455.9M1219.5 1445.5V1450.7M1220.5 1443.2V1450.5M1221.5 1441.0V1447.6M1222.5 1438.0V1446.5M1223.5 1432.1V1441.7M1224.5 1436.7V1448.7M1225.5 1441.6V1449.8M1226.5 1421.6V1445.7M1227.5 1423.1V1437.9M1228.5 1434.5V1444.1M1229.5 1437.0V1444.6M1230.5 1440.9V1448.1M1231.5 1440.5V1453.1M1232.5 1440.1V1446.7M1233.5 1439.0V1448.2M1234.5 1435.5V1448.8M1235.5 1435.5V1443.2M1236.5 1438.1V1448.3M1237.5 1439.5V1445.3M1238.5 1439.8V1453.4M1239.5 1446.8V1453.6M1240.5 1442.6V1453.2M1241.5 1441.5V1448.1M1242.5 1442.0V1450.4M1243.5 1439.2V1448.0M1244.5 1441.3V1447.5M1245.5 1442.2V1449.0M1246.5 1445.6V1454.5M1247.5 1446.2V1453.1M1248.5 1444.0V1453.1M1249.5 1442.9V1451.5M1250.5 1445.0V1452.3M1251.5 1448.2V1456.9M1252.5 1441.6V1452.2M1253.5 1436.5V1446.0M1254.5 1436.0V1447.8M1255.5 1438.3V1448.2M1256.5 1439.0V1449.0M1257.5 1442.5V1448.5M1258.5 1442.6V1450.7M1259.5 1444.5V1455.7M1260.5 1441.0V1450.0M1261.5 1438.0V1449.5M1262.5 1418.2V1438.0M1263.5 1422.7V1439.3M1264.5 1431.6V1439.3M1265.5 1432.0V1441.1M1266.5 1434.8V1443.3M1267.5 1436.6V1445.6M1268.5 1432.2V1444.4M1269.5 1426.1V1444.3M1270.5 1375.1V1426.1M1271.5 1390.6V1406.3M1272.5 1399.8V1415.3M1273.5 1412.3V1421.6M1274.5 1414.3V1426.6M1275.5 1419.6V1433.3M1276.5 1430.5V1441.2M1277.5 1431.3V1441.5M1278.5 1431.8V1441.7M1279.5 1438.8V1447.4M1280.5 1435.3V1447.4M1281.5 1433.3V1439.8M1282.5 1436.2V1447.4M1283.5 1440.4V1448.0M1284.5 1437.3V1445.9M1285.5 1432.7V1442.2M1286.5 1437.1V1444.9M1287.5 1440.5V1446.0M1288.5 1439.6V1447.4M1289.5 1433.6V1446.1M1290.5 1433.6V1445.6M1291.5 1436.4V1442.8M1292.5 1438.4V1443.1M1293.5 1432.5V1442.8M1294.5 1433.5V1441.4M1295.5 1438.0V1444.2M1296.5 1439.8V1448.3M1297.5 1439.4V1447.8M1298.5 1444.7V1449.8M1299.5 1439.5V1450.5M1300.5 1438.8V1446.2M1301.5 1437.0V1445.5M1302.5 1433.2V1442.2M1303.5 1433.7V1447.7M1304.5 1441.8V1451.9M1305.5 1436.9V1450.0M1306.5 1436.9V1448.4M1307.5 1438.0V1448.5M1308.5 1439.8V1446.6M1309.5 1440.4V1449.5M1310.5 1441.2V1448.1M1311.5 1436.4V1445.6M1312.5 1436.8V1443.9M1313.5 1437.6V1445.3M1314.5 1442.1V1449.3M1315.5 1439.6V1451.7M1316.5 1442.8V1451.7M1317.5 1443.1V1449.5M1318.5 1444.8V1456.1M1319.5 1448.0V1459.8M1320.5 1442.6V1457.1M1321.5 1440.6V1448.2M1322.5 1441.6V1449.7M1323.5 1442.1V1450.9M1324.5 1446.0V1456.2M1325.5 1445.7V1455.9M1326.5 1439.0V1452.9M1327.5 1437.4V1447.2M1328.5 1442.0V1453.9M1329.5 1415.1V1452.4M1330.5 1422.3V1432.9M1331.5 1424.0V1437.8M1332.5 1432.4V1440.2M1333.5 1435.9V1447.1M1334.5 1444.0V1452.0M1335.5 1439.8V1447.9M1336.5 1444.0V1451.7M1337.5 1444.1V1453.7M1338.5 1442.8V1453.8M1339.5 1445.0V1456.6M1340.5 1441.1V1450.9M1341.5 1443.2V1448.8M1342.5 1442.2V1452.4M1343.5 1424.4V1452.4M1344.5 1371.2V1424.4M1345.5 1390.9V1402.2M1346.5 1401.3V1413.6M1347.5 1410.0V1421.5M1348.5 1419.7V1428.0M1349.5 1419.7V1429.0M1350.5 1423.7V1441.9M1351.5 1436.6V1444.2M1352.5 1439.7V1446.9M1353.5 1442.0V1449.7M1354.5 1442.0V1449.7M1355.5 1440.6V1449.7M1356.5 1441.4V1448.9M1357.5 1440.1V1451.8M1358.5 1443.0V1452.3M1359.5 1442.7V1450.4M1360.5 1440.1V1448.3M1361.5 1442.0V1450.3M1362.5 1445.3V1454.0M1363.5 1441.0V1450.0M1364.5 1445.7V1452.2M1365.5 1436.8V1451.6M1366.5 1439.7V1449.4M1367.5 1445.9V1453.7M1368.5 1446.8V1455.4M1369.5 1443.0V1452.7M1370.5 1416.5V1445.6M1371.5 1422.9V1434.4M1372.5 1427.9V1435.8M1373.5 1432.8V1441.2M1374.5 1434.8V1444.7M1375.5 1436.4V1448.4M1376.5 1440.0V1448.3M1377.5 1439.2V1450.0M1378.5 1440.0V1448.9M1379.5 1439.1V1452.9M1380.5 1437.6V1444.4M1381.5 1437.0V1447.5M1382.5 1439.3V1447.5M1383.5 1436.8V1446.7M1384.5 1436.5V1447.6M1385.5 1441.3V1452.6M1386.5 1439.3V1447.7M1387.5 1436.1V1444.2M1388.5 1441.0V1453.0M1389.5 1441.8V1453.4M1390.5 1439.9V1449.0M1391.5 1442.3V1451.2M1392.5 1437.1V1450.1M1393.5 1440.6V1450.5M1394.5 1428.5V1442.4M1395.5 1430.3V1444.0M1396.5 1442.5V1451.6M1397.5 1440.0V1448.3M1398.5 1443.1V1452.2M1399.5 1445.2V1454.3M1400.5 1444.6V1452.9M1401.5 1439.4V1448.5M1402.5 1441.5V1451.7M1403.5 1439.7V1445.6M1404.5 1438.7V1449.1M1405.5 1434.2V1442.9M1406.5 1434.2V1440.4M1407.5 1433.9V1440.8M1408.5 1437.3V1446.0M1409.5 1439.3V1448.3M1410.5 1441.2V1448.1M1411.5 1441.8V1449.1M1412.5 1427.6V1445.2M1413.5 1432.5V1442.0M1414.5 1430.3V1439.8M1415.5 1434.2V1443.1M1416.5 1431.8V1441.8M1417.5 1436.0V1444.1M1418.5 1439.2V1447.0M1419.5 1439.7V1449.0M1420.5 1436.9V1445.0M1421.5 1437.4V1446.7M1422.5 1440.2V1451.2M1423.5 1438.5V1449.4M1424.5 1435.3V1444.6M1425.5 1432.5V1442.9M1426.5 1432.0V1442.9M1427.5 1440.7V1450.5M1428.5 1442.6V1451.3M1429.5 1443.8V1450.7M1430.5 1442.8V1449.6M1431.5 1440.2V1448.1M1432.5 1434.7V1449.1M1433.5 1434.7V1445.0M1434.5 1431.5V1444.9M1435.5 1439.4V1448.6M1436.5 1437.0V1445.1" fill="none" stroke="#000" stroke-width="1"/>
<clipPath id="c1"><rect x="115.5" y="432" width="349.7" height="267.4"/></clipPath>
<g clip-path="url(#c1)">
<polyline points="127,664.67 138.62,613.76 150.25,587 161.88,565.97 173.5,552.1 185.12,541.59 196.75,532.98 208.38,525.34 220,517.45 231.62,512.19 243.25,507.65 254.88,504.3 266.5,500.48 278.12,498.09 289.75,495.94 301.38,493.79 313,491.88 324.62,490.44 336.25,488.77 347.88,487.57 359.5,486.38 371.12,485.18 382.75,483.99 394.38,482.55 406,482.08" fill="none" stroke="#55a0fc" stroke-width="2.8" stroke-linejoin="round"/>
<rect x="120.8" y="658.47" width="12.4" height="12.4" fill="#55a0fc"/>
<rect x="132.43" y="607.56" width="12.4" height="12.4" fill="#55a0fc"/>
<rect x="144.05" y="580.8" width="12.4" height="12.4" fill="#55a0fc"/>
<rect x="155.68" y="559.76" width="12.4" height="12.4" fill="#55a0fc"/>
<rect x="167.3" y="545.9" width="12.4" height="12.4" fill="#55a0fc"/>
<rect x="178.93" y="535.39" width="12.4" height="12.4" fill="#55a0fc"/>
<rect x="190.55" y="526.78" width="12.4" height="12.4" fill="#55a0fc"/>
<rect x="202.18" y="519.13" width="12.4" height="12.4" fill="#55a0fc"/>
<rect x="213.8" y="511.25" width="12.4" height="12.4" fill="#55a0fc"/>
<rect x="225.43" y="505.99" width="12.4" height="12.4" fill="#55a0fc"/>
<rect x="237.05" y="501.45" width="12.4" height="12.4" fill="#55a0fc"/>
<rect x="248.68" y="498.1" width="12.4" height="12.4" fill="#55a0fc"/>
<rect x="260.3" y="494.28" width="12.4" height="12.4" fill="#55a0fc"/>
<rect x="271.93" y="491.89" width="12.4" height="12.4" fill="#55a0fc"/>
<rect x="283.55" y="489.74" width="12.4" height="12.4" fill="#55a0fc"/>
<rect x="295.18" y="487.59" width="12.4" height="12.4" fill="#55a0fc"/>
<rect x="306.8" y="485.68" width="12.4" height="12.4" fill="#55a0fc"/>
<rect x="318.43" y="484.24" width="12.4" height="12.4" fill="#55a0fc"/>
<rect x="330.05" y="482.57" width="12.4" height="12.4" fill="#55a0fc"/>
<rect x="341.68" y="481.37" width="12.4" height="12.4" fill="#55a0fc"/>
<rect x="353.3" y="480.18" width="12.4" height="12.4" fill="#55a0fc"/>
<rect x="364.93" y="478.98" width="12.4" height="12.4" fill="#55a0fc"/>
<rect x="376.55" y="477.79" width="12.4" height="12.4" fill="#55a0fc"/>
<rect x="388.18" y="476.35" width="12.4" height="12.4" fill="#55a0fc"/>
<rect x="399.8" y="475.88" width="12.4" height="12.4" fill="#55a0fc"/>
<polyline points="127,648.66 138.62,596.08 150.25,577.68 161.88,567.4 173.5,558.32 185.12,551.39 196.75,545.17 208.38,539.2 220,533.94 231.62,529.88 243.25,524.38 254.88,521.27 266.5,518.4 278.12,515.06 289.75,511.23 301.38,509.08 313,506.69 324.62,504.54 336.25,503.11 347.88,501.2 359.5,500 371.12,498.33 382.75,497.37 394.38,495.94 406,494.26" fill="none" stroke="#808080" stroke-width="2.8" stroke-linejoin="round"/>
<circle cx="127" cy="648.66" r="6.3" fill="#808080" stroke="none" stroke-width="0"/>
<circle cx="138.62" cy="596.08" r="6.3" fill="#808080" stroke="none" stroke-width="0"/>
<circle cx="150.25" cy="577.68" r="6.3" fill="#808080" stroke="none" stroke-width="0"/>
<circle cx="161.88" cy="567.4" r="6.3" fill="#808080" stroke="none" stroke-width="0"/>
<circle cx="173.5" cy="558.32" r="6.3" fill="#808080" stroke="none" stroke-width="0"/>
<circle cx="185.12" cy="551.39" r="6.3" fill="#808080" stroke="none" stroke-width="0"/>
<circle cx="196.75" cy="545.17" r="6.3" fill="#808080" stroke="none" stroke-width="0"/>
<circle cx="208.38" cy="539.2" r="6.3" fill="#808080" stroke="none" stroke-width="0"/>
<circle cx="220" cy="533.94" r="6.3" fill="#808080" stroke="none" stroke-width="0"/>
<circle cx="231.62" cy="529.88" r="6.3" fill="#808080" stroke="none" stroke-width="0"/>
<circle cx="243.25" cy="524.38" r="6.3" fill="#808080" stroke="none" stroke-width="0"/>
<circle cx="254.88" cy="521.27" r="6.3" fill="#808080" stroke="none" stroke-width="0"/>
<circle cx="266.5" cy="518.4" r="6.3" fill="#808080" stroke="none" stroke-width="0"/>
<circle cx="278.12" cy="515.06" r="6.3" fill="#808080" stroke="none" stroke-width="0"/>
<circle cx="289.75" cy="511.23" r="6.3" fill="#808080" stroke="none" stroke-width="0"/>
<circle cx="301.38" cy="509.08" r="6.3" fill="#808080" stroke="none" stroke-width="0"/>
<circle cx="313" cy="506.69" r="6.3" fill="#808080" stroke="none" stroke-width="0"/>
<circle cx="324.62" cy="504.54" r="6.3" fill="#808080" stroke="none" stroke-width="0"/>
<circle cx="336.25" cy="503.11" r="6.3" fill="#808080" stroke="none" stroke-width="0"/>
<circle cx="347.88" cy="501.2" r="6.3" fill="#808080" stroke="none" stroke-width="0"/>
<circle cx="359.5" cy="500" r="6.3" fill="#808080" stroke="none" stroke-width="0"/>
<circle cx="371.12" cy="498.33" r="6.3" fill="#808080" stroke="none" stroke-width="0"/>
<circle cx="382.75" cy="497.37" r="6.3" fill="#808080" stroke="none" stroke-width="0"/>
<circle cx="394.38" cy="495.94" r="6.3" fill="#808080" stroke="none" stroke-width="0"/>
<circle cx="406" cy="494.26" r="6.3" fill="#808080" stroke="none" stroke-width="0"/>
</g>
<line x1="115.5" y1="460.4" x2="115.5" y2="702.6" stroke="#000" stroke-width="3.2" stroke-linecap="butt"/>
<line x1="104.8" y1="701" x2="445.2" y2="701" stroke="#000" stroke-width="3.2" stroke-linecap="butt"/>
<line x1="104.5" y1="701" x2="115.5" y2="701" stroke="#000" stroke-width="3.2" stroke-linecap="butt"/>
<text transform="translate(93.4,707.6) scale(1.02,1)" font-size="23" text-anchor="end" fill="#000">0.0</text>
<line x1="104.5" y1="653.2" x2="115.5" y2="653.2" stroke="#000" stroke-width="3.2" stroke-linecap="butt"/>
<text transform="translate(93.4,659.8) scale(1.02,1)" font-size="23" text-anchor="end" fill="#000">0.2</text>
<line x1="104.5" y1="605.4" x2="115.5" y2="605.4" stroke="#000" stroke-width="3.2" stroke-linecap="butt"/>
<text transform="translate(93.4,612) scale(1.02,1)" font-size="23" text-anchor="end" fill="#000">0.4</text>
<line x1="104.5" y1="557.6" x2="115.5" y2="557.6" stroke="#000" stroke-width="3.2" stroke-linecap="butt"/>
<text transform="translate(93.4,564.2) scale(1.02,1)" font-size="23" text-anchor="end" fill="#000">0.6</text>
<line x1="104.5" y1="509.8" x2="115.5" y2="509.8" stroke="#000" stroke-width="3.2" stroke-linecap="butt"/>
<text transform="translate(93.4,516.4) scale(1.02,1)" font-size="23" text-anchor="end" fill="#000">0.8</text>
<line x1="104.5" y1="462" x2="115.5" y2="462" stroke="#000" stroke-width="3.2" stroke-linecap="butt"/>
<text transform="translate(93.4,468.6) scale(1.02,1)" font-size="23" text-anchor="end" fill="#000">1.0</text>
<line x1="127" y1="701" x2="127" y2="712" stroke="#000" stroke-width="3.2" stroke-linecap="butt"/>
<text transform="translate(125.6,739.5) scale(1.02,1)" font-size="23" text-anchor="middle" fill="#000">0</text>
<line x1="196.75" y1="701" x2="196.75" y2="712" stroke="#000" stroke-width="3.2" stroke-linecap="butt"/>
<text transform="translate(198.4,739.5) scale(1.02,1)" font-size="23" text-anchor="middle" fill="#000">300</text>
<line x1="266.5" y1="701" x2="266.5" y2="712" stroke="#000" stroke-width="3.2" stroke-linecap="butt"/>
<text transform="translate(267.4,739.5) scale(1.02,1)" font-size="23" text-anchor="middle" fill="#000">600</text>
<line x1="336.25" y1="701" x2="336.25" y2="712" stroke="#000" stroke-width="3.2" stroke-linecap="butt"/>
<text transform="translate(337.4,739.5) scale(1.02,1)" font-size="23" text-anchor="middle" fill="#000">900</text>
<line x1="406" y1="701" x2="406" y2="712" stroke="#000" stroke-width="3.2" stroke-linecap="butt"/>
<text transform="translate(409.5,739.5) scale(1.02,1)" font-size="23" text-anchor="middle" fill="#000">1200</text>
<text transform="translate(126.7,454.8) scale(1.02,1)" font-size="29" fill="#000">mEPSC</text>
<text transform="translate(273,769.7)" font-size="23.6" text-anchor="middle" fill="#000">Inter-event interval(ms)</text>
<text transform="translate(46.5,594) rotate(-90)" font-size="23.2" text-anchor="middle" fill="#000">Cumulative frequency</text>
<clipPath id="c2"><rect x="115.6" y="805" width="345.2" height="268.9"/></clipPath>
<g clip-path="url(#c2)">
<polyline points="115,1075.5 132.99,1075.5 150.99,988.68 168.98,929.52 186.97,891.76 204.97,870.11 222.96,859.77 240.96,852.32 258.95,847.51 276.94,843.66 294.94,841.49 312.93,840.53 330.92,840.05 348.92,839.81 366.91,839.57 384.91,839.57 402.9,839.09" fill="none" stroke="#55a0fc" stroke-width="2.8" stroke-linejoin="round"/>
<rect x="108.8" y="1069.3" width="12.4" height="12.4" fill="#55a0fc"/>
<rect x="126.79" y="1069.3" width="12.4" height="12.4" fill="#55a0fc"/>
<rect x="144.79" y="982.48" width="12.4" height="12.4" fill="#55a0fc"/>
<rect x="162.78" y="923.32" width="12.4" height="12.4" fill="#55a0fc"/>
<rect x="180.78" y="885.56" width="12.4" height="12.4" fill="#55a0fc"/>
<rect x="198.77" y="863.91" width="12.4" height="12.4" fill="#55a0fc"/>
<rect x="216.76" y="853.57" width="12.4" height="12.4" fill="#55a0fc"/>
<rect x="234.76" y="846.12" width="12.4" height="12.4" fill="#55a0fc"/>
<rect x="252.75" y="841.31" width="12.4" height="12.4" fill="#55a0fc"/>
<rect x="270.74" y="837.46" width="12.4" height="12.4" fill="#55a0fc"/>
<rect x="288.74" y="835.29" width="12.4" height="12.4" fill="#55a0fc"/>
<rect x="306.73" y="834.33" width="12.4" height="12.4" fill="#55a0fc"/>
<rect x="324.72" y="833.85" width="12.4" height="12.4" fill="#55a0fc"/>
<rect x="342.72" y="833.61" width="12.4" height="12.4" fill="#55a0fc"/>
<rect x="360.71" y="833.37" width="12.4" height="12.4" fill="#55a0fc"/>
<rect x="378.71" y="833.37" width="12.4" height="12.4" fill="#55a0fc"/>
<rect x="396.7" y="832.89" width="12.4" height="12.4" fill="#55a0fc"/>
<polyline points="115,1075.5 132.99,1075.5 150.99,970.64 168.98,908.83 186.97,876.13 204.97,859.77 222.96,852.08 240.96,848.23 258.95,845.34 276.94,843.18 294.94,841.49 312.93,840.53 330.92,840.05 348.92,839.81 366.91,839.57 384.91,839.57 402.9,839.09" fill="none" stroke="#808080" stroke-width="2.8" stroke-linejoin="round"/>
<circle cx="115" cy="1075.5" r="6.3" fill="#808080" stroke="none" stroke-width="0"/>
<circle cx="132.99" cy="1075.5" r="6.3" fill="#808080" stroke="none" stroke-width="0"/>
<circle cx="150.99" cy="970.64" r="6.3" fill="#808080" stroke="none" stroke-width="0"/>
<circle cx="168.98" cy="908.83" r="6.3" fill="#808080" stroke="none" stroke-width="0"/>
<circle cx="186.97" cy="876.13" r="6.3" fill="#808080" stroke="none" stroke-width="0"/>
<circle cx="204.97" cy="859.77" r="6.3" fill="#808080" stroke="none" stroke-width="0"/>
<circle cx="222.96" cy="852.08" r="6.3" fill="#808080" stroke="none" stroke-width="0"/>
<circle cx="240.96" cy="848.23" r="6.3" fill="#808080" stroke="none" stroke-width="0"/>
<circle cx="258.95" cy="845.34" r="6.3" fill="#808080" stroke="none" stroke-width="0"/>
<circle cx="276.94" cy="843.18" r="6.3" fill="#808080" stroke="none" stroke-width="0"/>
<circle cx="294.94" cy="841.49" r="6.3" fill="#808080" stroke="none" stroke-width="0"/>
<circle cx="312.93" cy="840.53" r="6.3" fill="#808080" stroke="none" stroke-width="0"/>
<circle cx="330.92" cy="840.05" r="6.3" fill="#808080" stroke="none" stroke-width="0"/>
<circle cx="348.92" cy="839.81" r="6.3" fill="#808080" stroke="none" stroke-width="0"/>
<circle cx="366.91" cy="839.57" r="6.3" fill="#808080" stroke="none" stroke-width="0"/>
<circle cx="384.91" cy="839.57" r="6.3" fill="#808080" stroke="none" stroke-width="0"/>
<circle cx="402.9" cy="839.09" r="6.3" fill="#808080" stroke="none" stroke-width="0"/>
</g>
<line x1="115.6" y1="833.4" x2="115.6" y2="1077.1" stroke="#000" stroke-width="3.2" stroke-linecap="butt"/>
<line x1="104.8" y1="1075.5" x2="440.8" y2="1075.5" stroke="#000" stroke-width="3.2" stroke-linecap="butt"/>
<line x1="104.6" y1="1075.5" x2="115.6" y2="1075.5" stroke="#000" stroke-width="3.2" stroke-linecap="butt"/>
<text transform="translate(98.4,1083) scale(1.02,1)" font-size="23" text-anchor="end" fill="#000">0.0</text>
<line x1="104.6" y1="1027.4" x2="115.6" y2="1027.4" stroke="#000" stroke-width="3.2" stroke-linecap="butt"/>
<text transform="translate(98.4,1034.9) scale(1.02,1)" font-size="23" text-anchor="end" fill="#000">0.2</text>
<line x1="104.6" y1="979.3" x2="115.6" y2="979.3" stroke="#000" stroke-width="3.2" stroke-linecap="butt"/>
<text transform="translate(98.4,986.8) scale(1.02,1)" font-size="23" text-anchor="end" fill="#000">0.4</text>
<line x1="104.6" y1="931.2" x2="115.6" y2="931.2" stroke="#000" stroke-width="3.2" stroke-linecap="butt"/>
<text transform="translate(98.4,938.7) scale(1.02,1)" font-size="23" text-anchor="end" fill="#000">0.6</text>
<line x1="104.6" y1="883.1" x2="115.6" y2="883.1" stroke="#000" stroke-width="3.2" stroke-linecap="butt"/>
<text transform="translate(98.4,890.6) scale(1.02,1)" font-size="23" text-anchor="end" fill="#000">0.8</text>
<line x1="104.6" y1="835" x2="115.6" y2="835" stroke="#000" stroke-width="3.2" stroke-linecap="butt"/>
<text transform="translate(98.4,842.5) scale(1.02,1)" font-size="23" text-anchor="end" fill="#000">1.0</text>
<line x1="115" y1="1075.5" x2="115" y2="1086.5" stroke="#000" stroke-width="3.2" stroke-linecap="butt"/>
<text transform="translate(116.6,1108) scale(1.02,1)" font-size="23" text-anchor="middle" fill="#000">0</text>
<line x1="186.97" y1="1075.5" x2="186.97" y2="1086.5" stroke="#000" stroke-width="3.2" stroke-linecap="butt"/>
<text transform="translate(190.1,1108) scale(1.02,1)" font-size="23" text-anchor="middle" fill="#000">20</text>
<line x1="258.95" y1="1075.5" x2="258.95" y2="1086.5" stroke="#000" stroke-width="3.2" stroke-linecap="butt"/>
<text transform="translate(261.3,1108) scale(1.02,1)" font-size="23" text-anchor="middle" fill="#000">40</text>
<line x1="330.92" y1="1075.5" x2="330.92" y2="1086.5" stroke="#000" stroke-width="3.2" stroke-linecap="butt"/>
<text transform="translate(333.9,1108) scale(1.02,1)" font-size="23" text-anchor="middle" fill="#000">60</text>
<line x1="402.9" y1="1075.5" x2="402.9" y2="1086.5" stroke="#000" stroke-width="3.2" stroke-linecap="butt"/>
<text transform="translate(405.3,1108) scale(1.02,1)" font-size="23" text-anchor="middle" fill="#000">80</text>
<text transform="translate(122.1,827.6) scale(1.02,1)" font-size="29" fill="#000">mEPSC</text>
<text transform="translate(269.2,1138.6)" font-size="23.6" text-anchor="middle" fill="#000">Amplitude (pA)</text>
<text transform="translate(55,944.4) rotate(-90)" font-size="23.4" text-anchor="middle" fill="#000">Cumulative frequency</text>
<line x1="333.6" y1="892.8" x2="361.6" y2="892.8" stroke="#808080" stroke-width="2.4" stroke-linecap="butt"/>
<circle cx="347.6" cy="892.8" r="6" fill="#808080" stroke="none" stroke-width="0"/>
<text transform="translate(375,899.6) scale(1.04,1)" font-size="23" fill="#000">ND</text>
<line x1="333.6" y1="925.4" x2="361.6" y2="925.4" stroke="#55a0fc" stroke-width="2.4" stroke-linecap="butt"/>
<rect x="341.6" y="919.4" width="12" height="12" fill="#55a0fc"/>
<text transform="translate(375,931.6) scale(1.04,1)" font-size="23" fill="#000">HFD</text>
<clipPath id="c3"><rect x="858.25" y="411.9" width="361.55" height="278.5"/></clipPath>
<g clip-path="url(#c3)">
<polyline points="865.5,676.74 880.14,654.74 894.79,641.98 909.44,631.73 924.08,622.47 938.73,616.22 953.37,609.97 968.01,604.47 982.66,600.46 997.31,596.21 1011.95,591.96 1026.6,587.71 1041.24,584.46 1055.88,580.96 1070.53,578.2 1085.18,574.2 1099.82,573.2 1114.47,569.95 1129.11,566.95 1143.76,564.2 1158.4,561.45" fill="none" stroke="#55a0fc" stroke-width="2.8" stroke-linejoin="round"/>
<rect x="859.1" y="670.34" width="12.8" height="12.8" fill="#55a0fc"/>
<rect x="873.75" y="648.34" width="12.8" height="12.8" fill="#55a0fc"/>
<rect x="888.39" y="635.58" width="12.8" height="12.8" fill="#55a0fc"/>
<rect x="903.04" y="625.33" width="12.8" height="12.8" fill="#55a0fc"/>
<rect x="917.68" y="616.07" width="12.8" height="12.8" fill="#55a0fc"/>
<rect x="932.33" y="609.82" width="12.8" height="12.8" fill="#55a0fc"/>
<rect x="946.97" y="603.57" width="12.8" height="12.8" fill="#55a0fc"/>
<rect x="961.62" y="598.07" width="12.8" height="12.8" fill="#55a0fc"/>
<rect x="976.26" y="594.06" width="12.8" height="12.8" fill="#55a0fc"/>
<rect x="990.91" y="589.81" width="12.8" height="12.8" fill="#55a0fc"/>
<rect x="1005.55" y="585.56" width="12.8" height="12.8" fill="#55a0fc"/>
<rect x="1020.2" y="581.31" width="12.8" height="12.8" fill="#55a0fc"/>
<rect x="1034.84" y="578.06" width="12.8" height="12.8" fill="#55a0fc"/>
<rect x="1049.48" y="574.56" width="12.8" height="12.8" fill="#55a0fc"/>
<rect x="1064.13" y="571.8" width="12.8" height="12.8" fill="#55a0fc"/>
<rect x="1078.78" y="567.8" width="12.8" height="12.8" fill="#55a0fc"/>
<rect x="1093.42" y="566.8" width="12.8" height="12.8" fill="#55a0fc"/>
<rect x="1108.07" y="563.55" width="12.8" height="12.8" fill="#55a0fc"/>
<rect x="1122.71" y="560.55" width="12.8" height="12.8" fill="#55a0fc"/>
<rect x="1137.36" y="557.8" width="12.8" height="12.8" fill="#55a0fc"/>
<rect x="1152" y="555.05" width="12.8" height="12.8" fill="#55a0fc"/>
<polyline points="865.5,667.24 880.14,633.23 894.79,609.97 909.44,590.96 924.08,574.95 938.73,561.95 953.37,552.19 968.01,543.44 982.66,535.94 997.31,529.69 1011.95,524.68 1026.6,520.68 1041.24,516.18 1055.88,512.93 1070.53,509.43 1085.18,506.43 1099.82,503.92 1114.47,500.92 1129.11,498.67 1143.76,496.17 1158.4,494.42" fill="none" stroke="#808080" stroke-width="2.8" stroke-linejoin="round"/>
<circle cx="865.5" cy="667.24" r="6.4" fill="#808080" stroke="none" stroke-width="0"/>
<circle cx="880.14" cy="633.23" r="6.4" fill="#808080" stroke="none" stroke-width="0"/>
<circle cx="894.79" cy="609.97" r="6.4" fill="#808080" stroke="none" stroke-width="0"/>
<circle cx="909.44" cy="590.96" r="6.4" fill="#808080" stroke="none" stroke-width="0"/>
<circle cx="924.08" cy="574.95" r="6.4" fill="#808080" stroke="none" stroke-width="0"/>
<circle cx="938.73" cy="561.95" r="6.4" fill="#808080" stroke="none" stroke-width="0"/>
<circle cx="953.37" cy="552.19" r="6.4" fill="#808080" stroke="none" stroke-width="0"/>
<circle cx="968.01" cy="543.44" r="6.4" fill="#808080" stroke="none" stroke-width="0"/>
<circle cx="982.66" cy="535.94" r="6.4" fill="#808080" stroke="none" stroke-width="0"/>
<circle cx="997.31" cy="529.69" r="6.4" fill="#808080" stroke="none" stroke-width="0"/>
<circle cx="1011.95" cy="524.68" r="6.4" fill="#808080" stroke="none" stroke-width="0"/>
<circle cx="1026.6" cy="520.68" r="6.4" fill="#808080" stroke="none" stroke-width="0"/>
<circle cx="1041.24" cy="516.18" r="6.4" fill="#808080" stroke="none" stroke-width="0"/>
<circle cx="1055.88" cy="512.93" r="6.4" fill="#808080" stroke="none" stroke-width="0"/>
<circle cx="1070.53" cy="509.43" r="6.4" fill="#808080" stroke="none" stroke-width="0"/>
<circle cx="1085.18" cy="506.43" r="6.4" fill="#808080" stroke="none" stroke-width="0"/>
<circle cx="1099.82" cy="503.92" r="6.4" fill="#808080" stroke="none" stroke-width="0"/>
<circle cx="1114.47" cy="500.92" r="6.4" fill="#808080" stroke="none" stroke-width="0"/>
<circle cx="1129.11" cy="498.67" r="6.4" fill="#808080" stroke="none" stroke-width="0"/>
<circle cx="1143.76" cy="496.17" r="6.4" fill="#808080" stroke="none" stroke-width="0"/>
<circle cx="1158.4" cy="494.42" r="6.4" fill="#808080" stroke="none" stroke-width="0"/>
</g>
<line x1="858.25" y1="440.3" x2="858.25" y2="693.6" stroke="#000" stroke-width="3.2" stroke-linecap="butt"/>
<line x1="847.1" y1="692" x2="1199.8" y2="692" stroke="#000" stroke-width="3.2" stroke-linecap="butt"/>
<line x1="847.25" y1="692" x2="858.25" y2="692" stroke="#000" stroke-width="3.2" stroke-linecap="butt"/>
<text transform="translate(840.3,700.1) scale(1.02,1)" font-size="23" text-anchor="end" fill="#000">0.0</text>
<line x1="847.25" y1="641.98" x2="858.25" y2="641.98" stroke="#000" stroke-width="3.2" stroke-linecap="butt"/>
<text transform="translate(840.3,650.08) scale(1.02,1)" font-size="23" text-anchor="end" fill="#000">0.2</text>
<line x1="847.25" y1="591.96" x2="858.25" y2="591.96" stroke="#000" stroke-width="3.2" stroke-linecap="butt"/>
<text transform="translate(840.3,600.06) scale(1.02,1)" font-size="23" text-anchor="end" fill="#000">0.4</text>
<line x1="847.25" y1="541.94" x2="858.25" y2="541.94" stroke="#000" stroke-width="3.2" stroke-linecap="butt"/>
<text transform="translate(840.3,550.04) scale(1.02,1)" font-size="23" text-anchor="end" fill="#000">0.6</text>
<line x1="847.25" y1="491.92" x2="858.25" y2="491.92" stroke="#000" stroke-width="3.2" stroke-linecap="butt"/>
<text transform="translate(840.3,500.02) scale(1.02,1)" font-size="23" text-anchor="end" fill="#000">0.8</text>
<line x1="847.25" y1="441.9" x2="858.25" y2="441.9" stroke="#000" stroke-width="3.2" stroke-linecap="butt"/>
<text transform="translate(840.3,450) scale(1.02,1)" font-size="23" text-anchor="end" fill="#000">1.0</text>
<line x1="865.5" y1="692" x2="865.5" y2="703" stroke="#000" stroke-width="3.2" stroke-linecap="butt"/>
<text transform="translate(866.8,725.4) scale(1.02,1)" font-size="23" text-anchor="middle" fill="#000">0</text>
<line x1="938.73" y1="692" x2="938.73" y2="703" stroke="#000" stroke-width="3.2" stroke-linecap="butt"/>
<text transform="translate(942.7,725.4) scale(1.02,1)" font-size="23" text-anchor="middle" fill="#000">500</text>
<line x1="1011.95" y1="692" x2="1011.95" y2="703" stroke="#000" stroke-width="3.2" stroke-linecap="butt"/>
<text transform="translate(1018,725.4) scale(1.02,1)" font-size="23" text-anchor="middle" fill="#000">1000</text>
<line x1="1085.18" y1="692" x2="1085.18" y2="703" stroke="#000" stroke-width="3.2" stroke-linecap="butt"/>
<text transform="translate(1091.1,725.4) scale(1.02,1)" font-size="23" text-anchor="middle" fill="#000">1500</text>
<line x1="1158.4" y1="692" x2="1158.4" y2="703" stroke="#000" stroke-width="3.2" stroke-linecap="butt"/>
<text transform="translate(1163.2,725.4) scale(1.02,1)" font-size="23" text-anchor="middle" fill="#000">2000</text>
<text transform="translate(873.4,442.7) scale(1.02,1)" font-size="29" fill="#000">mIPSC</text>
<text transform="translate(1032.3,756.5)" font-size="23.6" text-anchor="middle" fill="#000">Inter-event interval(ms)</text>
<text transform="translate(796.25,559.6) rotate(-90)" font-size="23.3" text-anchor="middle" fill="#000">Cumulative frequency</text>
<clipPath id="c4"><rect x="858.4" y="793.75" width="356.3" height="276.15"/></clipPath>
<g clip-path="url(#c4)">
<polyline points="858.4,1070.51 876.87,1070.51 895.34,1069.77 913.81,1064.32 932.27,1045.73 950.74,1014.27 969.21,987.26 987.68,954.81 1006.15,939.45 1024.62,920.12 1043.09,907.99 1061.56,897.33 1080.03,889.9 1098.49,882.22 1116.96,875.03 1135.43,871.07 1153.9,865.12" fill="none" stroke="#55a0fc" stroke-width="2.8" stroke-linejoin="round"/>
<rect x="852.2" y="1064.31" width="12.4" height="12.4" fill="#55a0fc"/>
<rect x="870.67" y="1064.31" width="12.4" height="12.4" fill="#55a0fc"/>
<rect x="889.14" y="1063.57" width="12.4" height="12.4" fill="#55a0fc"/>
<rect x="907.61" y="1058.12" width="12.4" height="12.4" fill="#55a0fc"/>
<rect x="926.07" y="1039.53" width="12.4" height="12.4" fill="#55a0fc"/>
<rect x="944.54" y="1008.07" width="12.4" height="12.4" fill="#55a0fc"/>
<rect x="963.01" y="981.06" width="12.4" height="12.4" fill="#55a0fc"/>
<rect x="981.48" y="948.61" width="12.4" height="12.4" fill="#55a0fc"/>
<rect x="999.95" y="933.25" width="12.4" height="12.4" fill="#55a0fc"/>
<rect x="1018.42" y="913.92" width="12.4" height="12.4" fill="#55a0fc"/>
<rect x="1036.89" y="901.78" width="12.4" height="12.4" fill="#55a0fc"/>
<rect x="1055.36" y="891.13" width="12.4" height="12.4" fill="#55a0fc"/>
<rect x="1073.83" y="883.7" width="12.4" height="12.4" fill="#55a0fc"/>
<rect x="1092.29" y="876.02" width="12.4" height="12.4" fill="#55a0fc"/>
<rect x="1110.76" y="868.83" width="12.4" height="12.4" fill="#55a0fc"/>
<rect x="1129.23" y="864.87" width="12.4" height="12.4" fill="#55a0fc"/>
<rect x="1147.7" y="858.92" width="12.4" height="12.4" fill="#55a0fc"/>
<polyline points="858.4,1069.77 876.87,1069.77 895.34,1066.55 913.81,1052.67 932.27,1018.73 950.74,981.57 969.21,959.27 987.68,938.46 1006.15,919.63 1024.62,899.81 1043.09,885.94 1061.56,875.28 1080.03,866.61 1098.49,858.68 1116.96,853.48 1135.43,849.27 1153.9,844.56" fill="none" stroke="#808080" stroke-width="2.8" stroke-linejoin="round"/>
<circle cx="858.4" cy="1069.77" r="6.3" fill="#808080" stroke="none" stroke-width="0"/>
<circle cx="876.87" cy="1069.77" r="6.3" fill="#808080" stroke="none" stroke-width="0"/>
<circle cx="895.34" cy="1066.55" r="6.3" fill="#808080" stroke="none" stroke-width="0"/>
<circle cx="913.81" cy="1052.67" r="6.3" fill="#808080" stroke="none" stroke-width="0"/>
<circle cx="932.27" cy="1018.73" r="6.3" fill="#808080" stroke="none" stroke-width="0"/>
<circle cx="950.74" cy="981.57" r="6.3" fill="#808080" stroke="none" stroke-width="0"/>
<circle cx="969.21" cy="959.27" r="6.3" fill="#808080" stroke="none" stroke-width="0"/>
<circle cx="987.68" cy="938.46" r="6.3" fill="#808080" stroke="none" stroke-width="0"/>
<circle cx="1006.15" cy="919.63" r="6.3" fill="#808080" stroke="none" stroke-width="0"/>
<circle cx="1024.62" cy="899.81" r="6.3" fill="#808080" stroke="none" stroke-width="0"/>
<circle cx="1043.09" cy="885.94" r="6.3" fill="#808080" stroke="none" stroke-width="0"/>
<circle cx="1061.56" cy="875.28" r="6.3" fill="#808080" stroke="none" stroke-width="0"/>
<circle cx="1080.03" cy="866.61" r="6.3" fill="#808080" stroke="none" stroke-width="0"/>
<circle cx="1098.49" cy="858.68" r="6.3" fill="#808080" stroke="none" stroke-width="0"/>
<circle cx="1116.96" cy="853.48" r="6.3" fill="#808080" stroke="none" stroke-width="0"/>
<circle cx="1135.43" cy="849.27" r="6.3" fill="#808080" stroke="none" stroke-width="0"/>
<circle cx="1153.9" cy="844.56" r="6.3" fill="#808080" stroke="none" stroke-width="0"/>
</g>
<line x1="858.4" y1="822.15" x2="858.4" y2="1073.1" stroke="#000" stroke-width="3.2" stroke-linecap="butt"/>
<line x1="847.1" y1="1071.5" x2="1194.7" y2="1071.5" stroke="#000" stroke-width="3.2" stroke-linecap="butt"/>
<line x1="847.4" y1="1071.5" x2="858.4" y2="1071.5" stroke="#000" stroke-width="3.2" stroke-linecap="butt"/>
<text transform="translate(840.3,1075.3) scale(1.02,1)" font-size="23" text-anchor="end" fill="#000">0.0</text>
<line x1="847.4" y1="1021.95" x2="858.4" y2="1021.95" stroke="#000" stroke-width="3.2" stroke-linecap="butt"/>
<text transform="translate(840.3,1025.75) scale(1.02,1)" font-size="23" text-anchor="end" fill="#000">0.2</text>
<line x1="847.4" y1="972.4" x2="858.4" y2="972.4" stroke="#000" stroke-width="3.2" stroke-linecap="butt"/>
<text transform="translate(840.3,976.2) scale(1.02,1)" font-size="23" text-anchor="end" fill="#000">0.4</text>
<line x1="847.4" y1="922.85" x2="858.4" y2="922.85" stroke="#000" stroke-width="3.2" stroke-linecap="butt"/>
<text transform="translate(840.3,926.65) scale(1.02,1)" font-size="23" text-anchor="end" fill="#000">0.6</text>
<line x1="847.4" y1="873.3" x2="858.4" y2="873.3" stroke="#000" stroke-width="3.2" stroke-linecap="butt"/>
<text transform="translate(840.3,877.1) scale(1.02,1)" font-size="23" text-anchor="end" fill="#000">0.8</text>
<line x1="847.4" y1="823.75" x2="858.4" y2="823.75" stroke="#000" stroke-width="3.2" stroke-linecap="butt"/>
<text transform="translate(840.3,827.55) scale(1.02,1)" font-size="23" text-anchor="end" fill="#000">1.0</text>
<line x1="858.4" y1="1071.5" x2="858.4" y2="1082.5" stroke="#000" stroke-width="3.2" stroke-linecap="butt"/>
<text transform="translate(859.8,1103.9) scale(1.02,1)" font-size="23" text-anchor="middle" fill="#000">0</text>
<line x1="932.27" y1="1071.5" x2="932.27" y2="1082.5" stroke="#000" stroke-width="3.2" stroke-linecap="butt"/>
<text transform="translate(934.4,1103.9) scale(1.02,1)" font-size="23" text-anchor="middle" fill="#000">20</text>
<line x1="1006.15" y1="1071.5" x2="1006.15" y2="1082.5" stroke="#000" stroke-width="3.2" stroke-linecap="butt"/>
<text transform="translate(1008.7,1103.9) scale(1.02,1)" font-size="23" text-anchor="middle" fill="#000">40</text>
<line x1="1080.03" y1="1071.5" x2="1080.03" y2="1082.5" stroke="#000" stroke-width="3.2" stroke-linecap="butt"/>
<text transform="translate(1082.7,1103.9) scale(1.02,1)" font-size="23" text-anchor="middle" fill="#000">60</text>
<line x1="1153.9" y1="1071.5" x2="1153.9" y2="1082.5" stroke="#000" stroke-width="3.2" stroke-linecap="butt"/>
<text transform="translate(1156.7,1103.9) scale(1.02,1)" font-size="23" text-anchor="middle" fill="#000">80</text>
<text transform="translate(876.4,827.9) scale(1.02,1)" font-size="29" fill="#000">mIPSC</text>
<text transform="translate(1032.6,1136)" font-size="23.6" text-anchor="middle" fill="#000">Amplitude (pA)</text>
<text transform="translate(796.5,935.3) rotate(-90)" font-size="23.3" text-anchor="middle" fill="#000">Cumulative frequency</text>
<clipPath id="c5"><rect x="118.1" y="1566.25" width="345.1" height="268.65"/></clipPath>
<g clip-path="url(#c5)">
<polyline points="129,1756.74 142.9,1665.92 156.8,1635.89 170.7,1621.72 184.6,1614.03 198.5,1610.18 212.4,1607.06 226.3,1604.9 240.2,1603.46 254.1,1602.5 268,1601.78 281.9,1601.3 295.8,1600.81 309.7,1600.57 323.6,1600.57 337.5,1600.33 351.4,1600.33 365.3,1600.09 379.2,1600.09 393.1,1599.85 407,1599.61" fill="none" stroke="#808080" stroke-width="2.8" stroke-linejoin="round"/>
<circle cx="129" cy="1756.74" r="6.3" fill="#808080" stroke="none" stroke-width="0"/>
<circle cx="142.9" cy="1665.92" r="6.3" fill="#808080" stroke="none" stroke-width="0"/>
<circle cx="156.8" cy="1635.89" r="6.3" fill="#808080" stroke="none" stroke-width="0"/>
<circle cx="170.7" cy="1621.72" r="6.3" fill="#808080" stroke="none" stroke-width="0"/>
<circle cx="184.6" cy="1614.03" r="6.3" fill="#808080" stroke="none" stroke-width="0"/>
<circle cx="198.5" cy="1610.18" r="6.3" fill="#808080" stroke="none" stroke-width="0"/>
<circle cx="212.4" cy="1607.06" r="6.3" fill="#808080" stroke="none" stroke-width="0"/>
<circle cx="226.3" cy="1604.9" r="6.3" fill="#808080" stroke="none" stroke-width="0"/>
<circle cx="240.2" cy="1603.46" r="6.3" fill="#808080" stroke="none" stroke-width="0"/>
<circle cx="254.1" cy="1602.5" r="6.3" fill="#808080" stroke="none" stroke-width="0"/>
<circle cx="268" cy="1601.78" r="6.3" fill="#808080" stroke="none" stroke-width="0"/>
<circle cx="281.9" cy="1601.3" r="6.3" fill="#808080" stroke="none" stroke-width="0"/>
<circle cx="295.8" cy="1600.81" r="6.3" fill="#808080" stroke="none" stroke-width="0"/>
<circle cx="309.7" cy="1600.57" r="6.3" fill="#808080" stroke="none" stroke-width="0"/>
<circle cx="323.6" cy="1600.57" r="6.3" fill="#808080" stroke="none" stroke-width="0"/>
<circle cx="337.5" cy="1600.33" r="6.3" fill="#808080" stroke="none" stroke-width="0"/>
<circle cx="351.4" cy="1600.33" r="6.3" fill="#808080" stroke="none" stroke-width="0"/>
<circle cx="365.3" cy="1600.09" r="6.3" fill="#808080" stroke="none" stroke-width="0"/>
<circle cx="379.2" cy="1600.09" r="6.3" fill="#808080" stroke="none" stroke-width="0"/>
<circle cx="393.1" cy="1599.85" r="6.3" fill="#808080" stroke="none" stroke-width="0"/>
<circle cx="407" cy="1599.61" r="6.3" fill="#808080" stroke="none" stroke-width="0"/>
<polyline points="129,1775.96 142.9,1692.35 156.8,1656.07 170.7,1638.77 184.6,1629.4 198.5,1622.68 212.4,1618.83 226.3,1615.71 240.2,1613.31 254.1,1610.91 268,1609.46 281.9,1608.5 295.8,1607.78 309.7,1607.3 323.6,1606.58 337.5,1606.1 351.4,1605.62 365.3,1605.38 379.2,1605.14 393.1,1604.66 407,1603.94" fill="none" stroke="#55a0fc" stroke-width="2.8" stroke-linejoin="round"/>
<rect x="122.8" y="1769.76" width="12.4" height="12.4" fill="#55a0fc"/>
<rect x="136.7" y="1686.15" width="12.4" height="12.4" fill="#55a0fc"/>
<rect x="150.6" y="1649.87" width="12.4" height="12.4" fill="#55a0fc"/>
<rect x="164.5" y="1632.57" width="12.4" height="12.4" fill="#55a0fc"/>
<rect x="178.4" y="1623.2" width="12.4" height="12.4" fill="#55a0fc"/>
<rect x="192.3" y="1616.48" width="12.4" height="12.4" fill="#55a0fc"/>
<rect x="206.2" y="1612.63" width="12.4" height="12.4" fill="#55a0fc"/>
<rect x="220.1" y="1609.51" width="12.4" height="12.4" fill="#55a0fc"/>
<rect x="234" y="1607.11" width="12.4" height="12.4" fill="#55a0fc"/>
<rect x="247.9" y="1604.71" width="12.4" height="12.4" fill="#55a0fc"/>
<rect x="261.8" y="1603.26" width="12.4" height="12.4" fill="#55a0fc"/>
<rect x="275.7" y="1602.3" width="12.4" height="12.4" fill="#55a0fc"/>
<rect x="289.6" y="1601.58" width="12.4" height="12.4" fill="#55a0fc"/>
<rect x="303.5" y="1601.1" width="12.4" height="12.4" fill="#55a0fc"/>
<rect x="317.4" y="1600.38" width="12.4" height="12.4" fill="#55a0fc"/>
<rect x="331.3" y="1599.9" width="12.4" height="12.4" fill="#55a0fc"/>
<rect x="345.2" y="1599.42" width="12.4" height="12.4" fill="#55a0fc"/>
<rect x="359.1" y="1599.18" width="12.4" height="12.4" fill="#55a0fc"/>
<rect x="373" y="1598.94" width="12.4" height="12.4" fill="#55a0fc"/>
<rect x="386.9" y="1598.46" width="12.4" height="12.4" fill="#55a0fc"/>
<rect x="400.8" y="1597.74" width="12.4" height="12.4" fill="#55a0fc"/>
</g>
<line x1="118.1" y1="1594.65" x2="118.1" y2="1838.1" stroke="#000" stroke-width="3.2" stroke-linecap="butt"/>
<line x1="106.8" y1="1836.5" x2="443.2" y2="1836.5" stroke="#000" stroke-width="3.2" stroke-linecap="butt"/>
<line x1="107.1" y1="1836.5" x2="118.1" y2="1836.5" stroke="#000" stroke-width="3.2" stroke-linecap="butt"/>
<text transform="translate(100.3,1844.1) scale(1.02,1)" font-size="23" text-anchor="end" fill="#000">0.0</text>
<line x1="107.1" y1="1788.45" x2="118.1" y2="1788.45" stroke="#000" stroke-width="3.2" stroke-linecap="butt"/>
<text transform="translate(100.3,1796.05) scale(1.02,1)" font-size="23" text-anchor="end" fill="#000">0.2</text>
<line x1="107.1" y1="1740.4" x2="118.1" y2="1740.4" stroke="#000" stroke-width="3.2" stroke-linecap="butt"/>
<text transform="translate(100.3,1748) scale(1.02,1)" font-size="23" text-anchor="end" fill="#000">0.4</text>
<line x1="107.1" y1="1692.35" x2="118.1" y2="1692.35" stroke="#000" stroke-width="3.2" stroke-linecap="butt"/>
<text transform="translate(100.3,1699.95) scale(1.02,1)" font-size="23" text-anchor="end" fill="#000">0.6</text>
<line x1="107.1" y1="1644.3" x2="118.1" y2="1644.3" stroke="#000" stroke-width="3.2" stroke-linecap="butt"/>
<text transform="translate(100.3,1651.9) scale(1.02,1)" font-size="23" text-anchor="end" fill="#000">0.8</text>
<line x1="107.1" y1="1596.25" x2="118.1" y2="1596.25" stroke="#000" stroke-width="3.2" stroke-linecap="butt"/>
<text transform="translate(100.3,1603.85) scale(1.02,1)" font-size="23" text-anchor="end" fill="#000">1.0</text>
<line x1="129" y1="1836.5" x2="129" y2="1847.5" stroke="#000" stroke-width="3.2" stroke-linecap="butt"/>
<text transform="translate(127.8,1872.1) scale(1.02,1)" font-size="23" text-anchor="middle" fill="#000">0</text>
<line x1="198.5" y1="1836.5" x2="198.5" y2="1847.5" stroke="#000" stroke-width="3.2" stroke-linecap="butt"/>
<text transform="translate(200.4,1872.1) scale(1.02,1)" font-size="23" text-anchor="middle" fill="#000">300</text>
<line x1="268" y1="1836.5" x2="268" y2="1847.5" stroke="#000" stroke-width="3.2" stroke-linecap="butt"/>
<text transform="translate(269.6,1872.1) scale(1.02,1)" font-size="23" text-anchor="middle" fill="#000">600</text>
<line x1="337.5" y1="1836.5" x2="337.5" y2="1847.5" stroke="#000" stroke-width="3.2" stroke-linecap="butt"/>
<text transform="translate(339.6,1872.1) scale(1.02,1)" font-size="23" text-anchor="middle" fill="#000">900</text>
<line x1="407" y1="1836.5" x2="407" y2="1847.5" stroke="#000" stroke-width="3.2" stroke-linecap="butt"/>
<text transform="translate(411.6,1872.1) scale(1.02,1)" font-size="23" text-anchor="middle" fill="#000">1200</text>
<text transform="translate(125.9,1587.4) scale(1.02,1)" font-size="29" fill="#000">mEPSC</text>
<text transform="translate(274.2,1903.4)" font-size="23.6" text-anchor="middle" fill="#000">Inter-event interval (ms)</text>
<text transform="translate(57.3,1705.2) rotate(-90)" font-size="23.2" text-anchor="middle" fill="#000">Cumulative frequency</text>
<clipPath id="c6"><rect x="124.4" y="1988.1" width="331.1" height="256.3"/></clipPath>
<g clip-path="url(#c6)">
<polyline points="124.1,2245.32 141.15,2244.86 158.2,2210.45 175.25,2157.57 192.3,2114.73 209.35,2088.07 226.4,2071.88 243.45,2059.12 260.5,2051.37 277.55,2043.62 294.6,2038.38 311.65,2033.6 328.7,2029.95 345.75,2026.76 362.8,2024.94 379.85,2023.8 396.9,2023.11" fill="none" stroke="#55a0fc" stroke-width="2.8" stroke-linejoin="round"/>
<rect x="117.9" y="2239.12" width="12.4" height="12.4" fill="#55a0fc"/>
<rect x="134.95" y="2238.66" width="12.4" height="12.4" fill="#55a0fc"/>
<rect x="152" y="2204.25" width="12.4" height="12.4" fill="#55a0fc"/>
<rect x="169.05" y="2151.37" width="12.4" height="12.4" fill="#55a0fc"/>
<rect x="186.1" y="2108.53" width="12.4" height="12.4" fill="#55a0fc"/>
<rect x="203.15" y="2081.87" width="12.4" height="12.4" fill="#55a0fc"/>
<rect x="220.2" y="2065.68" width="12.4" height="12.4" fill="#55a0fc"/>
<rect x="237.25" y="2052.92" width="12.4" height="12.4" fill="#55a0fc"/>
<rect x="254.3" y="2045.17" width="12.4" height="12.4" fill="#55a0fc"/>
<rect x="271.35" y="2037.42" width="12.4" height="12.4" fill="#55a0fc"/>
<rect x="288.4" y="2032.18" width="12.4" height="12.4" fill="#55a0fc"/>
<rect x="305.45" y="2027.4" width="12.4" height="12.4" fill="#55a0fc"/>
<rect x="322.5" y="2023.75" width="12.4" height="12.4" fill="#55a0fc"/>
<rect x="339.55" y="2020.56" width="12.4" height="12.4" fill="#55a0fc"/>
<rect x="356.6" y="2018.74" width="12.4" height="12.4" fill="#55a0fc"/>
<rect x="373.65" y="2017.6" width="12.4" height="12.4" fill="#55a0fc"/>
<rect x="390.7" y="2016.91" width="12.4" height="12.4" fill="#55a0fc"/>
<polyline points="124.1,2245.32 141.15,2244.86 158.2,2198.14 175.25,2143.67 192.3,2101.51 209.35,2076.67 226.4,2061.63 243.45,2048.64 260.5,2041.35 277.55,2035.88 294.6,2032 311.65,2028.36 328.7,2026.53 345.75,2025.16 362.8,2024.25 379.85,2023.8 396.9,2023.11" fill="none" stroke="#808080" stroke-width="2.8" stroke-linejoin="round"/>
<circle cx="124.1" cy="2245.32" r="6.3" fill="#808080" stroke="none" stroke-width="0"/>
<circle cx="141.15" cy="2244.86" r="6.3" fill="#808080" stroke="none" stroke-width="0"/>
<circle cx="158.2" cy="2198.14" r="6.3" fill="#808080" stroke="none" stroke-width="0"/>
<circle cx="175.25" cy="2143.67" r="6.3" fill="#808080" stroke="none" stroke-width="0"/>
<circle cx="192.3" cy="2101.51" r="6.3" fill="#808080" stroke="none" stroke-width="0"/>
<circle cx="209.35" cy="2076.67" r="6.3" fill="#808080" stroke="none" stroke-width="0"/>
<circle cx="226.4" cy="2061.63" r="6.3" fill="#808080" stroke="none" stroke-width="0"/>
<circle cx="243.45" cy="2048.64" r="6.3" fill="#808080" stroke="none" stroke-width="0"/>
<circle cx="260.5" cy="2041.35" r="6.3" fill="#808080" stroke="none" stroke-width="0"/>
<circle cx="277.55" cy="2035.88" r="6.3" fill="#808080" stroke="none" stroke-width="0"/>
<circle cx="294.6" cy="2032" r="6.3" fill="#808080" stroke="none" stroke-width="0"/>
<circle cx="311.65" cy="2028.36" r="6.3" fill="#808080" stroke="none" stroke-width="0"/>
<circle cx="328.7" cy="2026.53" r="6.3" fill="#808080" stroke="none" stroke-width="0"/>
<circle cx="345.75" cy="2025.16" r="6.3" fill="#808080" stroke="none" stroke-width="0"/>
<circle cx="362.8" cy="2024.25" r="6.3" fill="#808080" stroke="none" stroke-width="0"/>
<circle cx="379.85" cy="2023.8" r="6.3" fill="#808080" stroke="none" stroke-width="0"/>
<circle cx="396.9" cy="2023.11" r="6.3" fill="#808080" stroke="none" stroke-width="0"/>
</g>
<line x1="124.4" y1="2016.5" x2="124.4" y2="2247.6" stroke="#000" stroke-width="3.2" stroke-linecap="butt"/>
<line x1="113.3" y1="2246" x2="435.5" y2="2246" stroke="#000" stroke-width="3.2" stroke-linecap="butt"/>
<line x1="113.4" y1="2246" x2="124.4" y2="2246" stroke="#000" stroke-width="3.2" stroke-linecap="butt"/>
<text transform="translate(105.9,2252.3) scale(1.02,1)" font-size="23" text-anchor="end" fill="#000">0.0</text>
<line x1="113.4" y1="2200.42" x2="124.4" y2="2200.42" stroke="#000" stroke-width="3.2" stroke-linecap="butt"/>
<text transform="translate(105.9,2206.72) scale(1.02,1)" font-size="23" text-anchor="end" fill="#000">0.2</text>
<line x1="113.4" y1="2154.84" x2="124.4" y2="2154.84" stroke="#000" stroke-width="3.2" stroke-linecap="butt"/>
<text transform="translate(105.9,2161.14) scale(1.02,1)" font-size="23" text-anchor="end" fill="#000">0.4</text>
<line x1="113.4" y1="2109.26" x2="124.4" y2="2109.26" stroke="#000" stroke-width="3.2" stroke-linecap="butt"/>
<text transform="translate(105.9,2115.56) scale(1.02,1)" font-size="23" text-anchor="end" fill="#000">0.6</text>
<line x1="113.4" y1="2063.68" x2="124.4" y2="2063.68" stroke="#000" stroke-width="3.2" stroke-linecap="butt"/>
<text transform="translate(105.9,2069.98) scale(1.02,1)" font-size="23" text-anchor="end" fill="#000">0.8</text>
<line x1="113.4" y1="2018.1" x2="124.4" y2="2018.1" stroke="#000" stroke-width="3.2" stroke-linecap="butt"/>
<text transform="translate(105.9,2024.4) scale(1.02,1)" font-size="23" text-anchor="end" fill="#000">1.0</text>
<line x1="124.1" y1="2246" x2="124.1" y2="2257" stroke="#000" stroke-width="3.2" stroke-linecap="butt"/>
<text transform="translate(120.2,2283.1) scale(1.02,1)" font-size="23" text-anchor="middle" fill="#000">0</text>
<line x1="192.3" y1="2246" x2="192.3" y2="2257" stroke="#000" stroke-width="3.2" stroke-linecap="butt"/>
<text transform="translate(189.5,2283.1) scale(1.02,1)" font-size="23" text-anchor="middle" fill="#000">20</text>
<line x1="260.5" y1="2246" x2="260.5" y2="2257" stroke="#000" stroke-width="3.2" stroke-linecap="butt"/>
<text transform="translate(258.5,2283.1) scale(1.02,1)" font-size="23" text-anchor="middle" fill="#000">40</text>
<line x1="328.7" y1="2246" x2="328.7" y2="2257" stroke="#000" stroke-width="3.2" stroke-linecap="butt"/>
<text transform="translate(326.6,2283.1) scale(1.02,1)" font-size="23" text-anchor="middle" fill="#000">60</text>
<line x1="396.9" y1="2246" x2="396.9" y2="2257" stroke="#000" stroke-width="3.2" stroke-linecap="butt"/>
<text transform="translate(394.7,2283.1) scale(1.02,1)" font-size="23" text-anchor="middle" fill="#000">80</text>
<text transform="translate(130.8,2011.7) scale(1.02,1)" font-size="29" fill="#000">mEPSC</text>
<text transform="translate(272,2311.6)" font-size="23.6" text-anchor="middle" fill="#000">Amplitude (pA)</text>
<text transform="translate(63.1,2127.1) rotate(-90)" font-size="23.3" text-anchor="middle" fill="#000">Cumulative frequency</text>
<line x1="313.4" y1="2082.8" x2="341.4" y2="2082.8" stroke="#808080" stroke-width="2.4" stroke-linecap="butt"/>
<circle cx="327.4" cy="2082.8" r="6" fill="#808080" stroke="none" stroke-width="0"/>
<text transform="translate(353.8,2089.3) scale(1.04,1)" font-size="23" fill="#000">ND</text>
<line x1="313.4" y1="2113.5" x2="341.4" y2="2113.5" stroke="#55a0fc" stroke-width="2.4" stroke-linecap="butt"/>
<rect x="321.4" y="2107.5" width="12" height="12" fill="#55a0fc"/>
<text transform="translate(353.8,2119.7) scale(1.04,1)" font-size="23" fill="#000">HFD</text>
<clipPath id="c7"><rect x="853.4" y="1564.4" width="354.2" height="268.6"/></clipPath>
<g clip-path="url(#c7)">
<polyline points="865.1,1806.5 879.03,1752.69 892.97,1721.95 906.9,1702.01 920.84,1687.12 934.77,1675.59 948.71,1666.46 962.64,1659.01 976.58,1651.57 990.51,1646.52 1004.45,1641.48 1018.38,1637.4 1032.32,1633.55 1046.26,1630.19 1060.19,1627.55 1074.12,1625.15 1088.06,1623.22 1101.99,1621.54 1115.93,1620.34 1129.87,1618.66 1143.8,1616.98" fill="none" stroke="#55a0fc" stroke-width="2.8" stroke-linejoin="round"/>
<rect x="858.9" y="1800.3" width="12.4" height="12.4" fill="#55a0fc"/>
<rect x="872.83" y="1746.49" width="12.4" height="12.4" fill="#55a0fc"/>
<rect x="886.77" y="1715.75" width="12.4" height="12.4" fill="#55a0fc"/>
<rect x="900.7" y="1695.81" width="12.4" height="12.4" fill="#55a0fc"/>
<rect x="914.64" y="1680.92" width="12.4" height="12.4" fill="#55a0fc"/>
<rect x="928.57" y="1669.39" width="12.4" height="12.4" fill="#55a0fc"/>
<rect x="942.51" y="1660.26" width="12.4" height="12.4" fill="#55a0fc"/>
<rect x="956.44" y="1652.81" width="12.4" height="12.4" fill="#55a0fc"/>
<rect x="970.38" y="1645.37" width="12.4" height="12.4" fill="#55a0fc"/>
<rect x="984.31" y="1640.32" width="12.4" height="12.4" fill="#55a0fc"/>
<rect x="998.25" y="1635.28" width="12.4" height="12.4" fill="#55a0fc"/>
<rect x="1012.18" y="1631.2" width="12.4" height="12.4" fill="#55a0fc"/>
<rect x="1026.12" y="1627.35" width="12.4" height="12.4" fill="#55a0fc"/>
<rect x="1040.06" y="1623.99" width="12.4" height="12.4" fill="#55a0fc"/>
<rect x="1053.99" y="1621.35" width="12.4" height="12.4" fill="#55a0fc"/>
<rect x="1067.92" y="1618.95" width="12.4" height="12.4" fill="#55a0fc"/>
<rect x="1081.86" y="1617.02" width="12.4" height="12.4" fill="#55a0fc"/>
<rect x="1095.79" y="1615.34" width="12.4" height="12.4" fill="#55a0fc"/>
<rect x="1109.73" y="1614.14" width="12.4" height="12.4" fill="#55a0fc"/>
<rect x="1123.66" y="1612.46" width="12.4" height="12.4" fill="#55a0fc"/>
<rect x="1137.6" y="1610.78" width="12.4" height="12.4" fill="#55a0fc"/>
<polyline points="865.1,1809.14 879.03,1759.42 892.97,1728.67 906.9,1706.33 920.84,1692.88 934.77,1682.31 948.71,1673.19 962.64,1666.22 976.58,1659.97 990.51,1654.93 1004.45,1649.65 1018.38,1646.52 1032.32,1642.44 1046.26,1639.8 1060.19,1637.4 1074.12,1635.71 1088.06,1633.55 1101.99,1630.91 1115.93,1629.23 1129.87,1628.27 1143.8,1626.83" fill="none" stroke="#808080" stroke-width="2.8" stroke-linejoin="round"/>
<circle cx="865.1" cy="1809.14" r="6.3" fill="#808080" stroke="none" stroke-width="0"/>
<circle cx="879.03" cy="1759.42" r="6.3" fill="#808080" stroke="none" stroke-width="0"/>
<circle cx="892.97" cy="1728.67" r="6.3" fill="#808080" stroke="none" stroke-width="0"/>
<circle cx="906.9" cy="1706.33" r="6.3" fill="#808080" stroke="none" stroke-width="0"/>
<circle cx="920.84" cy="1692.88" r="6.3" fill="#808080" stroke="none" stroke-width="0"/>
<circle cx="934.77" cy="1682.31" r="6.3" fill="#808080" stroke="none" stroke-width="0"/>
<circle cx="948.71" cy="1673.19" r="6.3" fill="#808080" stroke="none" stroke-width="0"/>
<circle cx="962.64" cy="1666.22" r="6.3" fill="#808080" stroke="none" stroke-width="0"/>
<circle cx="976.58" cy="1659.97" r="6.3" fill="#808080" stroke="none" stroke-width="0"/>
<circle cx="990.51" cy="1654.93" r="6.3" fill="#808080" stroke="none" stroke-width="0"/>
<circle cx="1004.45" cy="1649.65" r="6.3" fill="#808080" stroke="none" stroke-width="0"/>
<circle cx="1018.38" cy="1646.52" r="6.3" fill="#808080" stroke="none" stroke-width="0"/>
<circle cx="1032.32" cy="1642.44" r="6.3" fill="#808080" stroke="none" stroke-width="0"/>
<circle cx="1046.26" cy="1639.8" r="6.3" fill="#808080" stroke="none" stroke-width="0"/>
<circle cx="1060.19" cy="1637.4" r="6.3" fill="#808080" stroke="none" stroke-width="0"/>
<circle cx="1074.12" cy="1635.71" r="6.3" fill="#808080" stroke="none" stroke-width="0"/>
<circle cx="1088.06" cy="1633.55" r="6.3" fill="#808080" stroke="none" stroke-width="0"/>
<circle cx="1101.99" cy="1630.91" r="6.3" fill="#808080" stroke="none" stroke-width="0"/>
<circle cx="1115.93" cy="1629.23" r="6.3" fill="#808080" stroke="none" stroke-width="0"/>
<circle cx="1129.87" cy="1628.27" r="6.3" fill="#808080" stroke="none" stroke-width="0"/>
<circle cx="1143.8" cy="1626.83" r="6.3" fill="#808080" stroke="none" stroke-width="0"/>
</g>
<line x1="853.4" y1="1592.8" x2="853.4" y2="1836.2" stroke="#000" stroke-width="3.2" stroke-linecap="butt"/>
<line x1="842.7" y1="1834.6" x2="1187.6" y2="1834.6" stroke="#000" stroke-width="3.2" stroke-linecap="butt"/>
<line x1="842.4" y1="1834.6" x2="853.4" y2="1834.6" stroke="#000" stroke-width="3.2" stroke-linecap="butt"/>
<text transform="translate(836.5,1842.1) scale(1.02,1)" font-size="23" text-anchor="end" fill="#000">0.0</text>
<line x1="842.4" y1="1786.56" x2="853.4" y2="1786.56" stroke="#000" stroke-width="3.2" stroke-linecap="butt"/>
<text transform="translate(836.5,1794.06) scale(1.02,1)" font-size="23" text-anchor="end" fill="#000">0.2</text>
<line x1="842.4" y1="1738.52" x2="853.4" y2="1738.52" stroke="#000" stroke-width="3.2" stroke-linecap="butt"/>
<text transform="translate(836.5,1746.02) scale(1.02,1)" font-size="23" text-anchor="end" fill="#000">0.4</text>
<line x1="842.4" y1="1690.48" x2="853.4" y2="1690.48" stroke="#000" stroke-width="3.2" stroke-linecap="butt"/>
<text transform="translate(836.5,1697.98) scale(1.02,1)" font-size="23" text-anchor="end" fill="#000">0.6</text>
<line x1="842.4" y1="1642.44" x2="853.4" y2="1642.44" stroke="#000" stroke-width="3.2" stroke-linecap="butt"/>
<text transform="translate(836.5,1649.94) scale(1.02,1)" font-size="23" text-anchor="end" fill="#000">0.8</text>
<line x1="842.4" y1="1594.4" x2="853.4" y2="1594.4" stroke="#000" stroke-width="3.2" stroke-linecap="butt"/>
<text transform="translate(836.5,1601.9) scale(1.02,1)" font-size="23" text-anchor="end" fill="#000">1.0</text>
<line x1="865.1" y1="1834.6" x2="865.1" y2="1845.6" stroke="#000" stroke-width="3.2" stroke-linecap="butt"/>
<text transform="translate(866.9,1868) scale(1.02,1)" font-size="23" text-anchor="middle" fill="#000">0</text>
<line x1="934.77" y1="1834.6" x2="934.77" y2="1845.6" stroke="#000" stroke-width="3.2" stroke-linecap="butt"/>
<text transform="translate(939.3,1868) scale(1.02,1)" font-size="23" text-anchor="middle" fill="#000">300</text>
<line x1="1004.45" y1="1834.6" x2="1004.45" y2="1845.6" stroke="#000" stroke-width="3.2" stroke-linecap="butt"/>
<text transform="translate(1008.2,1868) scale(1.02,1)" font-size="23" text-anchor="middle" fill="#000">600</text>
<line x1="1074.12" y1="1834.6" x2="1074.12" y2="1845.6" stroke="#000" stroke-width="3.2" stroke-linecap="butt"/>
<text transform="translate(1078.7,1868) scale(1.02,1)" font-size="23" text-anchor="middle" fill="#000">900</text>
<line x1="1143.8" y1="1834.6" x2="1143.8" y2="1845.6" stroke="#000" stroke-width="3.2" stroke-linecap="butt"/>
<text transform="translate(1150.4,1868) scale(1.02,1)" font-size="23" text-anchor="middle" fill="#000">1200</text>
<text transform="translate(863.1,1592.9) scale(1.02,1)" font-size="29" fill="#000">mIPSC</text>
<text transform="translate(1027.7,1897.1)" font-size="23.6" text-anchor="middle" fill="#000">Inter-event interval (ms)</text>
<text transform="translate(793.1,1703.4) rotate(-90)" font-size="23.3" text-anchor="middle" fill="#000">Cumulative frequency</text>
<clipPath id="c8"><rect x="852.9" y="1986.25" width="333.3" height="256.15"/></clipPath>
<g clip-path="url(#c8)">
<polyline points="852.4,2243.32 869.41,2243.32 886.42,2242.63 903.44,2235.8 920.45,2211.89 937.46,2182.96 954.47,2159.73 971.49,2135.14 988.5,2117.14 1005.51,2099.83 1022.52,2089.13 1039.54,2076.6 1056.55,2068.4 1073.56,2059.07 1090.57,2052.46 1107.59,2046.31 1124.6,2042.67" fill="none" stroke="#55a0fc" stroke-width="2.8" stroke-linejoin="round"/>
<rect x="846.2" y="2237.12" width="12.4" height="12.4" fill="#55a0fc"/>
<rect x="863.21" y="2237.12" width="12.4" height="12.4" fill="#55a0fc"/>
<rect x="880.22" y="2236.43" width="12.4" height="12.4" fill="#55a0fc"/>
<rect x="897.24" y="2229.6" width="12.4" height="12.4" fill="#55a0fc"/>
<rect x="914.25" y="2205.69" width="12.4" height="12.4" fill="#55a0fc"/>
<rect x="931.26" y="2176.76" width="12.4" height="12.4" fill="#55a0fc"/>
<rect x="948.27" y="2153.53" width="12.4" height="12.4" fill="#55a0fc"/>
<rect x="965.29" y="2128.94" width="12.4" height="12.4" fill="#55a0fc"/>
<rect x="982.3" y="2110.94" width="12.4" height="12.4" fill="#55a0fc"/>
<rect x="999.31" y="2093.63" width="12.4" height="12.4" fill="#55a0fc"/>
<rect x="1016.32" y="2082.93" width="12.4" height="12.4" fill="#55a0fc"/>
<rect x="1033.34" y="2070.4" width="12.4" height="12.4" fill="#55a0fc"/>
<rect x="1050.35" y="2062.2" width="12.4" height="12.4" fill="#55a0fc"/>
<rect x="1067.36" y="2052.87" width="12.4" height="12.4" fill="#55a0fc"/>
<rect x="1084.37" y="2046.26" width="12.4" height="12.4" fill="#55a0fc"/>
<rect x="1101.39" y="2040.11" width="12.4" height="12.4" fill="#55a0fc"/>
<rect x="1118.4" y="2036.47" width="12.4" height="12.4" fill="#55a0fc"/>
<polyline points="852.4,2243.32 869.41,2243.32 886.42,2236.71 903.44,2208.7 920.45,2169.07 937.46,2137.64 954.47,2117.14 971.49,2101.43 988.5,2089.81 1005.51,2079.34 1022.52,2071.14 1039.54,2062.71 1056.55,2055.88 1073.56,2050.18 1090.57,2044.72 1107.59,2040.39 1124.6,2035.38" fill="none" stroke="#808080" stroke-width="2.8" stroke-linejoin="round"/>
<circle cx="852.4" cy="2243.32" r="6.3" fill="#808080" stroke="none" stroke-width="0"/>
<circle cx="869.41" cy="2243.32" r="6.3" fill="#808080" stroke="none" stroke-width="0"/>
<circle cx="886.42" cy="2236.71" r="6.3" fill="#808080" stroke="none" stroke-width="0"/>
<circle cx="903.44" cy="2208.7" r="6.3" fill="#808080" stroke="none" stroke-width="0"/>
<circle cx="920.45" cy="2169.07" r="6.3" fill="#808080" stroke="none" stroke-width="0"/>
<circle cx="937.46" cy="2137.64" r="6.3" fill="#808080" stroke="none" stroke-width="0"/>
<circle cx="954.47" cy="2117.14" r="6.3" fill="#808080" stroke="none" stroke-width="0"/>
<circle cx="971.49" cy="2101.43" r="6.3" fill="#808080" stroke="none" stroke-width="0"/>
<circle cx="988.5" cy="2089.81" r="6.3" fill="#808080" stroke="none" stroke-width="0"/>
<circle cx="1005.51" cy="2079.34" r="6.3" fill="#808080" stroke="none" stroke-width="0"/>
<circle cx="1022.52" cy="2071.14" r="6.3" fill="#808080" stroke="none" stroke-width="0"/>
<circle cx="1039.54" cy="2062.71" r="6.3" fill="#808080" stroke="none" stroke-width="0"/>
<circle cx="1056.55" cy="2055.88" r="6.3" fill="#808080" stroke="none" stroke-width="0"/>
<circle cx="1073.56" cy="2050.18" r="6.3" fill="#808080" stroke="none" stroke-width="0"/>
<circle cx="1090.57" cy="2044.72" r="6.3" fill="#808080" stroke="none" stroke-width="0"/>
<circle cx="1107.59" cy="2040.39" r="6.3" fill="#808080" stroke="none" stroke-width="0"/>
<circle cx="1124.6" cy="2035.38" r="6.3" fill="#808080" stroke="none" stroke-width="0"/>
</g>
<line x1="852.9" y1="2014.65" x2="852.9" y2="2245.6" stroke="#000" stroke-width="3.2" stroke-linecap="butt"/>
<line x1="842.1" y1="2244" x2="1166.2" y2="2244" stroke="#000" stroke-width="3.2" stroke-linecap="butt"/>
<line x1="841.9" y1="2244" x2="852.9" y2="2244" stroke="#000" stroke-width="3.2" stroke-linecap="butt"/>
<text transform="translate(834.65,2251.5) scale(1.02,1)" font-size="23" text-anchor="end" fill="#000">0.0</text>
<line x1="841.9" y1="2198.45" x2="852.9" y2="2198.45" stroke="#000" stroke-width="3.2" stroke-linecap="butt"/>
<text transform="translate(834.65,2205.95) scale(1.02,1)" font-size="23" text-anchor="end" fill="#000">0.2</text>
<line x1="841.9" y1="2152.9" x2="852.9" y2="2152.9" stroke="#000" stroke-width="3.2" stroke-linecap="butt"/>
<text transform="translate(834.65,2160.4) scale(1.02,1)" font-size="23" text-anchor="end" fill="#000">0.4</text>
<line x1="841.9" y1="2107.35" x2="852.9" y2="2107.35" stroke="#000" stroke-width="3.2" stroke-linecap="butt"/>
<text transform="translate(834.65,2114.85) scale(1.02,1)" font-size="23" text-anchor="end" fill="#000">0.6</text>
<line x1="841.9" y1="2061.8" x2="852.9" y2="2061.8" stroke="#000" stroke-width="3.2" stroke-linecap="butt"/>
<text transform="translate(834.65,2069.3) scale(1.02,1)" font-size="23" text-anchor="end" fill="#000">0.8</text>
<line x1="841.9" y1="2016.25" x2="852.9" y2="2016.25" stroke="#000" stroke-width="3.2" stroke-linecap="butt"/>
<text transform="translate(834.65,2023.75) scale(1.02,1)" font-size="23" text-anchor="end" fill="#000">1.0</text>
<line x1="852.4" y1="2244" x2="852.4" y2="2255" stroke="#000" stroke-width="3.2" stroke-linecap="butt"/>
<text transform="translate(854.2,2279) scale(1.02,1)" font-size="23" text-anchor="middle" fill="#000">0</text>
<line x1="920.45" y1="2244" x2="920.45" y2="2255" stroke="#000" stroke-width="3.2" stroke-linecap="butt"/>
<text transform="translate(923.6,2279) scale(1.02,1)" font-size="23" text-anchor="middle" fill="#000">20</text>
<line x1="988.5" y1="2244" x2="988.5" y2="2255" stroke="#000" stroke-width="3.2" stroke-linecap="butt"/>
<text transform="translate(991.6,2279) scale(1.02,1)" font-size="23" text-anchor="middle" fill="#000">40</text>
<line x1="1056.55" y1="2244" x2="1056.55" y2="2255" stroke="#000" stroke-width="3.2" stroke-linecap="butt"/>
<text transform="translate(1060.5,2279) scale(1.02,1)" font-size="23" text-anchor="middle" fill="#000">60</text>
<line x1="1124.6" y1="2244" x2="1124.6" y2="2255" stroke="#000" stroke-width="3.2" stroke-linecap="butt"/>
<text transform="translate(1128.4,2279) scale(1.02,1)" font-size="23" text-anchor="middle" fill="#000">80</text>
<text transform="translate(863.1,2014.2) scale(1.02,1)" font-size="29" fill="#000">mIPSC</text>
<text transform="translate(1014.3,2307.1)" font-size="23.6" text-anchor="middle" fill="#000">Amplitude (pA)</text>
<text transform="translate(791.25,2122.4) rotate(-90)" font-size="23.3" text-anchor="middle" fill="#000">Cumulative frequency</text>
<line x1="1061" y1="2118.8" x2="1089" y2="2118.8" stroke="#808080" stroke-width="2.4" stroke-linecap="butt"/>
<circle cx="1075" cy="2118.8" r="6" fill="#808080" stroke="none" stroke-width="0"/>
<text transform="translate(1101.2,2125) scale(1.04,1)" font-size="23" fill="#000">ND</text>
<line x1="1061" y1="2149.9" x2="1089" y2="2149.9" stroke="#55a0fc" stroke-width="2.4" stroke-linecap="butt"/>
<rect x="1069" y="2143.9" width="12" height="12" fill="#55a0fc"/>
<text transform="translate(1101.2,2155.2) scale(1.04,1)" font-size="23" fill="#000">HFD</text>
<rect x="563.5" y="645.57" width="43.5" height="47.23" fill="#808080"/>
<rect x="629" y="658.54" width="44" height="34.26" fill="#55a0fc"/>
<circle cx="585" cy="488.15" r="3.6" fill="none" stroke="#000" stroke-width="2.9"/>
<circle cx="582" cy="551.12" r="3.6" fill="none" stroke="#000" stroke-width="2.9"/>
<circle cx="587.5" cy="550.2" r="3.6" fill="none" stroke="#000" stroke-width="2.9"/>
<circle cx="585" cy="643.26" r="3.6" fill="none" stroke="#000" stroke-width="2.9"/>
<circle cx="567.5" cy="689.56" r="3.6" fill="none" stroke="#000" stroke-width="2.9"/>
<circle cx="572.6" cy="689.56" r="3.6" fill="none" stroke="#000" stroke-width="2.9"/>
<circle cx="582.6" cy="688.17" r="3.6" fill="none" stroke="#000" stroke-width="2.9"/>
<circle cx="587" cy="684.47" r="3.6" fill="none" stroke="#000" stroke-width="2.9"/>
<circle cx="597.4" cy="685.85" r="3.6" fill="none" stroke="#000" stroke-width="2.9"/>
<circle cx="592" cy="690.02" r="3.6" fill="none" stroke="#000" stroke-width="2.9"/>
<circle cx="601.6" cy="690.48" r="3.6" fill="none" stroke="#000" stroke-width="2.9"/>
<circle cx="579.2" cy="690.95" r="3.6" fill="none" stroke="#000" stroke-width="2.9"/>
<circle cx="651.4" cy="490.93" r="3.6" fill="none" stroke="#000" stroke-width="2.9"/>
<circle cx="644" cy="636.31" r="3.6" fill="none" stroke="#000" stroke-width="2.9"/>
<circle cx="658.7" cy="639.09" r="3.6" fill="none" stroke="#000" stroke-width="2.9"/>
<circle cx="651" cy="642.33" r="3.6" fill="none" stroke="#000" stroke-width="2.9"/>
<circle cx="643.1" cy="671.96" r="3.6" fill="none" stroke="#000" stroke-width="2.9"/>
<circle cx="658.7" cy="673.35" r="3.6" fill="none" stroke="#000" stroke-width="2.9"/>
<circle cx="634" cy="683.54" r="3.6" fill="none" stroke="#000" stroke-width="2.9"/>
<circle cx="640" cy="688.17" r="3.6" fill="none" stroke="#000" stroke-width="2.9"/>
<circle cx="654.5" cy="683.54" r="3.6" fill="none" stroke="#000" stroke-width="2.9"/>
<circle cx="647.3" cy="689.56" r="3.6" fill="none" stroke="#000" stroke-width="2.9"/>
<circle cx="662.8" cy="690.95" r="3.6" fill="none" stroke="#000" stroke-width="2.9"/>
<circle cx="669" cy="690.95" r="3.6" fill="none" stroke="#000" stroke-width="2.9"/>
<line x1="584" y1="624.74" x2="584" y2="666.41" stroke="#000" stroke-width="3.2" stroke-linecap="butt"/>
<line x1="572" y1="624.74" x2="596" y2="624.74" stroke="#000" stroke-width="3.2" stroke-linecap="butt"/>
<line x1="572" y1="666.41" x2="596" y2="666.41" stroke="#000" stroke-width="3.2" stroke-linecap="butt"/>
<line x1="651" y1="643.26" x2="651" y2="673.82" stroke="#000" stroke-width="3.2" stroke-linecap="butt"/>
<line x1="639" y1="643.26" x2="663" y2="643.26" stroke="#000" stroke-width="3.2" stroke-linecap="butt"/>
<line x1="639" y1="673.82" x2="663" y2="673.82" stroke="#000" stroke-width="3.2" stroke-linecap="butt"/>
<line x1="540.9" y1="459.7" x2="540.9" y2="694.4" stroke="#000" stroke-width="3.2" stroke-linecap="butt"/>
<line x1="529.8" y1="692.8" x2="697" y2="692.8" stroke="#000" stroke-width="3.2" stroke-linecap="butt"/>
<line x1="529.9" y1="692.8" x2="540.9" y2="692.8" stroke="#000" stroke-width="3.2" stroke-linecap="butt"/>
<text transform="translate(520.8,699.5) scale(1.02,1)" font-size="23" text-anchor="end" fill="#000">0</text>
<line x1="529.9" y1="646.5" x2="540.9" y2="646.5" stroke="#000" stroke-width="3.2" stroke-linecap="butt"/>
<text transform="translate(524.3,653.2) scale(1.02,1)" font-size="23" text-anchor="end" fill="#000">10</text>
<line x1="529.9" y1="600.2" x2="540.9" y2="600.2" stroke="#000" stroke-width="3.2" stroke-linecap="butt"/>
<text transform="translate(524.3,606.9) scale(1.02,1)" font-size="23" text-anchor="end" fill="#000">20</text>
<line x1="529.9" y1="553.9" x2="540.9" y2="553.9" stroke="#000" stroke-width="3.2" stroke-linecap="butt"/>
<text transform="translate(524.3,560.6) scale(1.02,1)" font-size="23" text-anchor="end" fill="#000">30</text>
<line x1="529.9" y1="507.6" x2="540.9" y2="507.6" stroke="#000" stroke-width="3.2" stroke-linecap="butt"/>
<text transform="translate(524.3,514.3) scale(1.02,1)" font-size="23" text-anchor="end" fill="#000">40</text>
<line x1="529.9" y1="461.3" x2="540.9" y2="461.3" stroke="#000" stroke-width="3.2" stroke-linecap="butt"/>
<text transform="translate(524.3,468) scale(1.02,1)" font-size="23" text-anchor="end" fill="#000">50</text>
<line x1="584" y1="692.8" x2="584" y2="703.8" stroke="#000" stroke-width="3.2" stroke-linecap="butt"/>
<line x1="651" y1="692.8" x2="651" y2="703.8" stroke="#000" stroke-width="3.2" stroke-linecap="butt"/>
<text transform="translate(586.5,730) scale(1.02,1)" font-size="23.3" text-anchor="middle" fill="#000">ND</text>
<text transform="translate(654.5,730) scale(1.02,1)" font-size="23.3" text-anchor="middle" fill="#000">HFD</text>
<text transform="translate(486.5,565.1) rotate(-90)" font-size="23.5" text-anchor="middle" fill="#000">Frequency (Hz)</text>
<rect x="566" y="968.31" width="43.7" height="98.19" fill="#808080"/>
<rect x="632" y="960.76" width="43.9" height="105.74" fill="#55a0fc"/>
<circle cx="587.5" cy="856.18" r="3.6" fill="none" stroke="#000" stroke-width="2.9"/>
<circle cx="596.6" cy="952.04" r="3.6" fill="none" stroke="#000" stroke-width="2.9"/>
<circle cx="579" cy="960.18" r="3.6" fill="none" stroke="#000" stroke-width="2.9"/>
<circle cx="587.5" cy="962.5" r="3.6" fill="none" stroke="#000" stroke-width="2.9"/>
<circle cx="587.5" cy="968.89" r="3.6" fill="none" stroke="#000" stroke-width="2.9"/>
<circle cx="596.6" cy="974.12" r="3.6" fill="none" stroke="#000" stroke-width="2.9"/>
<circle cx="579" cy="978.77" r="3.6" fill="none" stroke="#000" stroke-width="2.9"/>
<circle cx="569.9" cy="990.97" r="3.6" fill="none" stroke="#000" stroke-width="2.9"/>
<circle cx="579" cy="991.55" r="3.6" fill="none" stroke="#000" stroke-width="2.9"/>
<circle cx="587.5" cy="994.46" r="3.6" fill="none" stroke="#000" stroke-width="2.9"/>
<circle cx="596.6" cy="996.78" r="3.6" fill="none" stroke="#000" stroke-width="2.9"/>
<circle cx="605.5" cy="999.1" r="3.6" fill="none" stroke="#000" stroke-width="2.9"/>
<circle cx="653.7" cy="906.14" r="3.6" fill="none" stroke="#000" stroke-width="2.9"/>
<circle cx="653.7" cy="918.93" r="3.6" fill="none" stroke="#000" stroke-width="2.9"/>
<circle cx="646.3" cy="946.23" r="3.6" fill="none" stroke="#000" stroke-width="2.9"/>
<circle cx="661.4" cy="946.23" r="3.6" fill="none" stroke="#000" stroke-width="2.9"/>
<circle cx="638.6" cy="949.14" r="3.6" fill="none" stroke="#000" stroke-width="2.9"/>
<circle cx="653.7" cy="956.11" r="3.6" fill="none" stroke="#000" stroke-width="2.9"/>
<circle cx="668.6" cy="960.18" r="3.6" fill="none" stroke="#000" stroke-width="2.9"/>
<circle cx="646.3" cy="974.12" r="3.6" fill="none" stroke="#000" stroke-width="2.9"/>
<circle cx="661.4" cy="974.12" r="3.6" fill="none" stroke="#000" stroke-width="2.9"/>
<circle cx="646.3" cy="986.32" r="3.6" fill="none" stroke="#000" stroke-width="2.9"/>
<circle cx="661.4" cy="987.48" r="3.6" fill="none" stroke="#000" stroke-width="2.9"/>
<circle cx="646.3" cy="995.04" r="3.6" fill="none" stroke="#000" stroke-width="2.9"/>
<circle cx="661.4" cy="997.94" r="3.6" fill="none" stroke="#000" stroke-width="2.9"/>
<line x1="587.5" y1="956.69" x2="587.5" y2="979.35" stroke="#000" stroke-width="3.2" stroke-linecap="butt"/>
<line x1="575.5" y1="956.69" x2="599.5" y2="956.69" stroke="#000" stroke-width="3.2" stroke-linecap="butt"/>
<line x1="575.5" y1="979.35" x2="599.5" y2="979.35" stroke="#000" stroke-width="3.2" stroke-linecap="butt"/>
<line x1="653.7" y1="953.21" x2="653.7" y2="968.89" stroke="#000" stroke-width="3.2" stroke-linecap="butt"/>
<line x1="641.7" y1="953.21" x2="665.7" y2="953.21" stroke="#000" stroke-width="3.2" stroke-linecap="butt"/>
<line x1="641.7" y1="968.89" x2="665.7" y2="968.89" stroke="#000" stroke-width="3.2" stroke-linecap="butt"/>
<line x1="543.7" y1="832.5" x2="543.7" y2="1068.1" stroke="#000" stroke-width="3.2" stroke-linecap="butt"/>
<line x1="532.4" y1="1066.5" x2="699.7" y2="1066.5" stroke="#000" stroke-width="3.2" stroke-linecap="butt"/>
<line x1="532.7" y1="1066.5" x2="543.7" y2="1066.5" stroke="#000" stroke-width="3.2" stroke-linecap="butt"/>
<text transform="translate(522.1,1073.6) scale(1.02,1)" font-size="23" text-anchor="end" fill="#000">0</text>
<line x1="532.7" y1="1008.4" x2="543.7" y2="1008.4" stroke="#000" stroke-width="3.2" stroke-linecap="butt"/>
<text transform="translate(525.6,1015.5) scale(1.02,1)" font-size="23" text-anchor="end" fill="#000">10</text>
<line x1="532.7" y1="950.3" x2="543.7" y2="950.3" stroke="#000" stroke-width="3.2" stroke-linecap="butt"/>
<text transform="translate(525.6,957.4) scale(1.02,1)" font-size="23" text-anchor="end" fill="#000">20</text>
<line x1="532.7" y1="892.2" x2="543.7" y2="892.2" stroke="#000" stroke-width="3.2" stroke-linecap="butt"/>
<text transform="translate(525.6,899.3) scale(1.02,1)" font-size="23" text-anchor="end" fill="#000">30</text>
<line x1="532.7" y1="834.1" x2="543.7" y2="834.1" stroke="#000" stroke-width="3.2" stroke-linecap="butt"/>
<text transform="translate(525.6,841.2) scale(1.02,1)" font-size="23" text-anchor="end" fill="#000">40</text>
<line x1="587.5" y1="1066.5" x2="587.5" y2="1077.5" stroke="#000" stroke-width="3.2" stroke-linecap="butt"/>
<line x1="653.7" y1="1066.5" x2="653.7" y2="1077.5" stroke="#000" stroke-width="3.2" stroke-linecap="butt"/>
<text transform="translate(589.5,1100.4) scale(1.02,1)" font-size="23.3" text-anchor="middle" fill="#000">ND</text>
<text transform="translate(657.2,1100.4) scale(1.02,1)" font-size="23.3" text-anchor="middle" fill="#000">HFD</text>
<text transform="translate(489,949.8) rotate(-90)" font-size="23.6" text-anchor="middle" fill="#000">Amplitude (pA)</text>
<rect x="1313" y="626.62" width="44" height="57.88" fill="#808080"/>
<rect x="1379" y="668.29" width="44" height="16.21" fill="#55a0fc"/>
<circle cx="1334.6" cy="470.75" r="3.6" fill="none" stroke="#000" stroke-width="2.9"/>
<circle cx="1334.6" cy="596.53" r="3.6" fill="none" stroke="#000" stroke-width="2.9"/>
<circle cx="1334.6" cy="618.14" r="3.6" fill="none" stroke="#000" stroke-width="2.9"/>
<circle cx="1342" cy="622.77" r="3.6" fill="none" stroke="#000" stroke-width="2.9"/>
<circle cx="1327.6" cy="630.48" r="3.6" fill="none" stroke="#000" stroke-width="2.9"/>
<circle cx="1327.6" cy="658.26" r="3.6" fill="none" stroke="#000" stroke-width="2.9"/>
<circle cx="1319.6" cy="663.66" r="3.6" fill="none" stroke="#000" stroke-width="2.9"/>
<circle cx="1334.6" cy="665.21" r="3.6" fill="none" stroke="#000" stroke-width="2.9"/>
<circle cx="1342" cy="661.35" r="3.6" fill="none" stroke="#000" stroke-width="2.9"/>
<circle cx="1349.6" cy="671.38" r="3.6" fill="none" stroke="#000" stroke-width="2.9"/>
<circle cx="1401" cy="646.69" r="3.6" fill="none" stroke="#000" stroke-width="2.9"/>
<circle cx="1406.6" cy="656.72" r="3.6" fill="none" stroke="#000" stroke-width="2.9"/>
<circle cx="1396" cy="659.81" r="3.6" fill="none" stroke="#000" stroke-width="2.9"/>
<circle cx="1401" cy="666.75" r="3.6" fill="none" stroke="#000" stroke-width="2.9"/>
<circle cx="1410" cy="669.84" r="3.6" fill="none" stroke="#000" stroke-width="2.9"/>
<circle cx="1383.6" cy="672.15" r="3.6" fill="none" stroke="#000" stroke-width="2.9"/>
<circle cx="1388" cy="673.7" r="3.6" fill="none" stroke="#000" stroke-width="2.9"/>
<circle cx="1393" cy="675.24" r="3.6" fill="none" stroke="#000" stroke-width="2.9"/>
<circle cx="1408" cy="674.47" r="3.6" fill="none" stroke="#000" stroke-width="2.9"/>
<circle cx="1419" cy="676.78" r="3.6" fill="none" stroke="#000" stroke-width="2.9"/>
<circle cx="1399" cy="670.61" r="3.6" fill="none" stroke="#000" stroke-width="2.9"/>
<line x1="1334.6" y1="606.56" x2="1334.6" y2="645.14" stroke="#000" stroke-width="3.2" stroke-linecap="butt"/>
<line x1="1322.6" y1="606.56" x2="1346.6" y2="606.56" stroke="#000" stroke-width="3.2" stroke-linecap="butt"/>
<line x1="1322.6" y1="645.14" x2="1346.6" y2="645.14" stroke="#000" stroke-width="3.2" stroke-linecap="butt"/>
<line x1="1401" y1="664.44" x2="1401" y2="672.15" stroke="#000" stroke-width="3.2" stroke-linecap="butt"/>
<line x1="1389" y1="664.44" x2="1413" y2="664.44" stroke="#000" stroke-width="3.2" stroke-linecap="butt"/>
<line x1="1389" y1="672.15" x2="1413" y2="672.15" stroke="#000" stroke-width="3.2" stroke-linecap="butt"/>
<line x1="1290.6" y1="451.4" x2="1290.6" y2="686.1" stroke="#000" stroke-width="3.2" stroke-linecap="butt"/>
<line x1="1280.1" y1="684.5" x2="1447" y2="684.5" stroke="#000" stroke-width="3.2" stroke-linecap="butt"/>
<line x1="1279.6" y1="684.5" x2="1290.6" y2="684.5" stroke="#000" stroke-width="3.2" stroke-linecap="butt"/>
<text transform="translate(1276.5,690.6) scale(1.02,1)" font-size="23" text-anchor="end" fill="#000">0</text>
<line x1="1279.6" y1="607.33" x2="1290.6" y2="607.33" stroke="#000" stroke-width="3.2" stroke-linecap="butt"/>
<text transform="translate(1276.5,613.43) scale(1.02,1)" font-size="23" text-anchor="end" fill="#000">1</text>
<line x1="1279.6" y1="530.17" x2="1290.6" y2="530.17" stroke="#000" stroke-width="3.2" stroke-linecap="butt"/>
<text transform="translate(1276.5,536.27) scale(1.02,1)" font-size="23" text-anchor="end" fill="#000">2</text>
<line x1="1279.6" y1="453" x2="1290.6" y2="453" stroke="#000" stroke-width="3.2" stroke-linecap="butt"/>
<text transform="translate(1276.5,459.1) scale(1.02,1)" font-size="23" text-anchor="end" fill="#000">3</text>
<line x1="1334.6" y1="684.5" x2="1334.6" y2="695.5" stroke="#000" stroke-width="3.2" stroke-linecap="butt"/>
<line x1="1401" y1="684.5" x2="1401" y2="695.5" stroke="#000" stroke-width="3.2" stroke-linecap="butt"/>
<text transform="translate(1336.5,718) scale(1.02,1)" font-size="23.3" text-anchor="middle" fill="#000">ND</text>
<text transform="translate(1404,718) scale(1.02,1)" font-size="23.3" text-anchor="middle" fill="#000">HFD</text>
<text transform="translate(1251.7,558.3) rotate(-90)" font-size="23.7" text-anchor="middle" fill="#000">Frequency (Hz)</text>
<polyline points="1333.5,460 1333.5,451.5 1405.5,451.5 1405.5,460" fill="none" stroke="#000" stroke-width="3" stroke-linejoin="miter"/>
<text transform="translate(1369,452)" font-size="22" text-anchor="middle" fill="#000">*</text>
<rect x="1309.6" y="996.8" width="43.4" height="63.8" fill="#808080"/>
<rect x="1375" y="979.43" width="43.6" height="81.17" fill="#55a0fc"/>
<circle cx="1331" cy="964.36" r="3.6" fill="none" stroke="#000" stroke-width="2.9"/>
<circle cx="1320" cy="968.36" r="3.6" fill="none" stroke="#000" stroke-width="2.9"/>
<circle cx="1331" cy="973.43" r="3.6" fill="none" stroke="#000" stroke-width="2.9"/>
<circle cx="1342" cy="976.35" r="3.6" fill="none" stroke="#000" stroke-width="2.9"/>
<circle cx="1331" cy="987.42" r="3.6" fill="none" stroke="#000" stroke-width="2.9"/>
<circle cx="1331" cy="1003.41" r="3.6" fill="none" stroke="#000" stroke-width="2.9"/>
<circle cx="1314" cy="1017.09" r="3.6" fill="none" stroke="#000" stroke-width="2.9"/>
<circle cx="1325" cy="1020.48" r="3.6" fill="none" stroke="#000" stroke-width="2.9"/>
<circle cx="1336" cy="1024.47" r="3.6" fill="none" stroke="#000" stroke-width="2.9"/>
<circle cx="1347.6" cy="1027.09" r="3.6" fill="none" stroke="#000" stroke-width="2.9"/>
<circle cx="1397" cy="860.13" r="3.6" fill="none" stroke="#000" stroke-width="2.9"/>
<circle cx="1397" cy="915.63" r="3.6" fill="none" stroke="#000" stroke-width="2.9"/>
<circle cx="1380" cy="978.35" r="3.6" fill="none" stroke="#000" stroke-width="2.9"/>
<circle cx="1391" cy="982.35" r="3.6" fill="none" stroke="#000" stroke-width="2.9"/>
<circle cx="1402" cy="984.35" r="3.6" fill="none" stroke="#000" stroke-width="2.9"/>
<circle cx="1413.6" cy="986.35" r="3.6" fill="none" stroke="#000" stroke-width="2.9"/>
<circle cx="1402" cy="988.35" r="3.6" fill="none" stroke="#000" stroke-width="2.9"/>
<circle cx="1391" cy="997.42" r="3.6" fill="none" stroke="#000" stroke-width="2.9"/>
<circle cx="1391" cy="1000.49" r="3.6" fill="none" stroke="#000" stroke-width="2.9"/>
<circle cx="1402" cy="1010.18" r="3.6" fill="none" stroke="#000" stroke-width="2.9"/>
<circle cx="1391" cy="1019.09" r="3.6" fill="none" stroke="#000" stroke-width="2.9"/>
<circle cx="1402" cy="1025.55" r="3.6" fill="none" stroke="#000" stroke-width="2.9"/>
<line x1="1331" y1="988.35" x2="1331" y2="1004.49" stroke="#000" stroke-width="3.2" stroke-linecap="butt"/>
<line x1="1319" y1="988.35" x2="1343" y2="988.35" stroke="#000" stroke-width="3.2" stroke-linecap="butt"/>
<line x1="1319" y1="1004.49" x2="1343" y2="1004.49" stroke="#000" stroke-width="3.2" stroke-linecap="butt"/>
<line x1="1397" y1="965.29" x2="1397" y2="992.5" stroke="#000" stroke-width="3.2" stroke-linecap="butt"/>
<line x1="1385" y1="965.29" x2="1409" y2="965.29" stroke="#000" stroke-width="3.2" stroke-linecap="butt"/>
<line x1="1385" y1="992.5" x2="1409" y2="992.5" stroke="#000" stroke-width="3.2" stroke-linecap="butt"/>
<line x1="1287.5" y1="828.4" x2="1287.5" y2="1062.2" stroke="#000" stroke-width="3.2" stroke-linecap="butt"/>
<line x1="1276.6" y1="1060.6" x2="1443" y2="1060.6" stroke="#000" stroke-width="3.2" stroke-linecap="butt"/>
<line x1="1276.5" y1="1060.6" x2="1287.5" y2="1060.6" stroke="#000" stroke-width="3.2" stroke-linecap="butt"/>
<text transform="translate(1263.4,1067.5) scale(1.02,1)" font-size="23" text-anchor="end" fill="#000">0</text>
<line x1="1276.5" y1="983.73" x2="1287.5" y2="983.73" stroke="#000" stroke-width="3.2" stroke-linecap="butt"/>
<text transform="translate(1266.9,990.63) scale(1.02,1)" font-size="23" text-anchor="end" fill="#000">50</text>
<line x1="1276.5" y1="906.87" x2="1287.5" y2="906.87" stroke="#000" stroke-width="3.2" stroke-linecap="butt"/>
<text transform="translate(1270.4,913.77) scale(1.02,1)" font-size="23" text-anchor="end" fill="#000">100</text>
<line x1="1276.5" y1="830" x2="1287.5" y2="830" stroke="#000" stroke-width="3.2" stroke-linecap="butt"/>
<text transform="translate(1270.4,836.9) scale(1.02,1)" font-size="23" text-anchor="end" fill="#000">150</text>
<line x1="1331" y1="1060.6" x2="1331" y2="1071.6" stroke="#000" stroke-width="3.2" stroke-linecap="butt"/>
<line x1="1397" y1="1060.6" x2="1397" y2="1071.6" stroke="#000" stroke-width="3.2" stroke-linecap="butt"/>
<text transform="translate(1335.5,1090) scale(1.02,1)" font-size="23.3" text-anchor="middle" fill="#000">ND</text>
<text transform="translate(1403,1090) scale(1.02,1)" font-size="23.3" text-anchor="middle" fill="#000">HFD</text>
<text transform="translate(1220.4,936.4) rotate(-90)" font-size="23.8" text-anchor="middle" fill="#000">Amplitude (pA)</text>
<rect x="563.7" y="1742.62" width="43.9" height="92.58" fill="#808080"/>
<rect x="630" y="1767.5" width="43.8" height="67.7" fill="#55a0fc"/>
<circle cx="585.5" cy="1649.46" r="3.6" fill="none" stroke="#000" stroke-width="2.9"/>
<circle cx="585.5" cy="1676.66" r="3.6" fill="none" stroke="#000" stroke-width="2.9"/>
<circle cx="579.9" cy="1680.71" r="3.6" fill="none" stroke="#000" stroke-width="2.9"/>
<circle cx="591.3" cy="1688.81" r="3.6" fill="none" stroke="#000" stroke-width="2.9"/>
<circle cx="591.3" cy="1696.91" r="3.6" fill="none" stroke="#000" stroke-width="2.9"/>
<circle cx="579.9" cy="1705.59" r="3.6" fill="none" stroke="#000" stroke-width="2.9"/>
<circle cx="585.5" cy="1721.21" r="3.6" fill="none" stroke="#000" stroke-width="2.9"/>
<circle cx="585.5" cy="1733.94" r="3.6" fill="none" stroke="#000" stroke-width="2.9"/>
<circle cx="579.9" cy="1747.25" r="3.6" fill="none" stroke="#000" stroke-width="2.9"/>
<circle cx="591.3" cy="1747.25" r="3.6" fill="none" stroke="#000" stroke-width="2.9"/>
<circle cx="579.9" cy="1754.77" r="3.6" fill="none" stroke="#000" stroke-width="2.9"/>
<circle cx="591.3" cy="1759.4" r="3.6" fill="none" stroke="#000" stroke-width="2.9"/>
<circle cx="602.1" cy="1768.08" r="3.6" fill="none" stroke="#000" stroke-width="2.9"/>
<circle cx="591.3" cy="1771.55" r="3.6" fill="none" stroke="#000" stroke-width="2.9"/>
<circle cx="568.5" cy="1774.44" r="3.6" fill="none" stroke="#000" stroke-width="2.9"/>
<circle cx="579.9" cy="1777.34" r="3.6" fill="none" stroke="#000" stroke-width="2.9"/>
<circle cx="579.9" cy="1810.32" r="3.6" fill="none" stroke="#000" stroke-width="2.9"/>
<circle cx="591.3" cy="1811.48" r="3.6" fill="none" stroke="#000" stroke-width="2.9"/>
<circle cx="585.5" cy="1823.05" r="3.6" fill="none" stroke="#000" stroke-width="2.9"/>
<circle cx="644.5" cy="1706.17" r="3.6" fill="none" stroke="#000" stroke-width="2.9"/>
<circle cx="659.4" cy="1705.01" r="3.6" fill="none" stroke="#000" stroke-width="2.9"/>
<circle cx="651.5" cy="1720.63" r="3.6" fill="none" stroke="#000" stroke-width="2.9"/>
<circle cx="644.5" cy="1742.62" r="3.6" fill="none" stroke="#000" stroke-width="2.9"/>
<circle cx="659.4" cy="1751.3" r="3.6" fill="none" stroke="#000" stroke-width="2.9"/>
<circle cx="637" cy="1753.61" r="3.6" fill="none" stroke="#000" stroke-width="2.9"/>
<circle cx="651.5" cy="1759.4" r="3.6" fill="none" stroke="#000" stroke-width="2.9"/>
<circle cx="667" cy="1762.87" r="3.6" fill="none" stroke="#000" stroke-width="2.9"/>
<circle cx="659.4" cy="1771.55" r="3.6" fill="none" stroke="#000" stroke-width="2.9"/>
<circle cx="644.5" cy="1777.34" r="3.6" fill="none" stroke="#000" stroke-width="2.9"/>
<circle cx="651.5" cy="1794.12" r="3.6" fill="none" stroke="#000" stroke-width="2.9"/>
<circle cx="644.5" cy="1801.06" r="3.6" fill="none" stroke="#000" stroke-width="2.9"/>
<circle cx="659.4" cy="1805.11" r="3.6" fill="none" stroke="#000" stroke-width="2.9"/>
<circle cx="644.5" cy="1828.26" r="3.6" fill="none" stroke="#000" stroke-width="2.9"/>
<circle cx="659.4" cy="1828.26" r="3.6" fill="none" stroke="#000" stroke-width="2.9"/>
<line x1="585.5" y1="1730.47" x2="585.5" y2="1753.61" stroke="#000" stroke-width="3.2" stroke-linecap="butt"/>
<line x1="573.5" y1="1730.47" x2="597.5" y2="1730.47" stroke="#000" stroke-width="3.2" stroke-linecap="butt"/>
<line x1="573.5" y1="1753.61" x2="597.5" y2="1753.61" stroke="#000" stroke-width="3.2" stroke-linecap="butt"/>
<line x1="651.5" y1="1755.93" x2="651.5" y2="1777.34" stroke="#000" stroke-width="3.2" stroke-linecap="butt"/>
<line x1="639.5" y1="1755.93" x2="663.5" y2="1755.93" stroke="#000" stroke-width="3.2" stroke-linecap="butt"/>
<line x1="639.5" y1="1777.34" x2="663.5" y2="1777.34" stroke="#000" stroke-width="3.2" stroke-linecap="butt"/>
<line x1="541.4" y1="1602.15" x2="541.4" y2="1836.8" stroke="#000" stroke-width="3.2" stroke-linecap="butt"/>
<line x1="531.1" y1="1835.2" x2="697.6" y2="1835.2" stroke="#000" stroke-width="3.2" stroke-linecap="butt"/>
<line x1="530.4" y1="1835.2" x2="541.4" y2="1835.2" stroke="#000" stroke-width="3.2" stroke-linecap="butt"/>
<text transform="translate(520.8,1842.3) scale(1.02,1)" font-size="23" text-anchor="end" fill="#000">0</text>
<line x1="530.4" y1="1777.34" x2="541.4" y2="1777.34" stroke="#000" stroke-width="3.2" stroke-linecap="butt"/>
<text transform="translate(524.3,1784.44) scale(1.02,1)" font-size="23" text-anchor="end" fill="#000">10</text>
<line x1="530.4" y1="1719.47" x2="541.4" y2="1719.47" stroke="#000" stroke-width="3.2" stroke-linecap="butt"/>
<text transform="translate(524.3,1726.57) scale(1.02,1)" font-size="23" text-anchor="end" fill="#000">20</text>
<line x1="530.4" y1="1661.61" x2="541.4" y2="1661.61" stroke="#000" stroke-width="3.2" stroke-linecap="butt"/>
<text transform="translate(524.3,1668.71) scale(1.02,1)" font-size="23" text-anchor="end" fill="#000">30</text>
<line x1="530.4" y1="1603.75" x2="541.4" y2="1603.75" stroke="#000" stroke-width="3.2" stroke-linecap="butt"/>
<text transform="translate(524.3,1610.85) scale(1.02,1)" font-size="23" text-anchor="end" fill="#000">40</text>
<line x1="585.5" y1="1835.2" x2="585.5" y2="1846.2" stroke="#000" stroke-width="3.2" stroke-linecap="butt"/>
<line x1="651.5" y1="1835.2" x2="651.5" y2="1846.2" stroke="#000" stroke-width="3.2" stroke-linecap="butt"/>
<text transform="translate(587.5,1869.3) scale(1.02,1)" font-size="23.3" text-anchor="middle" fill="#000">ND</text>
<text transform="translate(655.4,1869.3) scale(1.02,1)" font-size="23.3" text-anchor="middle" fill="#000">HFD</text>
<text transform="translate(487.2,1715.6) rotate(-90)" font-size="23.6" text-anchor="middle" fill="#000">Frequency (Hz)</text>
<rect x="563" y="2135.55" width="43.6" height="110.35" fill="#808080"/>
<rect x="629" y="2124.84" width="43.8" height="121.06" fill="#55a0fc"/>
<circle cx="584.2" cy="2048.95" r="3.6" fill="none" stroke="#000" stroke-width="2.9"/>
<circle cx="575.3" cy="2104.82" r="3.6" fill="none" stroke="#000" stroke-width="2.9"/>
<circle cx="584.2" cy="2109.48" r="3.6" fill="none" stroke="#000" stroke-width="2.9"/>
<circle cx="593.1" cy="2110.88" r="3.6" fill="none" stroke="#000" stroke-width="2.9"/>
<circle cx="584.2" cy="2119.26" r="3.6" fill="none" stroke="#000" stroke-width="2.9"/>
<circle cx="575.3" cy="2122.98" r="3.6" fill="none" stroke="#000" stroke-width="2.9"/>
<circle cx="593.1" cy="2123.45" r="3.6" fill="none" stroke="#000" stroke-width="2.9"/>
<circle cx="584.2" cy="2140.21" r="3.6" fill="none" stroke="#000" stroke-width="2.9"/>
<circle cx="575.3" cy="2141.61" r="3.6" fill="none" stroke="#000" stroke-width="2.9"/>
<circle cx="593.1" cy="2143.93" r="3.6" fill="none" stroke="#000" stroke-width="2.9"/>
<circle cx="575.3" cy="2147.19" r="3.6" fill="none" stroke="#000" stroke-width="2.9"/>
<circle cx="584.2" cy="2148.59" r="3.6" fill="none" stroke="#000" stroke-width="2.9"/>
<circle cx="593.1" cy="2149.06" r="3.6" fill="none" stroke="#000" stroke-width="2.9"/>
<circle cx="601.8" cy="2154.18" r="3.6" fill="none" stroke="#000" stroke-width="2.9"/>
<circle cx="566.2" cy="2155.11" r="3.6" fill="none" stroke="#000" stroke-width="2.9"/>
<circle cx="575.3" cy="2157.44" r="3.6" fill="none" stroke="#000" stroke-width="2.9"/>
<circle cx="584.2" cy="2159.3" r="3.6" fill="none" stroke="#000" stroke-width="2.9"/>
<circle cx="593.1" cy="2166.28" r="3.6" fill="none" stroke="#000" stroke-width="2.9"/>
<circle cx="601.8" cy="2166.75" r="3.6" fill="none" stroke="#000" stroke-width="2.9"/>
<circle cx="641.1" cy="2090.39" r="3.6" fill="none" stroke="#000" stroke-width="2.9"/>
<circle cx="653.5" cy="2090.39" r="3.6" fill="none" stroke="#000" stroke-width="2.9"/>
<circle cx="659.3" cy="2095.51" r="3.6" fill="none" stroke="#000" stroke-width="2.9"/>
<circle cx="647.3" cy="2100.17" r="3.6" fill="none" stroke="#000" stroke-width="2.9"/>
<circle cx="653.5" cy="2111.34" r="3.6" fill="none" stroke="#000" stroke-width="2.9"/>
<circle cx="647.3" cy="2121.12" r="3.6" fill="none" stroke="#000" stroke-width="2.9"/>
<circle cx="656.6" cy="2128.1" r="3.6" fill="none" stroke="#000" stroke-width="2.9"/>
<circle cx="662.8" cy="2132.29" r="3.6" fill="none" stroke="#000" stroke-width="2.9"/>
<circle cx="668" cy="2133.22" r="3.6" fill="none" stroke="#000" stroke-width="2.9"/>
<circle cx="632.2" cy="2134.16" r="3.6" fill="none" stroke="#000" stroke-width="2.9"/>
<circle cx="639" cy="2134.62" r="3.6" fill="none" stroke="#000" stroke-width="2.9"/>
<circle cx="644.2" cy="2136.02" r="3.6" fill="none" stroke="#000" stroke-width="2.9"/>
<circle cx="650.4" cy="2138.35" r="3.6" fill="none" stroke="#000" stroke-width="2.9"/>
<circle cx="647.3" cy="2172.34" r="3.6" fill="none" stroke="#000" stroke-width="2.9"/>
<circle cx="653.5" cy="2172.8" r="3.6" fill="none" stroke="#000" stroke-width="2.9"/>
<line x1="584.2" y1="2129.03" x2="584.2" y2="2143" stroke="#000" stroke-width="3.2" stroke-linecap="butt"/>
<line x1="572.2" y1="2129.03" x2="596.2" y2="2129.03" stroke="#000" stroke-width="3.2" stroke-linecap="butt"/>
<line x1="572.2" y1="2143" x2="596.2" y2="2143" stroke="#000" stroke-width="3.2" stroke-linecap="butt"/>
<line x1="650.4" y1="2118.79" x2="650.4" y2="2133.22" stroke="#000" stroke-width="3.2" stroke-linecap="butt"/>
<line x1="638.4" y1="2118.79" x2="662.4" y2="2118.79" stroke="#000" stroke-width="3.2" stroke-linecap="butt"/>
<line x1="638.4" y1="2133.22" x2="662.4" y2="2133.22" stroke="#000" stroke-width="3.2" stroke-linecap="butt"/>
<line x1="540.5" y1="2011.5" x2="540.5" y2="2247.5" stroke="#000" stroke-width="3.2" stroke-linecap="butt"/>
<line x1="529.8" y1="2245.9" x2="697" y2="2245.9" stroke="#000" stroke-width="3.2" stroke-linecap="butt"/>
<line x1="529.5" y1="2245.9" x2="540.5" y2="2245.9" stroke="#000" stroke-width="3.2" stroke-linecap="butt"/>
<text transform="translate(522.1,2252.7) scale(1.02,1)" font-size="23" text-anchor="end" fill="#000">0</text>
<line x1="529.5" y1="2199.34" x2="540.5" y2="2199.34" stroke="#000" stroke-width="3.2" stroke-linecap="butt"/>
<text transform="translate(525.6,2206.14) scale(1.02,1)" font-size="23" text-anchor="end" fill="#000">10</text>
<line x1="529.5" y1="2152.78" x2="540.5" y2="2152.78" stroke="#000" stroke-width="3.2" stroke-linecap="butt"/>
<text transform="translate(525.6,2159.58) scale(1.02,1)" font-size="23" text-anchor="end" fill="#000">20</text>
<line x1="529.5" y1="2106.22" x2="540.5" y2="2106.22" stroke="#000" stroke-width="3.2" stroke-linecap="butt"/>
<text transform="translate(525.6,2113.02) scale(1.02,1)" font-size="23" text-anchor="end" fill="#000">30</text>
<line x1="529.5" y1="2059.66" x2="540.5" y2="2059.66" stroke="#000" stroke-width="3.2" stroke-linecap="butt"/>
<text transform="translate(525.6,2066.46) scale(1.02,1)" font-size="23" text-anchor="end" fill="#000">40</text>
<line x1="529.5" y1="2013.1" x2="540.5" y2="2013.1" stroke="#000" stroke-width="3.2" stroke-linecap="butt"/>
<text transform="translate(525.6,2019.9) scale(1.02,1)" font-size="23" text-anchor="end" fill="#000">50</text>
<line x1="584.2" y1="2245.9" x2="584.2" y2="2256.9" stroke="#000" stroke-width="3.2" stroke-linecap="butt"/>
<line x1="650.4" y1="2245.9" x2="650.4" y2="2256.9" stroke="#000" stroke-width="3.2" stroke-linecap="butt"/>
<text transform="translate(586.6,2274.5) scale(1.02,1)" font-size="23.3" text-anchor="middle" fill="#000">ND</text>
<text transform="translate(654.5,2274.5) scale(1.02,1)" font-size="23.3" text-anchor="middle" fill="#000">HFD</text>
<text transform="translate(489.1,2120.4) rotate(-90)" font-size="23.7" text-anchor="middle" fill="#000">Amplitude (pA)</text>
<rect x="1307.4" y="1797.56" width="43.6" height="37.04" fill="#808080"/>
<rect x="1373.6" y="1776.72" width="43.8" height="57.88" fill="#55a0fc"/>
<circle cx="1329" cy="1676.02" r="3.6" fill="none" stroke="#000" stroke-width="2.9"/>
<circle cx="1329" cy="1736.21" r="3.6" fill="none" stroke="#000" stroke-width="2.9"/>
<circle cx="1329" cy="1748.94" r="3.6" fill="none" stroke="#000" stroke-width="2.9"/>
<circle cx="1329" cy="1763.99" r="3.6" fill="none" stroke="#000" stroke-width="2.9"/>
<circle cx="1323.2" cy="1769.78" r="3.6" fill="none" stroke="#000" stroke-width="2.9"/>
<circle cx="1335" cy="1770.94" r="3.6" fill="none" stroke="#000" stroke-width="2.9"/>
<circle cx="1320.2" cy="1812.61" r="3.6" fill="none" stroke="#000" stroke-width="2.9"/>
<circle cx="1332" cy="1811.8" r="3.6" fill="none" stroke="#000" stroke-width="2.9"/>
<circle cx="1326.2" cy="1817.24" r="3.6" fill="none" stroke="#000" stroke-width="2.9"/>
<circle cx="1337.6" cy="1818.39" r="3.6" fill="none" stroke="#000" stroke-width="2.9"/>
<circle cx="1329" cy="1825.34" r="3.6" fill="none" stroke="#000" stroke-width="2.9"/>
<circle cx="1340.6" cy="1824.65" r="3.6" fill="none" stroke="#000" stroke-width="2.9"/>
<circle cx="1311.6" cy="1828.23" r="3.6" fill="none" stroke="#000" stroke-width="2.9"/>
<circle cx="1316.6" cy="1828.81" r="3.6" fill="none" stroke="#000" stroke-width="2.9"/>
<circle cx="1323.2" cy="1831.13" r="3.6" fill="none" stroke="#000" stroke-width="2.9"/>
<circle cx="1335" cy="1831.13" r="3.6" fill="none" stroke="#000" stroke-width="2.9"/>
<circle cx="1346.6" cy="1831.13" r="3.6" fill="none" stroke="#000" stroke-width="2.9"/>
<circle cx="1395.6" cy="1654.03" r="3.6" fill="none" stroke="#000" stroke-width="2.9"/>
<circle cx="1395.6" cy="1702.64" r="3.6" fill="none" stroke="#000" stroke-width="2.9"/>
<circle cx="1390" cy="1713.06" r="3.6" fill="none" stroke="#000" stroke-width="2.9"/>
<circle cx="1401.6" cy="1716.53" r="3.6" fill="none" stroke="#000" stroke-width="2.9"/>
<circle cx="1395.6" cy="1775.91" r="3.6" fill="none" stroke="#000" stroke-width="2.9"/>
<circle cx="1389.6" cy="1789.92" r="3.6" fill="none" stroke="#000" stroke-width="2.9"/>
<circle cx="1401" cy="1795.24" r="3.6" fill="none" stroke="#000" stroke-width="2.9"/>
<circle cx="1406.6" cy="1803.35" r="3.6" fill="none" stroke="#000" stroke-width="2.9"/>
<circle cx="1395.6" cy="1806.24" r="3.6" fill="none" stroke="#000" stroke-width="2.9"/>
<circle cx="1384" cy="1812.84" r="3.6" fill="none" stroke="#000" stroke-width="2.9"/>
<circle cx="1379" cy="1817.58" r="3.6" fill="none" stroke="#000" stroke-width="2.9"/>
<circle cx="1389.6" cy="1822.21" r="3.6" fill="none" stroke="#000" stroke-width="2.9"/>
<circle cx="1401" cy="1825.22" r="3.6" fill="none" stroke="#000" stroke-width="2.9"/>
<circle cx="1412" cy="1826.27" r="3.6" fill="none" stroke="#000" stroke-width="2.9"/>
<line x1="1329" y1="1786.33" x2="1329" y2="1806.82" stroke="#000" stroke-width="3.2" stroke-linecap="butt"/>
<line x1="1317" y1="1786.33" x2="1341" y2="1786.33" stroke="#000" stroke-width="3.2" stroke-linecap="butt"/>
<line x1="1317" y1="1806.82" x2="1341" y2="1806.82" stroke="#000" stroke-width="3.2" stroke-linecap="butt"/>
<line x1="1395.6" y1="1760.98" x2="1395.6" y2="1790.27" stroke="#000" stroke-width="3.2" stroke-linecap="butt"/>
<line x1="1383.6" y1="1760.98" x2="1407.6" y2="1760.98" stroke="#000" stroke-width="3.2" stroke-linecap="butt"/>
<line x1="1383.6" y1="1790.27" x2="1407.6" y2="1790.27" stroke="#000" stroke-width="3.2" stroke-linecap="butt"/>
<line x1="1285" y1="1601.5" x2="1285" y2="1836.2" stroke="#000" stroke-width="3.2" stroke-linecap="butt"/>
<line x1="1274.7" y1="1834.6" x2="1442" y2="1834.6" stroke="#000" stroke-width="3.2" stroke-linecap="butt"/>
<line x1="1274" y1="1834.6" x2="1285" y2="1834.6" stroke="#000" stroke-width="3.2" stroke-linecap="butt"/>
<text transform="translate(1264.6,1841.4) scale(1.02,1)" font-size="23" text-anchor="end" fill="#000">0</text>
<line x1="1274" y1="1776.72" x2="1285" y2="1776.72" stroke="#000" stroke-width="3.2" stroke-linecap="butt"/>
<text transform="translate(1264.6,1783.52) scale(1.02,1)" font-size="23" text-anchor="end" fill="#000">5</text>
<line x1="1274" y1="1718.85" x2="1285" y2="1718.85" stroke="#000" stroke-width="3.2" stroke-linecap="butt"/>
<text transform="translate(1268.1,1725.65) scale(1.02,1)" font-size="23" text-anchor="end" fill="#000">10</text>
<line x1="1274" y1="1660.97" x2="1285" y2="1660.97" stroke="#000" stroke-width="3.2" stroke-linecap="butt"/>
<text transform="translate(1268.1,1667.77) scale(1.02,1)" font-size="23" text-anchor="end" fill="#000">15</text>
<line x1="1274" y1="1603.1" x2="1285" y2="1603.1" stroke="#000" stroke-width="3.2" stroke-linecap="butt"/>
<text transform="translate(1268.1,1609.9) scale(1.02,1)" font-size="23" text-anchor="end" fill="#000">20</text>
<line x1="1329" y1="1834.6" x2="1329" y2="1845.6" stroke="#000" stroke-width="3.2" stroke-linecap="butt"/>
<line x1="1395.6" y1="1834.6" x2="1395.6" y2="1845.6" stroke="#000" stroke-width="3.2" stroke-linecap="butt"/>
<text transform="translate(1331,1869.1) scale(1.02,1)" font-size="23.3" text-anchor="middle" fill="#000">ND</text>
<text transform="translate(1399,1869.1) scale(1.02,1)" font-size="23.3" text-anchor="middle" fill="#000">HFD</text>
<text transform="translate(1230.4,1706.3) rotate(-90)" font-size="23.7" text-anchor="middle" fill="#000">Frequency (Hz)</text>
<rect x="1307.6" y="2183.64" width="43.4" height="56.66" fill="#808080"/>
<rect x="1373.8" y="2163.98" width="44" height="76.32" fill="#55a0fc"/>
<circle cx="1323.3" cy="2138.75" r="3.6" fill="none" stroke="#000" stroke-width="2.9"/>
<circle cx="1329.1" cy="2140.45" r="3.6" fill="none" stroke="#000" stroke-width="2.9"/>
<circle cx="1335.1" cy="2143.4" r="3.6" fill="none" stroke="#000" stroke-width="2.9"/>
<circle cx="1332.1" cy="2152.06" r="3.6" fill="none" stroke="#000" stroke-width="2.9"/>
<circle cx="1326.3" cy="2159.03" r="3.6" fill="none" stroke="#000" stroke-width="2.9"/>
<circle cx="1329.1" cy="2182.71" r="3.6" fill="none" stroke="#000" stroke-width="2.9"/>
<circle cx="1311.7" cy="2188.29" r="3.6" fill="none" stroke="#000" stroke-width="2.9"/>
<circle cx="1323.3" cy="2191.38" r="3.6" fill="none" stroke="#000" stroke-width="2.9"/>
<circle cx="1335.1" cy="2191.38" r="3.6" fill="none" stroke="#000" stroke-width="2.9"/>
<circle cx="1317.7" cy="2196.34" r="3.6" fill="none" stroke="#000" stroke-width="2.9"/>
<circle cx="1329.1" cy="2196.34" r="3.6" fill="none" stroke="#000" stroke-width="2.9"/>
<circle cx="1340.7" cy="2196.96" r="3.6" fill="none" stroke="#000" stroke-width="2.9"/>
<circle cx="1346.7" cy="2196.96" r="3.6" fill="none" stroke="#000" stroke-width="2.9"/>
<circle cx="1317.7" cy="2202.37" r="3.6" fill="none" stroke="#000" stroke-width="2.9"/>
<circle cx="1323.3" cy="2205.32" r="3.6" fill="none" stroke="#000" stroke-width="2.9"/>
<circle cx="1329.1" cy="2206.4" r="3.6" fill="none" stroke="#000" stroke-width="2.9"/>
<circle cx="1335.1" cy="2206.4" r="3.6" fill="none" stroke="#000" stroke-width="2.9"/>
<circle cx="1340.7" cy="2208.26" r="3.6" fill="none" stroke="#000" stroke-width="2.9"/>
<circle cx="1395.5" cy="2070.79" r="3.6" fill="none" stroke="#000" stroke-width="2.9"/>
<circle cx="1395.5" cy="2130.86" r="3.6" fill="none" stroke="#000" stroke-width="2.9"/>
<circle cx="1387.9" cy="2144.32" r="3.6" fill="none" stroke="#000" stroke-width="2.9"/>
<circle cx="1402.9" cy="2147.42" r="3.6" fill="none" stroke="#000" stroke-width="2.9"/>
<circle cx="1380.9" cy="2157.33" r="3.6" fill="none" stroke="#000" stroke-width="2.9"/>
<circle cx="1395.5" cy="2159.34" r="3.6" fill="none" stroke="#000" stroke-width="2.9"/>
<circle cx="1409.9" cy="2162.75" r="3.6" fill="none" stroke="#000" stroke-width="2.9"/>
<circle cx="1395.5" cy="2177.3" r="3.6" fill="none" stroke="#000" stroke-width="2.9"/>
<circle cx="1409.9" cy="2181.32" r="3.6" fill="none" stroke="#000" stroke-width="2.9"/>
<circle cx="1380.9" cy="2183.95" r="3.6" fill="none" stroke="#000" stroke-width="2.9"/>
<circle cx="1395.5" cy="2188.29" r="3.6" fill="none" stroke="#000" stroke-width="2.9"/>
<circle cx="1380.9" cy="2191.38" r="3.6" fill="none" stroke="#000" stroke-width="2.9"/>
<circle cx="1395.5" cy="2192" r="3.6" fill="none" stroke="#000" stroke-width="2.9"/>
<circle cx="1409.9" cy="2199.9" r="3.6" fill="none" stroke="#000" stroke-width="2.9"/>
<line x1="1329.1" y1="2178.38" x2="1329.1" y2="2188.29" stroke="#000" stroke-width="3.2" stroke-linecap="butt"/>
<line x1="1317.1" y1="2178.38" x2="1341.1" y2="2178.38" stroke="#000" stroke-width="3.2" stroke-linecap="butt"/>
<line x1="1317.1" y1="2188.29" x2="1341.1" y2="2188.29" stroke="#000" stroke-width="3.2" stroke-linecap="butt"/>
<line x1="1395.5" y1="2154.39" x2="1395.5" y2="2172.96" stroke="#000" stroke-width="3.2" stroke-linecap="butt"/>
<line x1="1383.5" y1="2154.39" x2="1407.5" y2="2154.39" stroke="#000" stroke-width="3.2" stroke-linecap="butt"/>
<line x1="1383.5" y1="2172.96" x2="1407.5" y2="2172.96" stroke="#000" stroke-width="3.2" stroke-linecap="butt"/>
<line x1="1285.2" y1="2006.5" x2="1285.2" y2="2241.9" stroke="#000" stroke-width="3.2" stroke-linecap="butt"/>
<line x1="1274.7" y1="2240.3" x2="1442" y2="2240.3" stroke="#000" stroke-width="3.2" stroke-linecap="butt"/>
<line x1="1274.2" y1="2240.3" x2="1285.2" y2="2240.3" stroke="#000" stroke-width="3.2" stroke-linecap="butt"/>
<text transform="translate(1261.5,2247) scale(1.02,1)" font-size="23" text-anchor="end" fill="#000">0</text>
<line x1="1274.2" y1="2162.9" x2="1285.2" y2="2162.9" stroke="#000" stroke-width="3.2" stroke-linecap="butt"/>
<text transform="translate(1265,2169.6) scale(1.02,1)" font-size="23" text-anchor="end" fill="#000">50</text>
<line x1="1274.2" y1="2085.5" x2="1285.2" y2="2085.5" stroke="#000" stroke-width="3.2" stroke-linecap="butt"/>
<text transform="translate(1268.5,2092.2) scale(1.02,1)" font-size="23" text-anchor="end" fill="#000">100</text>
<line x1="1274.2" y1="2008.1" x2="1285.2" y2="2008.1" stroke="#000" stroke-width="3.2" stroke-linecap="butt"/>
<text transform="translate(1268.5,2014.8) scale(1.02,1)" font-size="23" text-anchor="end" fill="#000">150</text>
<line x1="1329.1" y1="2240.3" x2="1329.1" y2="2251.3" stroke="#000" stroke-width="3.2" stroke-linecap="butt"/>
<line x1="1395.5" y1="2240.3" x2="1395.5" y2="2251.3" stroke="#000" stroke-width="3.2" stroke-linecap="butt"/>
<text transform="translate(1331.1,2274.7) scale(1.02,1)" font-size="23.3" text-anchor="middle" fill="#000">ND</text>
<text transform="translate(1399,2274.7) scale(1.02,1)" font-size="23.3" text-anchor="middle" fill="#000">HFD</text>
<text transform="translate(1217.8,2115.4) rotate(-90)" font-size="23.7" text-anchor="middle" fill="#000">Amplitude (pA)</text>
<polyline points="1323.4,2053.6 1323.4,2045 1396.6,2045 1396.6,2053.6" fill="none" stroke="#000" stroke-width="3" stroke-linejoin="miter"/>
<text transform="translate(1359,2045)" font-size="22" text-anchor="middle" fill="#000">*</text>
</svg></body></html>
